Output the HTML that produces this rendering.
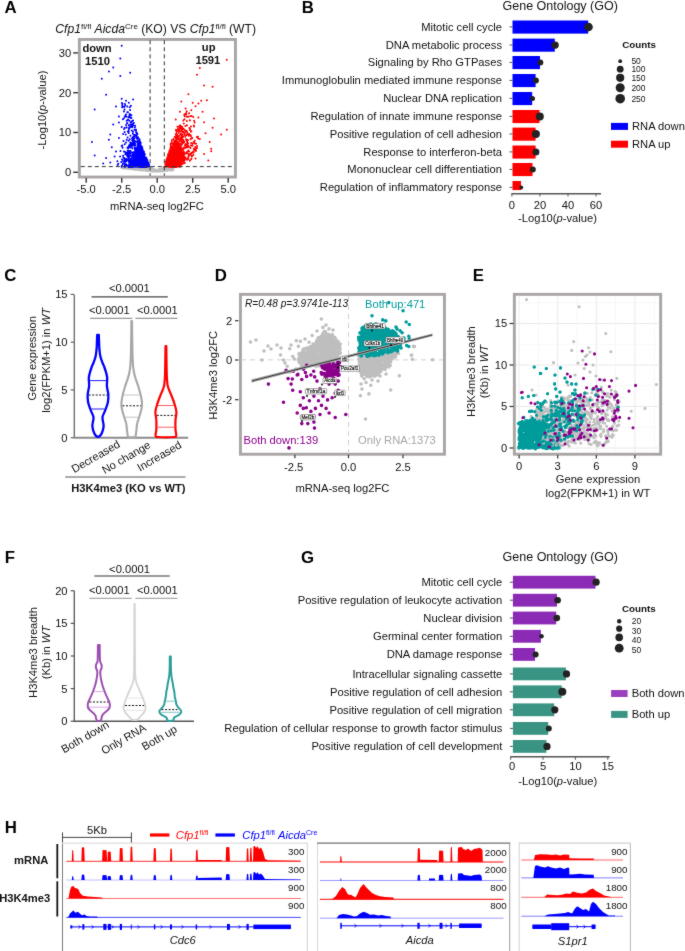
<!DOCTYPE html>
<html><head><meta charset="utf-8"><style>
html,body{margin:0;padding:0;background:#fff;}
svg{display:block;}
text{font-family:"Liberation Sans",sans-serif;}
</style></head><body>
<svg width="685" height="951" viewBox="0 0 685 951">
<defs><filter id="soft" x="0" y="0" width="685" height="951" filterUnits="userSpaceOnUse" color-interpolation-filters="sRGB"><feConvolveMatrix order="3" kernelMatrix="1 2 1 2 28 2 1 2 1" divisor="40" edgeMode="duplicate"/></filter></defs>
<g filter="url(#soft)"><rect x="0" y="0" width="685" height="951" fill="#fff"/>
<text x="4.4" y="12.6" font-size="16.8" font-weight="bold" fill="#000" >A</text>
<text x="301.7" y="12.6" font-size="16.8" font-weight="bold" fill="#000" >B</text>
<text x="4.2" y="280.5" font-size="16.8" font-weight="bold" fill="#000" >C</text>
<text x="214.7" y="280.5" font-size="16.8" font-weight="bold" fill="#000" >D</text>
<text x="472.7" y="280.5" font-size="16.8" font-weight="bold" fill="#000" >E</text>
<text x="4.7" y="562.6" font-size="16.8" font-weight="bold" fill="#000" >F</text>
<text x="300.9" y="562.5" font-size="16.8" font-weight="bold" fill="#000" >G</text>
<text x="4.7" y="833.0" font-size="16.8" font-weight="bold" fill="#000" >H</text>
<text x="55.3" y="33.3" font-size="12.15" fill="#111"><tspan font-style="italic">Cfp1</tspan><tspan font-size="8" dy="-4">fl/fl</tspan><tspan dy="4"> </tspan><tspan font-style="italic">Aicda</tspan><tspan font-size="8" dy="-4">Cre</tspan><tspan dy="4"> (KO) VS </tspan><tspan font-style="italic">Cfp1</tspan><tspan font-size="8" dy="-4">fl/fl</tspan><tspan dy="4"> (WT)</tspan></text>
<rect x="79.35" y="39.45" width="156.1" height="137.6" fill="#fff" stroke="#aaa5a5" stroke-width="2.9"/>
<path d="M151.2 169.5h0M131.4 167.3h0M171.7 168.0h0M173.1 168.9h0M165.2 170.3h0M160.2 169.6h0M170.3 167.8h0M167.3 170.0h0M162.5 169.8h0M137.9 169.0h0M163.1 168.2h0M165.5 168.5h0M130.5 168.9h0M151.1 170.6h0M139.1 169.9h0M129.7 167.8h0M133.3 167.6h0M138.8 167.6h0M137.4 169.2h0M142.2 170.5h0M144.3 169.4h0M122.4 167.4h0M141.1 170.4h0M171.5 169.8h0M134.8 169.7h0M126.9 167.7h0M151.9 169.7h0M134.5 168.9h0M172.0 169.3h0M173.0 167.6h0M128.2 167.5h0M122.8 167.6h0M163.7 168.6h0M150.2 167.9h0M129.7 168.1h0M135.5 168.8h0M131.6 167.8h0M151.4 168.5h0M154.3 170.0h0M169.5 167.9h0M151.1 170.2h0M169.8 169.4h0M127.0 168.3h0M158.3 169.6h0M155.2 170.0h0M170.3 168.0h0M144.8 169.1h0M161.1 170.6h0M127.4 167.9h0M163.6 170.4h0M157.1 170.1h0M128.3 168.8h0M147.3 169.8h0M170.9 167.2h0M144.8 167.9h0M154.4 171.3h0M172.1 169.9h0M125.6 168.0h0M122.6 167.8h0M143.1 167.4h0M143.1 167.7h0M162.1 169.5h0M134.0 168.8h0M147.2 169.5h0M155.2 170.5h0M138.4 168.3h0M173.4 169.7h0M139.1 170.1h0M126.6 168.7h0M143.6 167.8h0M157.9 169.7h0M165.1 168.9h0M151.8 171.5h0M141.6 169.6h0M153.9 171.5h0M149.8 169.8h0M147.2 169.5h0M127.0 167.7h0M163.2 169.1h0M127.7 167.9h0M166.8 167.3h0M161.0 171.5h0M167.2 168.5h0M136.0 167.4h0M164.5 167.6h0M134.5 168.3h0M141.3 169.5h0M161.2 169.6h0M138.9 168.6h0M169.8 168.7h0M169.0 168.8h0M173.1 170.3h0M145.5 168.8h0M159.4 169.1h0M154.0 170.3h0M154.6 170.3h0M158.2 169.6h0M122.4 168.0h0M167.1 170.8h0M162.7 171.4h0M155.3 169.7h0M134.0 168.6h0M133.4 167.9h0M149.1 168.8h0M138.6 168.4h0M171.2 168.0h0M171.0 169.8h0M148.4 169.6h0M139.6 167.8h0M130.8 168.1h0M161.8 168.3h0M122.7 168.1h0M147.3 167.4h0M130.2 167.5h0M142.3 168.7h0M169.8 170.5h0M138.8 169.7h0M128.6 168.5h0M158.0 170.6h0M128.0 167.6h0M148.0 170.6h0M164.2 167.9h0M132.9 167.3h0M163.7 170.5h0M121.8 167.4h0M164.5 170.9h0M161.4 169.0h0M154.5 169.4h0M172.7 169.4h0M164.9 167.5h0M138.0 168.1h0M157.2 170.2h0M151.1 170.4h0M134.7 168.4h0M128.7 167.5h0M167.8 170.1h0M157.8 170.4h0M128.0 167.6h0M161.4 170.6h0M126.8 168.4h0M161.7 170.0h0M164.0 170.7h0M127.2 168.3h0M167.3 170.4h0M125.5 167.6h0M126.4 167.7h0M126.0 168.4h0M156.1 169.8h0M142.9 169.1h0M123.3 168.1h0M134.2 167.7h0M158.7 169.9h0M149.3 168.4h0M128.3 168.3h0M136.9 169.2h0M160.0 171.2h0M138.6 169.3h0M166.5 168.6h0M146.6 169.5h0M169.5 167.4h0M145.0 168.8h0M166.4 170.1h0M135.1 169.5h0M147.7 168.1h0M129.8 168.3h0M173.0 168.9h0M141.5 167.7h0M167.9 169.5h0M128.1 167.9h0M160.1 169.0h0M155.9 171.2h0M148.4 170.0h0M144.8 169.1h0M169.0 167.5h0M169.7 169.1h0M171.7 170.1h0M169.4 168.5h0M166.9 169.5h0M173.1 170.3h0M165.6 167.9h0M141.1 167.8h0M132.8 167.8h0M146.0 169.4h0M131.9 167.6h0M159.6 171.6h0M172.4 169.8h0M141.1 169.1h0M151.6 168.1h0M170.7 168.5h0M140.6 170.0h0M125.3 167.9h0M151.9 169.9h0M172.6 169.1h0M139.9 169.0h0M130.6 167.3h0M152.3 169.6h0M143.8 169.8h0M138.0 168.7h0M144.8 167.3h0M150.9 170.6h0M124.5 168.4h0M139.6 167.9h0M167.8 170.1h0M162.1 170.0h0M149.6 169.1h0M123.9 168.5h0M156.3 170.3h0M141.4 167.5h0M164.2 170.1h0M125.2 167.9h0M155.6 171.3h0M124.0 167.9h0M123.5 167.5h0M154.1 170.9h0M144.8 169.9h0M131.3 169.0h0M164.0 169.5h0M158.8 171.0h0M163.5 169.0h0M155.6 170.9h0M150.8 170.7h0M172.2 168.3h0M149.3 168.7h0M126.9 168.3h0M133.7 167.6h0M122.4 167.9h0M166.7 168.0h0M159.0 171.1h0M133.7 167.9h0M137.2 168.0h0M139.8 167.9h0M151.4 168.3h0M172.8 169.2h0M172.8 170.4h0M167.2 170.9h0M150.0 169.7h0M161.6 170.5h0M132.5 167.7h0M150.2 168.2h0M147.1 170.9h0M161.7 170.9h0M146.2 170.9h0M135.1 168.1h0M161.3 169.5h0M144.7 168.2h0M156.4 171.5h0M149.4 168.8h0M159.5 171.3h0M137.8 169.1h0M126.7 168.3h0M159.5 170.2h0M130.7 167.8h0M127.8 167.6h0M129.4 168.9h0M134.7 168.4h0M135.7 167.5h0M170.3 169.7h0M160.6 169.6h0M150.8 170.4h0M170.9 167.4h0M122.4 168.0h0M138.3 169.5h0M144.0 167.6h0M122.9 167.4h0M137.7 170.0h0M168.3 169.9h0M132.7 169.2h0M140.7 170.0h0M131.0 168.8h0M151.7 169.8h0M137.5 168.5h0M161.8 169.1h0M139.5 167.5h0M162.7 169.4h0M146.3 169.7h0M128.7 167.4h0M153.2 171.4h0M169.7 167.6h0M123.4 167.6h0M134.0 168.3h0M164.9 169.8h0M147.5 168.5h0M131.7 168.0h0M143.7 167.3h0M131.4 167.8h0M123.8 168.2h0M127.8 168.7h0M149.1 170.5h0M162.9 171.1h0M154.0 169.1h0M128.3 168.6h0M161.3 170.1h0M170.0 169.5h0M142.3 167.3h0M139.5 167.3h0M167.9 170.2h0M150.0 167.4h0M127.8 167.5h0M161.8 169.0h0M152.8 171.3h0M171.4 170.2h0M162.3 168.9h0M138.2 168.1h0M143.0 168.0h0M123.9 167.3h0M141.6 167.8h0M146.1 167.9h0M137.3 168.5h0M123.0 167.8h0M125.8 167.4h0M156.8 171.1h0M172.2 167.4h0M171.3 170.3h0M158.2 170.2h0M153.1 171.6h0M169.6 169.2h0M152.5 168.7h0M136.0 169.8h0M169.6 169.8h0M123.8 168.4h0M173.3 168.0h0M132.6 169.1h0M168.2 168.5h0M151.9 171.1h0M143.1 167.4h0M121.9 167.9h0M124.7 167.2h0M127.1 167.3h0M165.3 168.3h0M123.9 167.6h0M147.3 169.2h0M129.2 168.1h0M163.3 170.9h0M167.1 169.4h0M135.5 169.2h0M145.5 168.5h0M151.2 168.0h0M148.2 169.1h0M173.0 169.7h0M122.6 168.0h0M137.9 169.7h0M143.4 170.5h0M169.4 169.1h0M167.2 168.4h0M159.5 169.7h0M137.3 168.0h0M132.4 168.2h0M152.6 168.9h0M130.4 168.5h0M164.4 168.0h0M172.4 170.1h0M132.6 169.2h0M159.2 169.8h0M155.3 169.8h0M148.4 168.9h0M169.4 168.5h0M155.7 170.4h0M147.3 168.1h0M151.4 171.0h0M143.8 169.2h0M144.1 168.7h0M140.4 169.1h0M143.8 169.4h0M172.1 170.2h0M122.6 167.5h0M142.2 169.0h0M152.4 170.3h0M134.1 169.5h0M167.0 167.4h0M136.5 168.6h0M138.5 169.9h0M168.0 167.8h0M134.2 168.9h0M157.9 170.1h0M146.0 169.5h0M133.8 167.7h0M166.5 167.8h0M127.6 167.9h0M172.8 168.1h0M145.5 170.3h0M124.8 167.6h0M125.3 167.5h0M156.2 170.8h0M167.9 167.5h0M153.7 171.4h0M152.2 170.0h0M134.6 167.4h0M159.5 171.5h0M133.6 168.7h0M151.4 170.2h0M144.5 167.9h0M131.1 167.8h0M138.8 167.4h0M171.0 169.5h0M153.1 171.3h0M143.0 168.5h0M154.8 170.9h0M123.5 168.3h0M150.7 170.7h0M137.6 168.3h0M168.4 169.0h0M134.9 168.2h0M136.0 167.8h0M129.8 168.7h0M144.4 167.5h0M130.3 168.8h0M128.5 168.7h0M138.9 169.0h0M161.1 170.4h0M146.3 169.5h0M161.8 168.4h0M143.8 167.5h0M134.7 167.3h0M148.9 168.5h0M141.5 169.6h0M128.7 167.4h0M140.3 168.1h0M145.6 168.9h0M132.4 169.1h0M139.1 168.2h0M149.9 171.3h0M158.5 170.8h0M125.3 168.3h0M132.7 167.6h0M150.2 170.0h0M134.6 169.0h0M136.2 168.9h0M162.7 168.6h0M157.9 169.9h0M155.6 171.6h0M124.0 168.3h0M135.1 168.4h0M164.3 168.9h0M144.0 169.8h0M172.6 168.0h0M139.4 170.1h0M172.6 169.6h0M165.6 170.7h0M155.5 171.0h0M167.8 169.9h0M126.9 168.5h0M163.5 167.5h0M155.0 170.0h0M136.3 169.1h0M126.2 167.2h0M123.9 167.7h0M139.8 169.7h0M144.3 167.4h0M134.5 169.3h0M154.3 169.8h0M148.2 170.4h0M167.0 170.6h0M130.7 168.8h0M148.3 169.3h0M150.4 168.4h0M168.0 169.2h0M123.9 167.4h0M122.7 168.0h0M129.1 168.0h0M162.2 171.1h0M137.0 167.6h0M157.4 171.8h0M157.3 170.3h0M142.9 170.1h0M155.9 171.1h0M128.6 168.8h0M142.6 170.1h0M141.7 168.7h0M150.3 169.7h0M163.2 171.1h0M138.8 167.4h0M166.5 167.5h0M161.4 169.8h0M162.5 169.4h0M127.8 168.5h0M126.7 167.4h0M138.4 168.9h0M149.6 170.9h0M158.3 170.0h0M163.0 168.1h0M138.1 169.7h0M161.2 169.4h0M141.0 169.3h0M129.7 167.5h0M145.6 167.9h0M139.3 169.2h0M148.3 168.2h0M167.5 169.7h0M157.6 171.1h0M166.4 168.1h0M150.5 169.9h0M135.9 167.5h0M163.2 170.3h0M126.1 168.5h0M171.7 170.4h0M163.7 169.3h0M150.4 169.2h0M143.0 168.7h0M126.4 167.3h0M127.0 168.7h0M156.6 170.5h0M163.5 168.7h0M169.9 170.6h0M122.3 168.1h0M162.1 171.0h0M149.2 168.1h0M129.8 168.1h0M168.4 168.1h0M142.3 168.9h0M136.1 167.3h0M162.3 169.1h0M137.5 168.0h0M146.9 168.0h0M140.6 167.6h0M157.2 171.1h0M150.9 168.2h0M149.1 167.4h0M122.1 167.3h0M158.7 170.7h0M165.7 170.6h0M139.2 168.1h0M164.4 169.8h0M173.2 168.3h0M124.0 168.4h0M125.7 167.9h0M138.4 169.3h0M144.9 170.5h0M168.8 167.8h0M150.7 169.6h0M137.7 168.3h0M139.7 167.3h0M171.3 168.1h0M164.5 171.0h0M128.1 168.4h0M128.2 168.3h0M172.8 167.7h0M171.4 169.8h0M133.2 169.5h0M135.9 169.7h0M149.1 170.0h0M156.6 170.7h0M152.7 170.6h0M159.8 169.8h0M158.7 170.7h0M145.7 169.8h0M123.8 167.9h0M153.6 171.1h0M166.3 167.7h0M165.9 167.9h0M147.0 170.3h0M135.8 167.9h0M172.7 170.1h0M122.0 167.9h0M139.8 168.4h0M127.5 167.5h0M139.2 167.5h0M138.8 169.2h0M130.8 167.3h0M152.3 168.6h0M125.0 167.9h0M159.7 169.0h0M170.2 170.3h0M141.0 167.2h0M149.4 167.4h0M134.8 169.7h0M170.7 169.7h0M150.8 170.0h0M151.6 168.0h0M170.8 167.6h0M135.0 167.7h0M122.7 167.9h0M170.6 169.8h0M140.7 168.5h0M134.0 167.9h0M155.5 171.7h0M169.4 170.5h0M157.8 171.2h0M129.1 169.0h0M173.4 167.8h0M145.5 168.0h0M172.0 167.5h0M149.3 170.1h0M148.6 167.3h0M159.5 169.9h0M165.4 169.6h0M150.7 168.0h0M132.0 167.5h0M123.0 167.8h0M151.5 170.9h0M169.5 169.2h0M131.3 168.5h0M152.4 170.1h0M121.9 168.2h0M158.7 171.6h0M134.9 167.7h0M166.4 167.7h0M130.7 169.3h0M160.8 169.8h0M140.6 170.3h0M144.1 169.9h0M152.2 168.0h0M132.6 169.3h0M157.7 171.8h0M133.3 168.5h0M172.8 169.4h0M138.1 168.7h0M130.1 168.4h0M158.0 171.2h0M163.0 170.8h0M127.0 167.8h0M145.2 167.5h0M127.1 167.6h0M156.4 171.1h0M128.4 167.9h0M161.0 170.1h0M146.2 168.4h0M153.3 170.3h0M131.3 168.4h0M150.2 167.6h0M173.3 168.6h0M138.7 169.5h0M154.4 169.6h0M134.5 168.0h0M173.5 169.1h0M170.4 169.2h0M155.5 169.6h0M132.2 168.7h0M172.7 170.2h0M137.6 168.7h0M160.3 169.8h0M169.9 168.4h0M121.8 168.2h0M123.6 168.0h0M123.1 167.8h0M154.5 171.2h0M166.1 169.5h0M171.5 169.4h0M153.8 170.0h0M135.3 167.8h0M121.9 168.1h0M138.3 167.5h0M147.6 170.9h0M137.2 168.3h0M163.6 171.0h0M162.1 170.2h0M148.9 169.5h0M144.4 167.2h0M169.3 167.5h0M159.8 169.8h0M129.0 169.0h0" stroke="#bdbdbd" stroke-width="2.0" stroke-linecap="round"/>
<path d="M143.3 158.6h0M141.6 150.0h0M136.2 153.0h0M138.0 165.6h0M139.9 166.1h0M147.3 165.3h0M140.1 152.0h0M143.7 163.9h0M145.0 157.3h0M135.0 152.0h0M128.2 166.5h0M132.5 163.4h0M145.9 163.3h0M138.7 149.0h0M135.0 162.4h0M132.0 157.6h0M142.9 152.7h0M144.8 165.6h0M133.7 158.7h0M133.5 158.9h0M138.5 155.2h0M141.1 161.7h0M134.5 160.7h0M142.3 154.7h0M131.1 160.0h0M129.9 166.6h0M138.5 151.8h0M137.4 163.1h0M134.5 166.1h0M137.9 160.9h0M133.2 163.9h0M137.7 159.1h0M133.3 156.1h0M147.2 162.9h0M136.9 153.3h0M133.5 165.5h0M146.2 157.9h0M132.0 162.4h0M136.1 151.0h0M139.4 166.5h0M145.7 162.7h0M132.0 165.6h0M143.1 163.7h0M140.8 151.1h0M139.0 165.0h0M142.7 155.3h0M145.1 162.4h0M137.7 159.8h0M140.7 150.3h0M130.4 166.0h0M143.0 162.5h0M136.6 161.0h0M137.9 151.7h0M140.5 167.0h0M133.4 157.4h0M142.6 165.9h0M136.3 154.4h0M141.8 149.4h0M144.0 164.5h0M144.2 163.8h0M136.9 156.8h0M134.6 164.4h0M147.9 165.5h0M144.2 161.6h0M145.3 158.2h0M146.7 167.1h0M140.8 164.5h0M130.0 166.5h0M140.3 151.0h0M139.6 160.5h0M143.5 157.6h0M148.4 163.2h0M134.2 154.9h0M146.9 164.9h0M140.5 158.1h0M137.7 145.4h0M128.3 166.5h0M141.2 153.2h0M143.8 152.9h0M144.7 154.7h0M141.8 163.5h0M139.0 160.3h0M130.8 162.7h0M140.2 154.8h0M141.6 158.5h0M147.8 162.2h0M144.1 163.3h0M142.3 162.4h0M136.0 161.2h0M145.7 157.8h0M143.5 166.4h0M131.6 160.3h0M137.1 166.0h0M149.2 165.5h0M135.2 165.9h0M142.6 161.3h0M143.4 162.0h0M143.9 157.3h0M136.6 162.9h0M141.9 158.0h0M134.2 164.9h0M144.2 164.8h0M135.6 160.6h0M130.3 162.4h0M138.6 149.6h0M136.1 166.4h0M142.6 151.4h0M138.6 148.1h0M145.3 163.8h0M144.7 164.6h0M129.8 163.3h0M142.1 166.6h0M134.0 157.9h0M148.4 163.7h0M141.8 166.4h0M143.6 154.7h0M141.2 152.3h0M130.3 162.6h0M140.8 160.5h0M134.2 160.8h0M137.9 160.3h0M138.9 144.3h0M136.0 157.8h0M143.5 156.2h0M142.1 151.9h0M134.2 154.0h0M144.2 153.4h0M141.3 155.6h0M131.9 167.0h0M137.5 162.6h0M137.1 159.9h0M134.9 158.6h0M140.5 155.4h0M136.3 164.3h0M141.2 160.6h0M136.5 161.1h0M140.0 155.6h0M136.5 164.8h0M134.8 156.9h0M138.0 154.3h0M133.2 155.2h0M143.3 153.4h0M144.1 159.2h0M132.7 165.6h0M144.2 155.6h0M138.2 145.1h0M138.8 163.9h0M143.9 165.2h0M134.1 165.2h0M145.5 161.5h0M132.2 163.1h0M139.9 149.8h0M148.1 164.0h0M140.8 146.6h0M134.8 156.7h0M146.2 166.9h0M138.6 162.9h0M137.0 153.6h0M140.8 162.0h0M142.1 148.2h0M134.3 152.6h0M142.4 166.7h0M135.1 157.2h0M139.9 142.5h0M147.2 161.6h0M143.0 164.4h0M132.0 166.1h0M144.3 160.0h0M142.0 151.9h0M131.4 162.4h0M139.3 144.8h0M138.8 155.8h0M147.9 164.8h0M133.8 158.9h0M139.0 142.8h0M141.8 157.5h0M129.8 164.9h0M129.8 165.4h0M137.6 155.2h0M143.7 155.4h0M144.3 160.1h0M139.1 153.3h0M145.3 164.3h0M145.0 165.8h0M139.9 158.9h0M131.4 160.8h0M140.8 154.0h0M146.0 158.0h0M147.1 160.5h0M137.1 160.1h0M137.3 162.1h0M129.1 165.4h0M135.3 162.4h0M141.0 153.9h0M134.5 156.8h0M146.4 158.9h0M139.4 149.9h0M138.7 159.4h0M138.0 156.5h0M146.6 165.7h0M132.5 165.3h0M143.7 160.4h0M130.1 164.9h0M141.3 163.7h0M141.6 159.7h0M136.6 159.4h0M138.3 163.0h0M141.5 147.8h0M139.5 166.4h0M141.4 147.3h0M138.7 159.0h0M141.4 167.1h0M133.7 154.7h0M136.5 161.8h0M144.0 167.0h0M140.1 164.8h0M149.2 166.0h0M141.6 159.1h0M135.0 156.2h0M139.7 160.6h0M144.4 159.7h0M138.6 156.9h0M130.6 166.7h0M139.1 159.9h0M130.7 166.0h0M140.5 164.3h0M143.0 160.1h0M136.7 163.5h0M141.1 154.1h0M144.1 162.0h0M143.3 156.2h0M139.8 158.8h0M147.0 161.1h0M140.5 163.6h0M130.0 164.4h0M137.0 155.5h0M138.9 157.3h0M144.9 154.3h0M142.3 161.8h0M134.3 154.1h0M141.7 149.8h0M136.6 147.8h0M143.3 165.2h0M137.8 148.0h0M146.8 160.3h0M136.2 154.2h0M137.4 153.4h0M138.9 161.0h0M141.6 150.2h0M142.8 163.3h0M131.6 160.4h0M143.9 152.2h0M143.4 165.5h0M139.7 158.5h0M136.4 149.4h0M134.1 153.6h0M142.5 154.9h0M130.8 164.3h0M148.4 166.6h0M139.5 166.7h0M147.5 162.4h0M139.3 155.3h0M140.6 146.4h0M134.7 161.6h0M136.7 163.4h0M129.9 165.9h0M137.0 162.4h0M142.2 164.2h0M139.7 146.9h0M144.4 154.4h0M138.9 167.0h0M138.5 155.3h0M140.8 163.4h0M139.3 149.2h0M133.0 167.1h0M138.6 145.1h0M142.8 165.2h0M132.9 164.5h0M137.3 157.3h0M140.8 167.1h0M136.6 157.7h0M146.1 159.9h0M130.1 164.5h0M141.1 148.4h0M141.4 160.6h0M140.4 153.7h0M142.5 150.7h0M144.6 164.1h0M144.3 157.4h0M139.2 165.6h0M141.4 148.2h0M134.8 160.1h0M139.4 160.6h0M146.0 159.6h0M129.5 165.2h0M137.3 154.7h0M136.8 148.7h0M133.0 166.5h0M136.4 149.9h0M135.3 152.5h0M144.7 162.7h0M139.6 146.3h0M139.9 154.1h0M149.0 164.7h0M142.2 155.3h0M146.0 162.1h0M144.4 158.1h0M141.7 160.8h0M143.0 155.8h0M134.1 160.6h0M133.8 156.3h0M138.5 157.2h0M143.1 165.5h0M129.9 166.3h0M136.5 154.1h0M130.8 163.5h0M141.6 160.0h0M135.8 156.6h0M146.2 165.9h0M140.4 144.2h0M133.6 166.3h0M137.0 164.4h0M143.9 151.7h0M142.0 151.1h0M145.0 162.5h0M132.7 166.4h0M145.4 164.3h0M137.9 154.6h0M143.2 165.6h0M141.1 157.9h0M134.2 152.9h0M131.9 166.1h0M140.2 147.0h0M136.4 150.2h0M143.0 163.8h0M139.4 157.6h0M147.3 164.2h0M135.6 154.6h0M140.9 156.9h0M143.5 151.3h0M136.5 159.2h0M141.6 166.0h0M137.0 164.1h0M142.0 161.0h0M143.0 166.1h0M146.4 159.1h0M137.4 153.9h0M139.8 156.1h0M144.9 158.4h0M146.9 161.2h0M137.0 158.2h0M138.4 149.2h0M142.0 161.8h0M140.1 153.9h0M134.1 166.3h0M130.7 162.4h0M130.5 161.3h0M141.6 148.6h0M140.6 154.1h0M138.3 161.3h0M145.4 158.3h0M139.6 163.3h0M141.2 146.5h0M147.4 163.4h0M140.5 165.5h0M146.4 164.5h0M147.2 160.1h0M134.1 165.3h0M140.1 145.7h0M141.5 147.5h0M132.5 158.3h0M138.6 157.3h0M148.3 162.7h0M139.2 159.8h0M129.7 166.0h0M131.7 166.2h0M139.3 150.2h0M135.3 162.5h0M138.8 165.8h0M141.7 150.6h0M139.8 162.1h0M140.0 143.6h0M139.6 151.6h0M141.1 147.0h0M148.3 166.2h0M132.4 165.0h0M145.1 160.5h0M140.4 158.2h0M141.0 166.0h0M131.1 160.2h0M140.5 158.8h0M132.9 167.0h0M140.9 164.9h0M139.6 142.3h0M136.8 161.0h0M148.6 166.0h0M140.3 157.0h0M134.4 155.8h0M130.8 165.2h0M142.1 161.9h0M143.1 162.5h0M136.3 151.2h0M138.5 158.7h0M140.1 146.6h0M130.9 161.9h0M146.0 160.6h0M137.2 166.2h0M142.6 149.4h0M148.6 164.1h0M145.4 160.2h0M137.8 164.6h0M134.5 159.5h0M138.2 161.0h0M138.7 157.2h0M144.0 160.5h0M140.4 149.7h0M132.4 162.9h0M135.7 152.2h0M137.8 147.7h0M141.9 160.6h0M138.6 144.9h0M136.6 151.9h0M143.6 151.3h0M139.5 153.8h0M140.2 162.1h0M129.6 166.9h0M140.5 153.3h0M146.5 162.9h0M143.0 166.1h0M144.5 164.0h0M140.3 166.4h0M135.1 165.3h0M136.2 163.6h0M137.3 147.7h0M129.2 165.7h0M137.2 156.5h0M139.4 161.4h0M144.0 163.4h0M133.8 160.4h0M138.6 150.0h0M142.5 166.8h0M138.8 149.3h0M142.2 158.9h0M137.7 161.7h0M147.1 165.5h0M133.4 156.7h0M141.3 150.3h0M132.6 162.8h0M139.4 156.4h0M141.8 148.9h0M133.9 158.9h0M136.9 157.7h0M148.6 163.6h0M141.8 157.6h0M137.8 148.0h0M129.6 167.0h0M140.0 152.0h0M141.2 151.5h0M141.6 155.0h0M137.4 166.7h0M144.3 157.7h0M135.0 164.8h0M134.7 157.4h0M142.1 163.3h0M143.4 154.5h0M137.8 164.3h0M147.3 162.0h0M145.1 161.9h0M148.9 165.6h0M143.8 154.4h0M135.4 165.2h0M140.5 164.6h0M137.8 145.5h0M130.2 161.5h0M140.4 151.5h0M129.7 162.6h0M138.7 161.4h0M135.9 153.5h0M143.2 163.9h0M144.9 159.9h0M136.9 166.0h0M141.3 147.2h0M138.6 145.1h0M135.7 156.6h0M136.6 150.7h0M134.5 151.9h0M136.3 152.0h0M135.4 155.4h0M135.8 166.5h0M139.6 154.3h0M142.6 160.9h0M141.2 155.1h0M142.7 154.7h0M139.0 163.8h0M139.1 164.7h0M143.8 153.7h0M141.5 150.4h0M142.2 160.1h0M143.5 153.7h0M136.2 153.9h0M130.0 165.8h0M148.5 163.4h0M143.1 160.1h0M141.2 145.9h0M143.8 153.8h0M130.2 164.9h0M146.3 161.6h0M141.4 165.4h0M138.5 147.3h0M132.5 164.4h0M138.3 145.7h0M143.0 154.1h0M141.9 161.7h0M137.5 153.8h0M145.6 166.2h0M139.8 145.1h0M144.4 158.7h0M130.5 162.7h0M136.8 164.1h0M135.2 150.4h0M138.7 163.8h0M143.0 156.1h0M140.5 143.6h0M132.4 157.4h0M131.3 161.8h0M140.4 166.9h0M138.0 150.3h0M141.4 155.5h0M141.2 147.6h0M131.2 162.4h0M145.9 157.6h0M138.1 156.2h0M146.8 158.9h0M146.4 166.2h0M133.2 157.0h0M142.6 154.3h0M143.5 163.7h0M142.7 150.0h0M142.0 167.1h0M140.9 164.3h0M134.5 161.2h0M139.3 151.7h0M134.2 157.2h0M139.6 144.4h0M144.1 160.7h0M134.6 164.6h0M143.8 163.7h0M139.9 156.6h0M135.3 166.8h0M136.2 152.4h0M133.7 157.8h0M143.4 165.5h0M140.0 147.4h0M137.6 166.0h0M140.4 156.5h0M131.8 165.6h0M137.5 166.8h0M130.0 165.6h0M134.2 161.9h0M136.8 154.2h0M137.6 145.8h0M140.0 159.0h0M129.4 165.9h0M141.4 161.4h0M130.8 167.0h0M135.3 160.4h0M134.9 160.3h0M145.3 161.2h0M146.8 161.0h0M137.4 149.7h0M143.4 159.1h0M136.6 148.4h0M134.4 152.6h0M137.0 161.6h0M132.7 160.2h0M131.9 166.2h0M140.5 144.0h0M142.0 160.3h0M146.2 160.4h0M132.1 160.5h0M133.6 164.0h0M140.0 147.1h0M139.2 157.4h0M146.1 158.3h0M140.9 153.2h0M143.7 159.2h0M137.9 152.3h0M137.1 152.1h0M133.7 161.6h0M128.6 165.1h0M148.0 163.3h0M139.1 143.7h0M143.3 158.1h0M148.9 166.4h0M138.6 159.1h0M140.9 159.2h0M136.0 165.4h0M139.3 150.4h0M145.7 162.4h0M129.7 165.4h0M147.9 164.9h0M144.3 164.3h0M148.1 164.2h0M144.2 163.1h0M142.3 157.5h0M136.9 150.5h0M146.8 164.5h0M137.5 147.2h0M137.1 158.7h0M144.0 166.6h0M130.9 159.7h0M138.9 157.5h0M138.4 166.2h0M139.9 163.2h0M140.4 166.3h0M139.0 152.3h0M136.5 150.0h0M139.5 153.0h0M139.0 144.5h0M137.6 145.6h0M145.5 167.1h0M147.1 160.9h0M138.9 167.0h0M140.1 153.8h0M136.9 162.3h0M139.4 150.0h0M141.1 147.7h0M142.2 159.7h0M135.5 159.2h0M134.5 164.2h0M131.3 165.0h0M142.1 159.2h0M135.4 150.6h0M136.9 156.6h0M138.8 143.7h0M140.2 143.8h0M142.0 161.7h0M137.7 164.5h0M140.9 150.8h0M137.2 161.0h0M139.6 154.8h0M139.5 160.6h0M139.0 158.0h0M129.3 163.0h0M140.7 158.3h0M138.3 162.7h0M138.2 161.2h0M138.3 163.8h0M131.6 164.1h0M141.2 162.1h0M141.2 155.7h0M143.3 161.2h0M136.8 157.6h0M137.9 147.0h0M139.8 154.5h0M141.7 166.2h0M136.2 132.5h0M137.2 163.2h0M143.8 166.5h0M129.5 156.8h0M128.3 159.6h0M142.4 163.0h0M143.6 152.1h0M135.3 143.9h0M130.9 155.3h0M128.9 152.9h0M130.1 161.7h0M133.9 144.1h0M131.8 163.6h0M136.6 150.7h0M137.3 150.9h0M142.6 156.4h0M137.9 158.4h0M138.5 161.4h0M128.7 153.3h0M126.9 155.0h0M136.2 163.3h0M138.5 158.7h0M133.7 142.8h0M130.5 150.8h0M127.1 152.5h0M143.4 154.6h0M128.0 160.1h0M128.7 158.6h0M142.1 147.4h0M133.4 165.7h0M124.5 160.9h0M134.9 164.8h0M131.5 163.2h0M135.2 149.4h0M132.4 148.3h0M133.4 160.5h0M140.2 144.4h0M126.7 159.0h0M134.4 143.7h0M137.2 133.2h0M143.4 153.4h0M134.3 156.5h0M137.4 166.6h0M132.9 144.8h0M137.2 153.5h0M124.8 158.5h0M135.1 164.8h0M133.1 137.0h0M138.2 152.0h0M125.1 162.1h0M136.5 159.8h0M129.5 146.6h0M138.0 137.2h0M126.0 153.5h0M142.0 160.1h0M134.7 149.1h0M138.6 146.0h0M128.5 160.7h0M126.1 161.4h0M137.2 152.6h0M138.5 150.7h0M128.5 167.0h0M138.8 156.3h0M131.5 155.5h0M131.2 145.1h0M126.2 154.0h0M144.7 164.4h0M124.6 164.9h0M142.3 163.5h0M123.3 161.7h0M140.7 142.7h0M121.6 166.7h0M133.3 141.8h0M144.4 163.2h0M132.5 137.5h0M140.6 153.8h0M142.5 163.4h0M135.0 135.0h0M138.0 152.0h0M142.2 154.3h0M142.3 158.9h0M126.6 159.5h0M135.7 149.0h0M138.6 145.5h0M134.3 145.7h0M142.6 158.1h0M141.4 148.1h0M139.2 149.1h0M128.3 148.2h0M139.5 149.3h0M124.9 166.9h0M129.5 146.6h0M140.6 154.2h0M132.3 152.7h0M122.0 165.6h0M134.1 153.1h0M131.5 166.0h0M143.5 154.9h0M140.0 141.3h0M128.4 147.4h0M136.3 132.5h0M134.9 156.2h0M136.6 141.6h0M130.7 153.0h0M136.5 148.8h0M134.1 159.0h0M127.6 150.8h0M126.6 160.4h0M129.9 160.5h0M134.8 147.7h0M142.3 148.1h0M139.0 153.8h0M135.9 154.4h0M128.4 155.6h0M138.5 153.0h0M128.0 165.6h0M134.9 162.7h0M140.4 165.2h0M144.3 166.9h0M137.3 164.1h0M139.0 153.9h0M137.2 163.6h0M133.5 152.3h0M133.8 155.4h0M134.1 140.8h0M129.2 154.3h0M136.2 137.7h0M146.4 160.1h0M144.3 158.4h0M126.4 153.8h0M141.2 160.3h0M134.4 145.4h0M133.2 155.5h0M132.7 154.8h0M143.0 153.3h0M132.4 165.0h0M146.0 165.6h0M134.7 159.8h0M132.4 164.0h0M138.4 166.6h0M142.4 151.4h0M134.2 166.4h0M141.2 151.2h0M134.6 142.2h0M147.5 161.3h0M129.6 166.9h0M136.6 133.2h0M122.9 163.7h0M147.7 162.1h0M132.7 139.4h0M134.1 138.8h0M126.3 165.2h0M141.7 156.1h0M137.2 139.0h0M136.2 152.8h0M140.4 146.3h0M138.4 138.3h0M139.6 139.4h0M130.5 166.6h0M136.1 135.6h0M132.2 140.5h0M134.1 134.9h0M141.4 148.4h0M127.7 152.9h0M132.5 145.5h0M124.3 161.5h0M130.5 142.5h0M127.5 152.8h0M135.0 143.4h0M142.9 165.0h0M133.3 145.2h0M136.0 130.9h0M140.7 155.7h0M127.3 154.3h0M144.7 166.3h0M132.4 143.9h0M138.6 145.1h0M131.9 143.1h0M141.3 151.8h0M126.0 159.7h0M142.2 167.1h0M129.6 144.8h0M144.1 160.0h0M124.7 165.5h0M143.5 159.9h0M133.8 145.0h0M142.2 161.4h0M143.0 155.0h0M142.6 153.7h0M137.7 149.9h0M124.9 159.4h0M126.3 164.5h0M134.9 151.9h0M137.3 149.2h0M132.1 138.4h0M131.0 159.1h0M124.8 163.7h0M124.0 158.3h0M141.1 150.9h0M134.2 162.7h0M130.4 146.9h0M141.7 159.8h0M126.6 160.2h0M128.1 153.1h0M129.0 151.6h0M146.7 161.4h0M131.4 167.0h0M129.7 163.0h0M134.3 136.7h0M131.3 144.1h0M142.1 147.1h0M136.1 129.8h0M132.9 162.0h0M134.2 145.2h0M125.3 154.2h0M138.1 164.0h0M141.9 156.5h0M140.7 152.3h0M137.3 155.4h0M143.0 162.2h0M135.1 141.2h0M135.8 135.4h0M129.7 113.9h0M124.6 132.1h0M130.9 115.6h0M125.0 152.1h0M138.9 146.1h0M122.6 147.8h0M134.1 140.9h0M145.1 165.1h0M141.2 154.2h0M131.3 152.2h0M141.5 161.4h0M131.4 118.1h0M133.8 154.6h0M139.9 146.5h0M140.7 163.9h0M140.2 152.8h0M126.4 127.5h0M132.2 143.2h0M134.5 161.0h0M138.1 152.1h0M133.3 139.0h0M137.8 153.2h0M134.9 127.5h0M128.8 125.2h0M117.6 165.0h0M131.7 121.5h0M140.4 159.3h0M130.3 158.9h0M129.6 114.3h0M132.3 157.9h0M128.6 140.7h0M127.5 156.8h0M131.8 130.4h0M140.7 154.2h0M128.0 150.4h0M128.6 117.1h0M129.4 151.5h0M135.3 158.0h0M123.5 157.7h0M128.6 157.3h0M132.3 127.2h0M131.4 115.3h0M118.3 163.8h0M129.1 128.0h0M129.8 139.2h0M135.8 152.0h0M135.6 129.9h0M143.6 167.0h0M135.7 161.4h0M130.1 114.7h0M120.5 151.1h0M130.1 109.9h0M123.2 155.8h0M143.6 158.9h0M129.1 157.3h0M130.0 156.3h0M121.2 162.0h0M132.8 133.7h0M120.1 156.6h0M128.9 125.5h0M142.0 162.5h0M124.7 144.2h0M135.4 151.1h0M131.1 144.5h0M130.5 156.1h0M140.7 155.3h0M124.0 151.5h0M132.9 124.9h0M123.1 156.0h0M139.3 157.9h0M137.7 138.3h0M128.8 161.9h0M122.0 159.6h0M128.1 119.5h0M135.2 145.6h0M122.3 145.4h0M130.3 166.9h0M123.5 141.0h0M122.6 160.1h0M139.0 156.4h0M126.6 127.4h0M128.8 130.9h0M131.9 126.0h0M125.3 105.6h0M126.7 139.7h0M122.3 105.3h0M133.2 125.6h0M122.6 106.5h0M131.5 124.6h0M127.3 106.5h0M129.8 107.2h0M133.5 141.8h0M124.6 128.0h0M138.1 145.4h0M129.4 120.7h0M129.6 145.6h0M126.5 116.7h0M130.4 147.5h0M137.7 144.3h0M137.9 141.1h0M126.7 120.8h0M130.3 124.8h0M122.1 107.3h0M137.8 142.9h0M132.5 144.8h0M132.0 121.4h0M127.8 131.6h0M124.1 129.0h0M127.0 122.9h0M124.2 106.9h0M127.5 120.1h0M127.4 112.3h0M133.0 131.7h0M125.7 134.6h0M130.9 126.8h0M133.9 123.1h0M127.9 112.2h0M126.1 125.1h0M129.3 128.6h0M132.8 124.1h0M127.4 147.8h0M127.6 137.5h0M124.9 103.9h0M122.9 119.2h0M130.4 135.8h0M123.9 111.4h0M124.8 116.8h0M128.7 132.9h0M134.0 141.3h0M136.4 136.2h0M137.3 134.5h0M131.6 146.6h0M133.1 120.6h0M137.3 142.3h0M130.7 122.5h0M129.5 127.2h0M129.3 116.0h0M137.3 141.2h0M131.6 121.9h0M125.4 115.2h0M124.6 128.1h0M138.5 140.7h0M130.2 144.1h0M121.9 102.9h0M132.9 124.4h0M132.4 148.3h0M132.0 125.4h0M128.8 129.1h0M128.7 145.9h0M135.1 125.7h0M123.7 118.5h0M129.7 127.5h0M121.7 45.7h0M120.3 58.5h0M113.2 67.6h0M108.9 71.6h0M120.3 76.0h0M130.2 72.8h0M101.8 78.8h0M106.1 94.7h0M94.7 109.4h0M91.9 142.1h0M94.7 155.6h0M126.0 100.7h0M116.0 106.6h0M128.8 102.7h0M121.7 98.7h0M133.1 99.5h0M110.3 134.5h0M113.2 124.5h0M118.9 116.6h0M122.4 103.8h0M124.5 109.4h0M130.9 105.8h0M126.0 114.6h0M130.2 117.8h0M118.9 122.6h0M121.7 126.9h0M127.4 123.3h0M108.9 139.7h0M111.8 147.2h0M116.0 151.6h0M106.1 158.0h0M103.2 163.5h0M118.9 138.1h0M123.1 134.1h0M128.8 130.9h0M131.6 125.3h0M134.5 129.7h0M126.0 142.5h0M121.7 146.0h0M114.6 156.4h0M110.3 162.4h0M117.4 161.2h0" stroke="#0000ff" stroke-width="2.0" stroke-linecap="round"/>
<path d="M176.1 163.7h0M173.4 156.4h0M175.2 161.9h0M174.9 141.6h0M182.7 158.2h0M174.8 152.9h0M177.3 155.8h0M171.6 166.9h0M172.8 161.0h0M170.6 158.3h0M181.6 155.3h0M178.1 144.1h0M174.6 154.3h0M169.8 157.0h0M175.2 167.0h0M176.1 150.3h0M175.1 162.1h0M176.9 161.6h0M180.2 147.7h0M179.0 148.6h0M166.3 164.4h0M176.3 148.5h0M173.6 149.5h0M165.4 164.0h0M176.3 166.0h0M173.4 156.2h0M170.8 164.2h0M181.1 147.2h0M176.7 166.0h0M174.5 165.7h0M179.1 144.8h0M170.7 163.6h0M174.3 161.2h0M175.9 141.8h0M175.3 149.5h0M166.8 162.1h0M178.0 148.3h0M167.5 158.7h0M173.4 162.4h0M171.6 159.2h0M172.1 165.9h0M168.6 165.7h0M174.7 145.0h0M178.8 145.9h0M182.8 155.3h0M176.8 144.6h0M174.9 154.0h0M169.9 160.6h0M172.2 157.3h0M176.0 147.4h0M167.9 162.9h0M170.9 157.5h0M171.7 152.8h0M166.9 159.0h0M170.1 150.0h0M183.0 160.7h0M178.0 148.5h0M172.8 157.4h0M178.7 145.6h0M181.7 148.6h0M177.2 143.7h0M166.7 164.6h0M179.4 158.9h0M170.5 149.4h0M177.4 143.6h0M181.6 154.8h0M179.1 145.8h0M173.3 158.1h0M181.5 160.7h0M181.9 155.9h0M166.6 161.1h0M168.6 164.7h0M178.6 149.8h0M179.7 162.2h0M183.5 158.3h0M179.5 162.3h0M177.2 151.4h0M173.1 153.1h0M178.8 161.6h0M169.7 154.1h0M175.5 145.6h0M172.8 144.2h0M178.9 157.7h0M174.9 151.2h0M170.5 163.8h0M171.2 161.8h0M175.6 160.3h0M167.8 157.6h0M176.6 151.7h0M180.1 162.3h0M168.4 158.6h0M171.0 151.9h0M184.7 160.0h0M173.2 143.9h0M183.2 156.9h0M177.2 165.3h0M177.7 145.7h0M168.1 156.8h0M167.8 161.0h0M181.4 159.7h0M181.3 147.6h0M171.9 154.3h0M171.9 162.3h0M176.0 156.5h0M181.2 158.7h0M174.5 152.8h0M176.3 140.8h0M178.5 143.2h0M173.4 166.3h0M173.3 143.9h0M181.6 163.0h0M180.5 150.7h0M170.1 157.4h0M174.9 150.5h0M171.3 151.0h0M178.0 162.1h0M170.4 151.2h0M175.9 148.4h0M171.0 151.7h0M178.2 155.9h0M170.4 154.8h0M177.6 147.0h0M171.4 163.8h0M178.3 151.3h0M172.0 155.1h0M172.9 153.7h0M175.9 149.8h0M182.6 154.2h0M166.6 163.2h0M175.2 145.7h0M174.4 154.3h0M169.0 154.9h0M176.4 140.8h0M173.3 163.2h0M175.6 158.9h0M166.4 162.3h0M178.9 150.7h0M182.6 156.3h0M182.3 154.6h0M167.8 159.8h0M171.3 160.4h0M178.3 162.1h0M179.5 165.6h0M176.7 141.3h0M175.6 161.5h0M166.6 165.0h0M178.2 145.8h0M181.6 155.1h0M166.6 161.4h0M168.1 154.4h0M170.3 158.2h0M182.3 153.9h0M178.5 161.6h0M174.6 163.5h0M168.1 161.9h0M178.3 149.7h0M174.1 143.0h0M181.7 149.7h0M182.3 156.0h0M168.8 164.1h0M176.4 139.7h0M173.9 155.0h0M172.3 148.6h0M173.8 166.7h0M178.1 146.3h0M169.9 152.8h0M169.7 154.8h0M175.2 165.9h0M175.8 160.6h0M182.3 160.7h0M177.3 156.7h0M171.8 146.5h0M180.7 163.5h0M183.6 158.0h0M170.6 160.3h0M179.5 153.1h0M177.4 148.5h0M175.6 150.1h0M171.0 166.8h0M174.2 149.0h0M173.6 151.2h0M176.0 147.1h0M179.3 154.3h0M183.3 155.2h0M176.3 166.8h0M171.7 160.7h0M173.1 163.4h0M178.8 144.7h0M176.7 163.2h0M177.6 144.1h0M179.4 166.1h0M176.7 140.7h0M181.0 163.6h0M168.2 153.9h0M182.3 156.8h0M171.0 159.9h0M177.7 150.1h0M178.3 148.1h0M171.2 152.6h0M176.6 145.8h0M183.4 154.6h0M176.9 159.2h0M181.1 150.6h0M175.4 155.3h0M175.7 157.3h0M176.7 148.0h0M179.6 145.9h0M178.9 160.3h0M180.3 147.3h0M173.6 146.4h0M175.1 165.4h0M174.1 157.3h0M180.2 148.9h0M175.7 143.7h0M179.5 164.9h0M177.4 148.3h0M180.8 151.7h0M171.0 164.4h0M166.5 159.5h0M172.6 163.2h0M172.7 164.8h0M183.8 156.4h0M169.7 150.9h0M179.9 156.9h0M170.4 167.0h0M168.8 154.8h0M167.5 163.2h0M179.8 162.0h0M174.3 164.0h0M167.6 158.0h0M176.6 151.5h0M176.2 163.8h0M168.6 163.8h0M171.7 160.8h0M166.6 166.4h0M167.4 159.6h0M171.3 164.8h0M179.0 163.7h0M169.1 161.2h0M174.7 145.1h0M164.7 166.9h0M170.8 163.6h0M168.0 158.1h0M167.3 159.6h0M174.6 141.7h0M171.6 152.7h0M168.7 166.2h0M182.5 159.4h0M172.7 154.4h0M178.5 157.2h0M175.5 154.2h0M178.5 166.6h0M182.3 159.0h0M172.5 147.6h0M172.9 166.4h0M172.3 149.5h0M176.8 165.0h0M169.5 156.0h0M181.7 160.9h0M178.6 147.8h0M177.6 154.2h0M170.8 166.3h0M181.9 153.1h0M176.5 167.0h0M169.1 156.5h0M179.6 149.3h0M179.0 149.7h0M175.1 156.0h0M178.2 147.7h0M177.2 154.0h0M168.9 156.0h0M169.8 164.5h0M174.0 159.1h0M175.0 152.1h0M175.1 153.6h0M167.8 162.0h0M173.8 156.8h0M181.3 164.1h0M172.2 162.3h0M180.8 153.4h0M172.4 167.0h0M178.6 151.3h0M174.1 161.3h0M178.3 149.0h0M175.0 145.3h0M171.9 148.2h0M168.4 154.8h0M179.1 146.3h0M177.4 163.1h0M180.6 156.2h0M173.4 149.0h0M179.0 146.9h0M172.7 157.0h0M181.0 148.6h0M172.2 155.1h0M184.3 158.9h0M172.0 157.5h0M179.9 149.3h0M175.1 152.7h0M182.9 160.2h0M173.8 151.7h0M181.6 150.4h0M174.1 164.0h0M173.4 152.5h0M174.8 162.1h0M178.1 159.7h0M178.3 154.3h0M180.1 160.5h0M165.9 161.9h0M179.8 154.6h0M178.9 152.3h0M172.9 155.2h0M171.2 153.3h0M164.4 166.8h0M182.0 154.4h0M174.8 150.5h0M182.1 161.5h0M175.4 149.2h0M173.9 152.5h0M176.3 149.0h0M183.2 154.4h0M175.3 150.2h0M175.9 147.7h0M169.9 161.3h0M170.3 158.8h0M180.8 155.4h0M173.7 165.3h0M173.5 163.6h0M176.6 143.6h0M183.3 154.5h0M180.8 152.7h0M178.2 157.8h0M172.8 157.4h0M169.6 164.4h0M178.4 142.9h0M176.3 147.6h0M175.8 142.9h0M172.1 156.8h0M168.9 154.1h0M179.3 150.8h0M179.8 152.7h0M174.3 163.2h0M176.6 154.0h0M169.9 164.1h0M176.6 166.2h0M171.4 165.5h0M171.2 151.4h0M169.4 159.7h0M168.0 161.0h0M175.8 141.2h0M175.7 161.1h0M176.6 151.7h0M171.6 149.2h0M178.0 143.2h0M167.8 165.5h0M171.1 162.6h0M182.3 152.2h0M174.5 153.8h0M174.7 149.0h0M169.2 163.4h0M174.6 164.0h0M174.4 161.1h0M176.0 158.2h0M169.0 160.0h0M175.0 146.8h0M176.2 145.2h0M176.6 160.9h0M169.4 155.6h0M177.0 158.3h0M181.1 148.3h0M181.0 151.7h0M169.3 159.5h0M178.3 142.8h0M171.1 166.4h0M174.2 152.7h0M180.3 164.5h0M179.8 156.7h0M168.4 156.4h0M181.7 161.0h0M184.2 157.7h0M182.9 159.8h0M181.4 161.5h0M176.5 150.9h0M181.3 160.9h0M184.2 161.0h0M169.5 162.5h0M173.7 145.3h0M174.4 164.5h0M178.4 158.8h0M172.4 160.9h0M180.6 158.0h0M177.7 162.4h0M171.3 155.5h0M181.5 161.2h0M181.0 150.5h0M176.8 151.6h0M171.6 162.7h0M177.1 146.8h0M178.7 151.1h0M177.9 161.6h0M168.9 164.0h0M176.9 164.1h0M172.4 152.8h0M167.9 165.6h0M173.7 161.7h0M182.1 153.2h0M172.1 165.1h0M182.7 157.6h0M173.4 165.9h0M171.7 157.4h0M177.3 149.2h0M175.1 157.9h0M183.0 152.7h0M171.8 166.4h0M178.4 154.4h0M173.5 160.0h0M182.6 159.4h0M176.2 139.8h0M172.4 159.9h0M177.5 146.5h0M180.0 146.8h0M175.5 150.5h0M180.9 157.9h0M172.1 166.1h0M178.9 158.3h0M176.1 162.1h0M180.6 148.4h0M170.4 149.4h0M170.9 151.0h0M172.4 149.5h0M168.5 164.5h0M173.6 162.5h0M177.4 160.8h0M179.9 151.9h0M175.8 157.7h0M179.8 146.4h0M171.8 164.8h0M175.2 146.7h0M177.3 145.9h0M181.3 154.7h0M171.6 165.4h0M179.8 157.9h0M172.8 161.6h0M177.6 166.2h0M177.4 158.3h0M180.2 149.8h0M183.7 159.7h0M171.3 149.7h0M180.9 148.5h0M168.1 163.4h0M175.2 153.4h0M178.1 164.3h0M174.6 162.9h0M178.1 155.0h0M172.6 154.9h0M169.9 162.7h0M180.5 162.5h0M167.4 157.7h0M179.8 152.8h0M179.6 162.0h0M177.7 163.6h0M167.0 158.6h0M178.8 156.0h0M176.7 162.1h0M178.2 166.4h0M180.8 148.8h0M181.6 147.8h0M175.7 161.6h0M177.3 148.2h0M171.1 154.8h0M168.8 161.2h0M168.6 162.5h0M181.0 153.9h0M177.3 159.2h0M176.3 149.9h0M174.8 155.3h0M169.0 163.3h0M174.1 142.3h0M173.6 158.0h0M178.9 151.5h0M172.6 146.6h0M168.3 159.6h0M174.9 151.0h0M168.4 158.6h0M175.8 158.6h0M184.3 159.9h0M179.2 159.1h0M179.2 156.5h0M167.7 156.6h0M171.6 164.2h0M180.9 151.5h0M167.5 160.7h0M174.0 166.9h0M183.1 161.2h0M174.1 162.0h0M175.9 153.0h0M178.9 165.6h0M179.4 149.5h0M181.0 162.6h0M168.7 155.2h0M181.4 161.0h0M182.6 153.8h0M177.2 163.8h0M174.3 156.8h0M173.7 155.2h0M177.4 158.7h0M174.0 149.9h0M178.2 158.9h0M169.2 157.1h0M178.5 152.0h0M167.2 164.5h0M176.6 140.3h0M169.2 166.7h0M180.5 162.1h0M177.4 159.7h0M169.3 165.1h0M168.8 157.7h0M183.5 156.8h0M184.3 158.8h0M168.1 161.6h0M166.5 161.0h0M175.7 162.0h0M174.6 156.2h0M176.5 161.4h0M175.5 146.8h0M181.4 161.7h0M177.7 144.4h0M179.3 162.8h0M171.9 147.1h0M176.8 166.5h0M178.6 155.6h0M175.0 151.5h0M172.7 156.0h0M177.7 164.7h0M179.4 161.3h0M178.3 162.8h0M173.2 163.6h0M168.0 165.5h0M173.4 158.7h0M171.5 147.8h0M183.5 160.3h0M179.8 146.3h0M171.1 160.5h0M180.3 164.0h0M180.7 153.7h0M166.5 162.1h0M170.8 156.4h0M171.9 153.9h0M175.2 157.1h0M175.4 165.3h0M172.7 164.7h0M178.5 166.2h0M170.2 164.4h0M178.4 158.3h0M179.7 160.1h0M176.5 157.3h0M176.6 158.4h0M184.3 158.2h0M169.9 160.5h0M170.5 150.2h0M178.5 151.2h0M181.9 161.5h0M178.1 146.4h0M177.9 155.3h0M177.9 143.6h0M177.7 154.8h0M167.0 166.1h0M171.8 159.2h0M167.1 161.1h0M175.1 141.7h0M169.4 161.3h0M170.2 149.4h0M172.2 148.9h0M177.5 152.0h0M178.0 162.4h0M173.8 158.9h0M174.2 143.5h0M171.7 151.9h0M179.6 154.6h0M173.6 147.6h0M168.5 157.5h0M177.7 153.2h0M179.5 153.9h0M169.1 152.8h0M176.8 157.1h0M167.3 161.5h0M183.8 159.7h0M182.0 149.0h0M169.0 155.6h0M168.2 159.9h0M176.3 165.4h0M172.6 157.9h0M169.1 152.1h0M174.8 165.6h0M174.4 166.9h0M177.1 144.7h0M169.0 166.0h0M170.9 150.1h0M171.4 157.6h0M167.6 162.2h0M169.6 151.5h0M175.9 158.9h0M166.8 166.0h0M175.1 155.1h0M176.4 151.4h0M172.7 163.9h0M177.9 163.1h0M165.4 164.7h0M172.9 153.6h0M181.8 161.6h0M177.8 153.2h0M177.9 155.3h0M180.8 164.2h0M165.9 164.2h0M176.0 143.7h0M178.6 145.8h0M175.1 157.9h0M177.2 152.0h0M178.1 161.4h0M178.3 158.8h0M177.6 143.6h0M184.0 161.0h0M172.7 166.0h0M179.4 148.8h0M178.0 160.4h0M172.7 150.5h0M171.6 158.7h0M173.3 143.5h0M178.2 143.1h0M171.9 166.1h0M180.1 162.4h0M177.5 156.7h0M178.8 166.2h0M168.3 160.4h0M181.2 155.7h0M181.8 163.5h0M176.4 144.2h0M179.2 146.3h0M167.9 158.4h0M169.8 158.8h0M166.7 165.3h0M171.2 153.4h0M170.9 150.4h0M174.2 145.9h0M177.1 158.4h0M169.7 161.2h0M179.3 148.3h0M174.4 143.9h0M183.4 154.5h0M178.6 149.5h0M179.1 145.0h0M180.7 161.5h0M168.2 158.8h0M180.9 161.1h0M178.0 154.7h0M176.3 141.6h0M177.4 145.4h0M169.6 150.6h0M175.3 159.2h0M177.5 158.3h0M177.0 164.3h0M177.9 145.9h0M180.2 162.2h0M179.0 165.9h0M180.7 147.3h0M170.8 159.1h0M174.9 142.8h0M173.8 144.1h0M175.0 148.9h0M179.0 153.6h0M174.3 145.7h0M178.1 144.8h0M170.9 152.1h0M179.0 160.5h0M172.0 151.3h0M177.0 141.5h0M173.7 156.7h0M177.1 147.1h0M180.2 151.0h0M166.2 166.1h0M167.9 160.4h0M173.1 148.2h0M169.6 159.7h0M174.0 165.9h0M176.7 146.7h0M173.9 159.0h0M168.3 165.9h0M166.5 161.8h0M169.6 151.9h0M167.9 159.8h0M172.9 162.0h0M182.1 154.9h0M176.8 164.2h0M181.8 161.9h0M172.0 148.6h0M169.0 164.5h0M172.8 156.7h0M182.6 160.1h0M169.3 164.8h0M179.3 160.1h0M186.7 139.5h0M182.7 137.5h0M192.3 137.9h0M187.4 151.6h0M165.9 161.3h0M183.0 142.9h0M175.9 157.4h0M180.0 140.5h0M174.9 150.7h0M194.8 143.5h0M174.9 161.5h0M184.3 159.5h0M182.0 144.1h0M178.5 161.8h0M187.0 131.8h0M176.6 138.7h0M168.6 163.3h0M179.0 154.5h0M178.9 126.7h0M182.1 159.1h0M191.2 138.4h0M171.9 155.8h0M179.1 139.5h0M175.5 155.2h0M170.7 146.9h0M181.4 152.3h0M169.2 165.2h0M195.3 147.1h0M176.6 163.7h0M181.4 162.6h0M181.7 164.1h0M183.4 129.0h0M185.8 158.4h0M178.7 149.4h0M178.6 145.4h0M180.3 126.7h0M188.7 155.9h0M181.9 130.4h0M184.8 162.9h0M171.2 148.6h0M188.9 155.9h0M188.6 154.2h0M173.6 159.9h0M191.5 152.8h0M175.8 156.7h0M185.4 136.1h0M175.1 145.0h0M179.3 165.9h0M180.9 164.7h0M180.4 131.4h0M178.0 138.3h0M178.8 138.2h0M187.8 140.0h0M169.5 161.1h0M193.3 155.0h0M176.4 150.6h0M179.0 135.8h0M183.2 152.1h0M184.4 152.7h0M175.9 164.7h0M183.0 140.5h0M180.6 144.6h0M176.7 162.5h0M176.2 146.3h0M196.0 151.0h0M180.6 137.4h0M177.5 149.7h0M176.9 139.8h0M176.7 163.2h0M182.7 134.8h0M175.6 159.2h0M169.8 153.3h0M189.3 154.7h0M183.1 163.6h0M167.4 163.8h0M179.1 131.2h0M189.8 160.8h0M177.4 126.7h0M188.4 150.6h0M170.5 149.7h0M176.6 166.2h0M179.1 140.0h0M176.3 155.4h0M179.3 157.8h0M183.9 142.7h0M194.3 149.3h0M175.8 140.2h0M195.5 147.5h0M177.4 153.3h0M191.1 145.5h0M178.4 152.4h0M183.7 155.0h0M178.2 165.3h0M185.3 136.7h0M177.1 134.5h0M191.2 159.2h0M175.1 156.3h0M173.2 149.8h0M169.7 160.8h0M181.0 134.8h0M169.4 156.5h0M183.8 163.0h0M184.3 141.6h0M194.0 142.2h0M189.1 134.0h0M189.2 151.5h0M186.6 134.9h0M176.9 163.6h0M178.8 148.0h0M191.9 156.4h0M179.8 161.0h0M178.0 164.9h0M180.4 127.8h0M186.0 139.3h0M172.8 158.9h0M167.3 160.5h0M180.1 143.5h0M188.8 155.1h0M176.0 164.1h0M170.6 144.8h0M175.8 129.9h0M196.0 143.7h0M195.2 149.9h0M185.8 146.3h0M193.4 142.3h0M167.7 163.3h0M191.8 153.0h0M180.1 159.2h0M169.8 153.0h0M183.2 140.6h0M180.3 144.5h0M173.4 138.9h0M183.2 156.5h0M184.4 129.8h0M183.0 136.5h0M185.8 147.6h0M176.6 164.9h0M185.9 146.8h0M193.7 152.4h0M176.6 149.5h0M174.5 165.8h0M172.6 165.9h0M183.2 131.7h0M181.6 127.8h0M192.8 152.4h0M178.5 162.8h0M184.4 159.3h0M170.4 159.7h0M167.8 164.1h0M173.4 161.8h0M181.9 137.0h0M168.1 155.8h0M176.7 152.1h0M189.0 147.1h0M176.5 162.7h0M184.4 158.2h0M183.9 147.5h0M178.4 146.8h0M178.7 133.1h0M177.5 137.5h0M187.1 159.8h0M179.7 145.0h0M195.8 149.5h0M178.7 136.3h0M181.8 164.3h0M174.7 137.0h0M178.9 129.9h0M193.2 151.4h0M169.6 150.4h0M189.6 154.5h0M181.7 130.0h0M187.1 141.9h0M171.9 140.3h0M175.7 134.4h0M187.2 132.5h0M178.0 153.2h0M179.0 129.5h0M180.9 131.2h0M187.1 144.6h0M180.4 128.8h0M180.8 128.2h0M187.7 153.6h0M184.2 154.8h0M176.2 153.6h0M176.8 154.3h0M173.7 166.2h0M193.8 150.9h0M169.6 161.4h0M177.3 152.5h0M176.4 161.5h0M193.8 148.8h0M196.6 147.8h0M171.0 145.7h0M180.8 137.6h0M177.0 145.3h0M184.3 132.5h0M173.8 145.0h0M181.5 141.2h0M182.4 134.8h0M190.5 153.9h0M190.9 145.6h0M172.8 163.8h0M181.7 139.3h0M174.2 140.5h0M188.5 159.0h0M180.7 155.1h0M171.6 142.7h0M176.5 136.2h0M176.6 156.2h0M172.3 157.5h0M186.6 152.7h0M185.9 153.5h0M197.1 145.9h0M191.4 155.4h0M180.9 139.0h0M173.5 144.3h0M179.3 141.3h0M175.0 166.0h0M173.9 163.7h0M178.9 131.1h0M190.6 139.3h0M168.4 162.8h0M179.3 140.3h0M184.6 133.9h0M177.0 156.5h0M175.6 152.8h0M185.6 130.9h0M185.1 135.6h0M171.1 160.7h0M184.3 148.2h0M175.4 151.3h0M184.8 145.3h0M174.9 141.1h0M176.7 162.8h0M168.3 166.5h0M172.5 160.7h0M172.6 148.7h0M191.4 158.7h0M173.5 157.1h0M180.6 166.5h0M172.1 150.4h0M183.0 139.8h0M173.2 156.1h0M179.3 166.8h0M176.9 141.8h0M181.6 135.4h0M188.2 145.6h0M181.7 144.6h0M177.0 160.9h0M171.4 161.7h0M176.5 137.5h0M185.3 147.7h0M182.4 137.2h0M175.5 160.2h0M175.8 141.2h0M178.0 129.8h0M186.9 152.2h0M179.5 140.6h0M172.2 157.8h0M179.9 159.6h0M177.1 155.2h0M187.3 144.7h0M180.4 131.4h0M170.2 151.3h0M187.9 134.1h0M185.2 130.2h0M181.7 136.5h0M183.1 128.5h0M180.8 150.0h0M187.4 146.9h0M185.3 157.3h0M183.8 132.5h0M179.4 159.6h0M183.6 156.1h0M176.7 142.5h0M189.1 134.5h0M192.5 145.8h0M179.3 159.6h0M187.8 146.3h0M173.8 163.6h0M167.4 163.8h0M183.1 149.8h0M188.1 143.2h0M191.1 142.9h0M171.0 165.2h0M173.9 155.8h0M188.0 140.2h0M181.7 144.9h0M176.5 131.9h0M176.1 155.2h0M186.7 140.7h0M182.2 129.4h0M195.6 143.6h0M181.6 157.6h0M171.0 154.8h0M176.3 158.8h0M186.0 144.1h0M177.1 148.3h0M171.7 142.0h0M173.0 159.6h0M183.1 149.4h0M190.8 135.6h0M187.4 158.9h0M179.2 152.6h0M181.7 129.2h0M171.8 161.2h0M177.5 129.2h0M170.5 148.3h0M170.8 143.7h0M182.6 142.1h0M181.5 159.9h0M190.5 148.0h0M182.6 132.3h0M190.9 136.2h0M183.8 151.4h0M177.0 143.9h0M183.1 155.2h0M167.7 159.9h0M181.0 133.7h0M174.5 143.1h0M177.0 157.7h0M188.1 157.3h0M178.3 164.1h0M177.7 136.5h0M166.8 164.8h0M181.8 142.2h0M179.2 156.8h0M192.6 143.8h0M194.7 140.7h0M186.8 147.5h0M185.4 126.1h0M180.2 125.5h0M183.1 136.4h0M189.4 128.0h0M194.6 122.5h0M191.4 131.3h0M179.2 128.4h0M190.1 128.9h0M182.1 126.8h0M190.4 116.3h0M193.3 117.0h0M187.4 134.0h0M177.0 131.4h0M175.9 138.3h0M183.8 123.6h0M186.9 116.8h0M184.7 114.3h0M189.8 134.8h0M183.7 132.2h0M184.9 132.4h0M186.8 121.0h0M196.9 137.0h0M180.0 125.6h0M181.5 126.5h0M181.5 130.8h0M186.7 111.3h0M194.1 120.7h0M188.7 135.8h0M191.0 126.5h0M191.6 116.0h0M186.2 112.9h0M184.8 116.2h0M188.4 116.7h0M180.9 128.4h0M176.3 133.7h0M186.2 114.4h0M186.4 131.0h0M183.3 120.6h0M197.9 136.8h0M198.1 138.5h0M180.4 134.2h0M189.0 113.5h0M193.8 125.5h0M176.2 135.8h0M189.1 113.2h0M185.4 130.8h0M189.9 129.9h0M184.5 119.3h0M191.0 131.7h0M189.9 120.2h0M226.8 59.7h0M199.8 68.0h0M197.0 74.8h0M204.1 85.5h0M212.6 86.7h0M188.4 94.3h0M221.1 134.5h0M226.8 129.7h0M211.2 148.8h0M211.2 151.2h0M192.7 102.7h0M201.2 100.7h0M206.9 100.3h0M198.4 103.4h0M195.5 106.2h0M185.6 108.6h0M181.3 101.5h0M202.6 111.8h0M214.0 118.6h0M212.6 127.7h0M191.3 110.2h0M198.4 117.4h0M204.1 122.2h0M194.1 126.5h0M205.5 133.3h0M209.7 142.1h0M199.8 138.9h0M197.0 148.0h0M204.1 154.0h0M208.3 160.4h0M195.5 158.4h0M179.9 111.8h0M175.7 119.4h0M184.2 115.0h0M189.9 120.6h0M187.0 125.3h0" stroke="#ff0000" stroke-width="2.0" stroke-linecap="round"/>
<line x1="150.1" y1="40.3" x2="150.1" y2="175.8" stroke="#333" stroke-width="1" stroke-dasharray="4 3"/>
<line x1="164.3" y1="40.3" x2="164.3" y2="175.8" stroke="#333" stroke-width="1" stroke-dasharray="4 3"/>
<line x1="80.8" y1="166.6" x2="233.3" y2="166.6" stroke="#333" stroke-width="1" stroke-dasharray="4 3"/>
<text x="82.4" y="52.0" font-size="11.2" font-weight="bold" fill="#111" >down</text>
<text x="85.0" y="65.2" font-size="11.2" font-weight="bold" fill="#111" >1510</text>
<text x="215.5" y="50.5" font-size="11.2" text-anchor="end" font-weight="bold" fill="#111" >up</text>
<text x="220.3" y="64.2" font-size="11.2" text-anchor="end" font-weight="bold" fill="#111" >1591</text>
<line x1="73.2" y1="172.3" x2="77.9" y2="172.3" stroke="#333" stroke-width="1.4" />
<text x="71.2" y="176.2" font-size="11.2" text-anchor="end" fill="#111" >0</text>
<line x1="73.2" y1="132.5" x2="77.9" y2="132.5" stroke="#333" stroke-width="1.4" />
<text x="71.2" y="136.4" font-size="11.2" text-anchor="end" fill="#111" >10</text>
<line x1="73.2" y1="92.7" x2="77.9" y2="92.7" stroke="#333" stroke-width="1.4" />
<text x="71.2" y="96.6" font-size="11.2" text-anchor="end" fill="#111" >20</text>
<line x1="73.2" y1="52.9" x2="77.9" y2="52.9" stroke="#333" stroke-width="1.4" />
<text x="71.2" y="56.8" font-size="11.2" text-anchor="end" fill="#111" >30</text>
<line x1="86.2" y1="178.1" x2="86.2" y2="182.7" stroke="#333" stroke-width="1.4" />
<text x="86.2" y="192.8" font-size="11.2" text-anchor="middle" fill="#111" >-5.0</text>
<line x1="121.7" y1="178.1" x2="121.7" y2="182.7" stroke="#333" stroke-width="1.4" />
<text x="121.7" y="192.8" font-size="11.2" text-anchor="middle" fill="#111" >-2.5</text>
<line x1="157.2" y1="178.1" x2="157.2" y2="182.7" stroke="#333" stroke-width="1.4" />
<text x="157.2" y="192.8" font-size="11.2" text-anchor="middle" fill="#111" >0.0</text>
<line x1="192.7" y1="178.1" x2="192.7" y2="182.7" stroke="#333" stroke-width="1.4" />
<text x="192.7" y="192.8" font-size="11.2" text-anchor="middle" fill="#111" >2.5</text>
<line x1="228.2" y1="178.1" x2="228.2" y2="182.7" stroke="#333" stroke-width="1.4" />
<text x="228.2" y="192.8" font-size="11.2" text-anchor="middle" fill="#111" >5.0</text>
<text x="157.0" y="209.5" font-size="11.2" text-anchor="middle" fill="#111" >mRNA-seq log2FC</text>
<text x="0" y="0" font-size="11.2" text-anchor="middle" transform="translate(46.3 110) rotate(-90)" fill="#111">-Log10(<tspan font-style="italic">p</tspan>-value)</text>
<text x="502.5" y="10.2" font-size="12.5" fill="#111" >Gene Ontology (GO)</text>
<rect x="512.5" y="20.5" width="75.7" height="13.1" fill="#0000ff" />
<circle cx="588.5" cy="27.0" r="4.3" fill="#222"/>
<line x1="509.5" y1="26.9" x2="512.5" y2="26.9" stroke="#555" stroke-width="1" />
<text x="502.0" y="30.8" font-size="11.2" text-anchor="end" fill="#111" >Mitotic cell cycle</text>
<rect x="512.5" y="38.6" width="42.3" height="13.1" fill="#0000ff" />
<circle cx="555.1" cy="45.1" r="3.7" fill="#222"/>
<line x1="509.5" y1="45.0" x2="512.5" y2="45.0" stroke="#555" stroke-width="1" />
<text x="502.0" y="48.9" font-size="11.2" text-anchor="end" fill="#111" >DNA metabolic process</text>
<rect x="512.5" y="56.0" width="27.5" height="13.1" fill="#0000ff" />
<circle cx="540.3" cy="62.5" r="3" fill="#222"/>
<line x1="509.5" y1="62.4" x2="512.5" y2="62.4" stroke="#555" stroke-width="1" />
<text x="502.0" y="66.3" font-size="11.2" text-anchor="end" fill="#111" >Signaling by Rho GTPases</text>
<rect x="512.5" y="74.0" width="23.1" height="13.1" fill="#0000ff" />
<circle cx="535.9" cy="80.5" r="3" fill="#222"/>
<line x1="509.5" y1="80.4" x2="512.5" y2="80.4" stroke="#555" stroke-width="1" />
<text x="502.0" y="84.3" font-size="11.2" text-anchor="end" fill="#111" >Immunoglobulin mediated immune response</text>
<rect x="512.5" y="92.0" width="19.7" height="13.1" fill="#0000ff" />
<circle cx="532.5" cy="98.5" r="2.5" fill="#222"/>
<line x1="509.5" y1="98.4" x2="512.5" y2="98.4" stroke="#555" stroke-width="1" />
<text x="502.0" y="102.3" font-size="11.2" text-anchor="end" fill="#111" >Nuclear DNA replication</text>
<rect x="512.5" y="110.0" width="27.0" height="13.1" fill="#ff0000" />
<circle cx="539.8" cy="116.5" r="4" fill="#222"/>
<line x1="509.5" y1="116.4" x2="512.5" y2="116.4" stroke="#555" stroke-width="1" />
<text x="502.0" y="120.3" font-size="11.2" text-anchor="end" fill="#111" >Regulation of innate immune response</text>
<rect x="512.5" y="127.6" width="23.1" height="13.1" fill="#ff0000" />
<circle cx="535.9" cy="134.1" r="4" fill="#222"/>
<line x1="509.5" y1="134.0" x2="512.5" y2="134.0" stroke="#555" stroke-width="1" />
<text x="502.0" y="137.9" font-size="11.2" text-anchor="end" fill="#111" >Positive regulation of cell adhesion</text>
<rect x="512.5" y="145.5" width="23.1" height="13.1" fill="#ff0000" />
<circle cx="535.9" cy="152.0" r="3.5" fill="#222"/>
<line x1="509.5" y1="151.9" x2="512.5" y2="151.9" stroke="#555" stroke-width="1" />
<text x="502.0" y="155.8" font-size="11.2" text-anchor="end" fill="#111" >Response to interferon-beta</text>
<rect x="512.5" y="163.0" width="20.0" height="13.1" fill="#ff0000" />
<circle cx="532.8" cy="169.5" r="3" fill="#222"/>
<line x1="509.5" y1="169.4" x2="512.5" y2="169.4" stroke="#555" stroke-width="1" />
<text x="502.0" y="173.3" font-size="11.2" text-anchor="end" fill="#111" >Mononuclear cell differentiation</text>
<rect x="512.5" y="181.0" width="8.5" height="9.1" fill="#ff0000" />
<circle cx="521.3" cy="187.5" r="1.9" fill="#222"/>
<line x1="509.5" y1="187.4" x2="512.5" y2="187.4" stroke="#555" stroke-width="1" />
<text x="502.0" y="191.3" font-size="11.2" text-anchor="end" fill="#111" >Regulation of inflammatory response</text>
<line x1="511.4" y1="193.8" x2="601.0" y2="193.8" stroke="#555" stroke-width="1.5" />
<line x1="511.9" y1="193.6" x2="511.9" y2="196.5" stroke="#555" stroke-width="1" />
<text x="511.9" y="208.5" font-size="11.2" text-anchor="middle" fill="#111" >0</text>
<line x1="539.9" y1="193.6" x2="539.9" y2="196.5" stroke="#555" stroke-width="1" />
<text x="539.9" y="208.5" font-size="11.2" text-anchor="middle" fill="#111" >20</text>
<line x1="568.0" y1="193.6" x2="568.0" y2="196.5" stroke="#555" stroke-width="1" />
<text x="568.0" y="208.5" font-size="11.2" text-anchor="middle" fill="#111" >40</text>
<line x1="596.0" y1="193.6" x2="596.0" y2="196.5" stroke="#555" stroke-width="1" />
<text x="596.0" y="208.5" font-size="11.2" text-anchor="middle" fill="#111" >60</text>
<text x="557.5" y="222" font-size="11.2" text-anchor="middle" fill="#111">-Log10(<tspan font-style="italic">p</tspan>-value)</text>
<text x="622.3" y="48.0" font-size="9.8" font-weight="bold" fill="#111" >Counts</text>
<circle cx="620.2" cy="61.2" r="1.9" fill="#222"/>
<text x="631.4" y="63.5" font-size="8.5" fill="#111" >50</text>
<circle cx="620.2" cy="69.2" r="3.4" fill="#222"/>
<text x="631.4" y="71.7" font-size="8.5" fill="#111" >100</text>
<circle cx="620.2" cy="77.8" r="4.1" fill="#222"/>
<text x="631.4" y="80.6" font-size="8.5" fill="#111" >150</text>
<circle cx="620.2" cy="87.7" r="4.5" fill="#222"/>
<text x="631.4" y="90.5" font-size="8.5" fill="#111" >200</text>
<circle cx="620.2" cy="98.7" r="4.8" fill="#222"/>
<text x="631.4" y="101.7" font-size="8.5" fill="#111" >250</text>
<rect x="611.0" y="122.9" width="17.0" height="7.0" fill="#0000ff" />
<text x="632.0" y="130.0" font-size="11.2" fill="#111" >RNA down</text>
<rect x="611.0" y="140.7" width="17.0" height="7.0" fill="#ff0000" />
<text x="632.0" y="148.0" font-size="11.2" fill="#111" >RNA up</text>
<line x1="74.3" y1="294.7" x2="74.3" y2="437.7" stroke="#666" stroke-width="1.3" />
<line x1="70.7" y1="437.7" x2="74.3" y2="437.7" stroke="#666" stroke-width="1.2" />
<text x="67.6" y="441.6" font-size="11.2" text-anchor="end" fill="#111" >0</text>
<line x1="70.7" y1="389.9" x2="74.3" y2="389.9" stroke="#666" stroke-width="1.2" />
<text x="67.6" y="393.8" font-size="11.2" text-anchor="end" fill="#111" >5</text>
<line x1="70.7" y1="342.2" x2="74.3" y2="342.2" stroke="#666" stroke-width="1.2" />
<text x="67.6" y="346.1" font-size="11.2" text-anchor="end" fill="#111" >10</text>
<line x1="70.7" y1="294.4" x2="74.3" y2="294.4" stroke="#666" stroke-width="1.2" />
<text x="67.6" y="298.3" font-size="11.2" text-anchor="end" fill="#111" >15</text>
<line x1="73.6" y1="437.7" x2="188.2" y2="437.7" stroke="#8a8a8a" stroke-width="2" />
<line x1="91.5" y1="296.9" x2="167.8" y2="296.9" stroke="#444" stroke-width="1.1" />
<text x="129.3" y="292.4" font-size="11.2" text-anchor="middle" fill="#111" >&lt;0.0001</text>
<line x1="90.2" y1="318.3" x2="132.3" y2="318.3" stroke="#999" stroke-width="1.3" />
<text x="109.4" y="313.8" font-size="11.2" text-anchor="middle" fill="#111" >&lt;0.0001</text>
<line x1="135.4" y1="318.3" x2="177.5" y2="318.3" stroke="#999" stroke-width="1.3" />
<text x="157.3" y="313.8" font-size="11.2" text-anchor="middle" fill="#111" >&lt;0.0001</text>
<path d="M98.8 334.8 C98.8 335.7 98.9 338.1 99.0 340.0 C99.1 341.9 99.1 344.2 99.2 346.0 C99.3 347.8 99.4 349.1 99.6 351.0 C99.8 352.9 100.1 355.3 100.6 357.3 C101.1 359.3 102.0 361.4 102.6 363.0 C103.2 364.6 103.7 365.3 104.3 367.0 C104.9 368.7 105.7 371.1 106.2 373.0 C106.7 374.9 107.1 376.0 107.2 378.2 C107.3 380.4 106.7 383.5 106.9 386.2 C107.1 388.9 108.1 391.5 108.3 394.2 C108.5 396.9 108.4 399.6 107.9 402.3 C107.4 405.0 106.1 407.9 105.2 410.3 C104.3 412.7 103.0 414.9 102.6 416.7 C102.2 418.5 102.7 419.4 102.9 421.0 C103.1 422.6 103.8 424.4 103.6 426.4 C103.4 428.4 102.7 431.2 102.0 432.8 C101.3 434.4 100.5 435.6 99.6 436.2 C98.7 436.8 97.3 436.8 96.4 436.2 C95.5 435.6 94.7 434.4 94.0 432.8 C93.3 431.2 92.6 428.4 92.4 426.4 C92.2 424.4 92.9 422.6 93.1 421.0 C93.3 419.4 93.8 418.5 93.4 416.7 C93.0 414.9 91.7 412.7 90.8 410.3 C89.9 407.9 88.6 405.0 88.1 402.3 C87.6 399.6 87.5 396.9 87.7 394.2 C87.9 391.5 88.9 388.9 89.1 386.2 C89.3 383.5 88.7 380.4 88.8 378.2 C88.9 376.0 89.3 374.9 89.8 373.0 C90.3 371.1 91.1 368.7 91.7 367.0 C92.3 365.3 92.8 364.6 93.4 363.0 C94.0 361.4 94.9 359.3 95.4 357.3 C95.9 355.3 96.2 352.9 96.4 351.0 C96.6 349.1 96.7 347.8 96.8 346.0 C96.9 344.2 96.9 341.9 97.0 340.0 C97.1 338.1 97.2 335.7 97.2 334.8 Z" fill="none" stroke="#0000ff" stroke-width="2.3" stroke-linejoin="round"/>
<path d="M132.0 321.0 C132.0 324.2 132.1 334.3 132.2 340.0 C132.3 345.7 132.4 350.8 132.5 355.0 C132.6 359.2 132.8 362.2 133.0 365.0 C133.2 367.8 133.5 369.8 133.9 372.0 C134.3 374.2 134.7 375.6 135.5 378.2 C136.3 380.8 137.8 384.6 138.7 387.8 C139.6 391.0 140.6 394.4 141.2 397.4 C141.8 400.3 142.2 402.8 142.0 405.5 C141.8 408.2 141.1 410.6 140.3 413.5 C139.5 416.4 138.0 420.2 137.3 423.1 C136.6 426.1 136.6 429.1 136.3 431.2 C136.0 433.3 135.9 434.5 135.7 435.5 C135.5 436.5 136.1 436.8 134.9 437.0 C133.7 437.2 129.7 437.2 128.5 437.0 C127.3 436.8 127.9 436.5 127.7 435.5 C127.5 434.5 127.4 433.3 127.1 431.2 C126.8 429.1 126.8 426.1 126.1 423.1 C125.4 420.2 123.9 416.4 123.1 413.5 C122.3 410.6 121.5 408.2 121.4 405.5 C121.2 402.8 121.6 400.3 122.2 397.4 C122.7 394.4 123.7 391.0 124.7 387.8 C125.6 384.6 127.1 380.8 127.9 378.2 C128.7 375.6 129.1 374.2 129.5 372.0 C129.9 369.8 130.2 367.8 130.4 365.0 C130.6 362.2 130.8 359.2 130.9 355.0 C131.0 350.8 131.1 345.7 131.2 340.0 C131.3 334.3 131.4 324.2 131.4 321.0 Z" fill="none" stroke="#a6a6a6" stroke-width="2.1" stroke-linejoin="round"/>
<path d="M166.3 346.0 C166.3 348.3 166.4 355.2 166.5 360.0 C166.6 364.8 166.6 370.9 166.8 375.0 C167.0 379.1 167.1 382.1 167.5 384.6 C167.9 387.1 168.5 388.4 169.1 390.0 C169.7 391.6 170.0 391.9 170.9 394.2 C171.8 396.5 173.6 400.9 174.5 403.9 C175.4 406.8 176.2 409.2 176.4 411.9 C176.6 414.6 175.7 416.9 175.5 419.9 C175.3 422.8 175.4 427.1 175.5 429.6 C175.6 432.2 176.5 434.0 176.2 435.2 C175.9 436.4 177.0 436.7 173.9 437.0 C170.8 437.3 161.0 437.3 157.9 437.0 C154.8 436.7 155.9 436.4 155.6 435.2 C155.3 434.0 156.2 432.2 156.3 429.6 C156.4 427.1 156.5 422.8 156.3 419.9 C156.2 416.9 155.2 414.6 155.4 411.9 C155.6 409.2 156.4 406.8 157.3 403.9 C158.2 400.9 160.0 396.5 160.9 394.2 C161.8 391.9 162.1 391.6 162.7 390.0 C163.3 388.4 163.9 387.1 164.3 384.6 C164.7 382.1 164.8 379.1 165.0 375.0 C165.2 370.9 165.2 364.8 165.3 360.0 C165.4 355.2 165.5 348.3 165.5 346.0 Z" fill="none" stroke="#ff0000" stroke-width="2.2" stroke-linejoin="round"/>
<line x1="89.9" y1="380.6" x2="106.1" y2="380.6" stroke="#2020ff" stroke-width="1" />
<line x1="88.7" y1="395.0" x2="107.3" y2="395.0" stroke="#111" stroke-width="1" stroke-dasharray="2 1.5"/>
<line x1="91.4" y1="409.0" x2="104.6" y2="409.0" stroke="#2020ff" stroke-width="1" />
<line x1="123.8" y1="395.0" x2="139.6" y2="395.0" stroke="#c4c4c4" stroke-width="1" />
<line x1="122.5" y1="405.8" x2="140.9" y2="405.8" stroke="#111" stroke-width="1" stroke-dasharray="2 1.5"/>
<line x1="125.3" y1="417.2" x2="138.1" y2="417.2" stroke="#c4c4c4" stroke-width="1" />
<line x1="157.9" y1="405.5" x2="173.9" y2="405.5" stroke="#ff6060" stroke-width="1" />
<line x1="156.8" y1="415.4" x2="175.0" y2="415.4" stroke="#111" stroke-width="1" stroke-dasharray="2 1.5"/>
<line x1="157.3" y1="427.2" x2="174.5" y2="427.2" stroke="#ff6060" stroke-width="1" />
<text x="0" y="0" font-size="11.2" text-anchor="end" transform="translate(121 446.3) rotate(-30)" fill="#111">Decreased</text>
<text x="0" y="0" font-size="11.2" text-anchor="end" transform="translate(151.5 447.2) rotate(-30)" fill="#111">No change</text>
<text x="0" y="0" font-size="11.2" text-anchor="end" transform="translate(182.5 447.2) rotate(-30)" fill="#111">Increased</text>
<line x1="65.2" y1="477.0" x2="185.5" y2="477.0" stroke="#555" stroke-width="1.2" />
<text x="128.4" y="491.6" font-size="11.2" text-anchor="middle" font-weight="bold" fill="#111" >H3K4me3 (KO vs WT)</text>
<text x="0" y="0" font-size="11.2" text-anchor="middle" transform="translate(35.8 358.3) rotate(-90)" fill="#111">Gene expression</text>
<text x="0" y="0" font-size="11.2" text-anchor="middle" transform="translate(49.5 360.3) rotate(-90)" fill="#111">log2(FPKM+1) in <tspan font-style="italic">WT</tspan></text>
<rect x="240.45" y="294.35" width="204" height="159.9" fill="#fff" stroke="#aaa5a5" stroke-width="2.9"/>
<line x1="348.6" y1="296.0" x2="348.6" y2="452.5" stroke="#d0d0d0" stroke-width="1" stroke-dasharray="5 4"/>
<line x1="241.0" y1="359.9" x2="443.0" y2="359.9" stroke="#d0d0d0" stroke-width="1" stroke-dasharray="5 4"/>
<path d="M333.0 355.1h0M309.5 364.2h0M336.6 360.4h0M303.3 356.6h0M331.7 335.8h0M333.4 360.9h0M339.7 345.5h0M322.9 365.6h0M329.7 339.9h0M340.0 348.6h0M330.0 343.8h0M327.6 363.7h0M328.9 352.1h0M300.4 356.4h0M307.3 356.6h0M307.7 351.7h0M304.0 361.5h0M310.2 350.8h0M322.0 353.8h0M339.6 359.8h0M307.8 354.9h0M311.8 346.5h0M299.2 360.8h0M336.3 348.4h0M319.7 351.7h0M323.9 355.0h0M299.6 360.6h0M301.8 359.1h0M307.1 361.3h0M314.4 365.3h0M326.5 339.9h0M332.0 338.3h0M324.5 354.0h0M329.7 338.9h0M335.8 354.9h0M323.4 350.3h0M322.7 353.2h0M308.1 352.4h0M337.6 345.8h0M330.5 350.1h0M338.6 365.7h0M322.3 347.8h0M307.2 356.7h0M329.5 357.1h0M331.7 340.5h0M337.7 347.4h0M318.0 350.6h0M312.6 349.2h0M321.8 366.3h0M311.1 357.9h0M315.6 345.1h0M322.2 365.3h0M334.1 343.6h0M321.4 352.4h0M313.9 355.2h0M335.8 339.9h0M307.6 359.9h0M331.3 356.6h0M335.9 343.8h0M335.7 348.7h0M304.6 362.2h0M309.4 363.8h0M324.5 361.9h0M300.7 362.7h0M303.8 349.5h0M328.2 351.3h0M337.9 364.2h0M314.7 348.1h0M319.9 365.6h0M320.2 359.7h0M324.0 334.5h0M335.3 339.6h0M339.1 344.0h0M320.4 351.0h0M317.4 342.6h0M325.9 365.7h0M303.6 359.2h0M340.3 353.0h0M303.3 352.6h0M310.0 362.7h0M335.9 351.4h0M323.9 352.8h0M326.0 334.5h0M331.1 351.7h0M322.0 339.7h0M312.8 346.4h0M324.8 337.8h0M318.7 356.9h0M311.8 352.4h0M324.8 342.2h0M320.8 339.0h0M333.7 363.4h0M302.2 354.0h0M326.3 343.7h0M331.2 355.6h0M298.9 353.8h0M321.2 364.2h0M310.6 347.8h0M306.2 353.6h0M337.3 358.6h0M327.5 352.3h0M333.6 352.9h0M336.6 351.4h0M336.7 361.6h0M332.8 344.3h0M338.5 353.3h0M322.4 338.1h0M326.5 354.1h0M300.7 362.1h0M328.4 337.6h0M335.9 349.5h0M328.1 348.2h0M328.6 340.0h0M325.8 334.9h0M309.5 359.1h0M318.8 362.2h0M327.3 353.6h0M320.2 337.8h0M310.9 361.5h0M327.8 349.3h0M336.9 355.4h0M309.9 359.6h0M329.7 340.6h0M330.1 361.7h0M334.6 355.9h0M312.9 355.8h0M327.3 343.3h0M319.4 365.1h0M310.7 364.8h0M337.9 354.7h0M324.5 349.6h0M330.9 354.4h0M301.3 363.7h0M324.4 333.4h0M305.7 358.3h0M331.4 364.6h0M332.5 359.7h0M312.1 361.7h0M301.4 365.5h0M333.9 350.1h0M317.6 366.0h0M304.7 349.1h0M301.4 365.3h0M300.5 354.8h0M315.7 358.5h0M315.1 351.0h0M321.4 343.9h0M327.1 344.3h0M316.2 342.7h0M326.4 345.8h0M317.4 350.7h0M326.4 343.4h0M304.2 355.6h0M331.9 355.7h0M326.2 347.4h0M337.9 344.6h0M330.6 362.5h0M319.9 340.7h0M328.2 349.3h0M335.1 365.0h0M304.2 365.8h0M324.2 347.1h0M321.9 341.8h0M322.3 363.1h0M310.1 361.5h0M322.1 343.3h0M320.4 360.8h0M311.3 360.6h0M328.4 349.4h0M337.4 345.2h0M335.2 352.3h0M306.4 364.3h0M323.7 351.2h0M329.1 337.2h0M326.4 353.2h0M338.6 348.8h0M333.5 348.8h0M301.7 352.7h0M305.2 355.6h0M338.1 341.6h0M335.9 360.3h0M310.3 363.5h0M312.2 360.0h0M331.4 348.1h0M325.9 350.6h0M303.2 361.8h0M329.5 355.8h0M321.1 365.2h0M317.7 345.9h0M327.4 364.0h0M335.5 362.9h0M332.4 348.3h0M312.4 349.3h0M310.7 362.5h0M307.7 348.3h0M327.2 349.1h0M310.7 350.8h0M304.7 361.7h0M309.9 349.9h0M336.4 347.8h0M303.0 349.8h0M321.4 341.9h0M336.6 353.3h0M328.3 360.4h0M310.6 347.7h0M329.5 359.2h0M313.5 348.2h0M305.6 361.6h0M314.7 365.5h0M330.3 337.2h0M311.9 357.8h0M334.5 337.2h0M322.2 350.5h0M324.2 342.5h0M333.7 349.3h0M327.5 345.4h0M324.8 350.5h0M318.4 348.3h0M319.5 340.6h0M336.4 344.0h0M310.6 351.2h0M324.4 335.4h0M327.0 341.5h0M301.7 360.3h0M328.3 361.9h0M333.7 339.7h0M318.3 362.3h0M338.5 351.3h0M314.9 349.2h0M309.7 361.0h0M326.7 349.3h0M309.8 360.9h0M331.8 363.2h0M314.5 347.3h0M327.2 335.4h0M302.8 361.8h0M326.7 338.0h0M332.8 359.1h0M311.8 357.7h0M308.6 348.4h0M329.6 360.2h0M339.1 354.1h0M309.1 365.8h0M312.1 354.2h0M305.9 366.2h0M323.6 358.8h0M309.3 353.3h0M321.2 352.2h0M303.3 361.6h0M314.2 362.8h0M308.9 348.1h0M302.8 359.8h0M331.9 361.2h0M307.7 363.9h0M302.7 354.9h0M326.3 339.8h0M334.7 353.4h0M301.0 362.5h0M323.2 348.5h0M310.0 349.9h0M320.2 362.1h0M319.3 352.0h0M320.1 355.6h0M331.5 355.9h0M319.6 341.9h0M314.2 356.2h0M324.2 366.1h0M332.5 343.4h0M315.2 344.1h0M335.9 363.8h0M306.2 348.8h0M327.9 343.3h0M329.9 363.0h0M328.1 336.6h0M310.5 346.5h0M323.8 334.1h0M332.6 358.4h0M305.8 363.8h0M332.3 334.5h0M332.0 343.5h0M328.7 349.2h0M334.4 357.0h0M309.1 358.0h0M326.0 356.2h0M335.4 344.3h0M336.5 354.5h0M321.1 346.5h0M329.0 363.1h0M303.6 349.1h0M338.4 352.8h0M302.4 352.2h0M325.6 358.0h0M322.8 352.9h0M327.8 357.0h0M318.2 358.1h0M302.7 359.1h0M316.1 355.1h0M320.4 360.3h0M337.8 343.9h0M327.1 364.4h0M316.7 354.8h0M332.1 336.0h0M302.9 355.6h0M318.6 344.7h0M321.5 365.4h0M321.6 344.1h0M323.3 340.8h0M314.6 351.8h0M339.1 345.6h0M332.0 358.1h0M307.0 353.4h0M337.6 364.7h0M337.9 347.3h0M331.2 354.3h0M324.0 356.4h0M332.5 365.2h0M316.0 348.2h0M336.5 344.0h0M335.9 362.9h0M308.3 352.2h0M300.0 354.5h0M321.5 366.4h0M338.0 365.3h0M306.0 359.6h0M336.9 353.2h0M339.8 345.3h0M301.0 353.3h0M325.7 364.4h0M322.7 348.8h0M312.5 351.2h0M312.9 360.9h0M319.1 349.1h0M319.9 347.3h0M315.9 349.5h0M320.2 337.4h0M306.7 348.4h0M309.1 360.4h0M311.9 362.0h0M335.6 366.0h0M318.9 339.5h0M329.4 352.2h0M301.2 363.9h0M306.0 353.5h0M330.6 350.8h0M330.0 346.3h0M337.7 351.5h0M332.8 344.0h0M301.6 364.0h0M338.1 352.5h0M329.9 347.9h0M335.1 352.7h0M316.4 347.7h0M330.8 363.5h0M326.5 360.2h0M328.6 342.1h0M304.0 364.0h0M313.9 350.2h0M300.8 353.3h0M315.2 362.0h0M320.3 339.6h0M325.1 349.4h0M324.9 364.1h0M302.9 361.5h0M331.6 365.4h0M320.8 359.5h0M321.9 357.4h0M328.9 344.3h0M313.1 350.3h0M315.5 355.6h0M319.4 357.5h0M315.5 352.4h0M323.3 347.9h0M312.7 355.0h0M309.6 351.1h0M330.3 353.9h0M319.0 358.3h0M334.0 339.6h0M332.5 347.5h0M327.7 353.9h0M337.3 342.0h0M314.2 365.1h0M316.7 340.8h0M314.7 357.1h0M316.4 354.7h0M335.6 363.1h0M336.2 356.1h0M324.3 331.6h0M324.1 345.1h0M339.2 345.8h0M316.1 347.8h0M339.8 347.8h0M316.7 359.9h0M328.8 360.4h0M321.2 345.3h0M313.2 358.8h0M332.7 358.6h0M331.6 349.1h0M328.9 358.2h0M313.5 356.0h0M337.5 359.4h0M317.1 353.1h0M336.4 351.8h0M328.3 358.3h0M334.2 362.4h0M319.0 350.1h0M316.8 365.5h0M330.3 344.7h0M329.2 341.8h0M330.3 348.0h0M335.5 349.5h0M336.1 345.2h0M328.6 361.3h0M313.1 344.1h0M331.3 351.1h0M330.1 362.8h0M333.6 354.5h0M313.6 352.4h0M329.4 343.6h0M333.2 350.8h0M322.4 363.8h0M324.9 345.5h0M323.8 345.8h0M303.8 361.8h0M309.8 350.2h0M325.1 343.9h0M329.3 336.4h0M301.1 364.1h0M335.2 363.2h0M322.6 349.2h0M314.9 361.6h0M326.6 366.1h0M313.4 360.0h0M310.3 351.8h0M318.4 337.7h0M335.9 362.1h0M318.0 365.5h0M306.4 361.9h0M299.9 356.0h0M328.6 358.2h0M324.0 333.0h0M319.5 344.6h0M331.3 336.0h0M317.1 360.2h0M334.4 342.8h0M317.1 359.8h0M308.5 349.3h0M298.9 360.4h0M334.2 350.6h0M324.8 364.1h0M305.3 354.2h0M321.0 347.7h0M320.6 340.6h0M305.5 357.3h0M301.9 354.1h0M329.2 363.2h0M316.9 349.3h0M336.7 343.3h0M327.7 347.1h0M309.6 365.7h0M331.3 353.4h0M315.5 366.1h0M337.2 344.3h0M325.6 331.7h0M301.7 362.3h0M329.3 347.1h0M324.1 361.9h0M299.2 354.6h0M331.5 359.8h0M303.6 364.9h0M305.1 355.2h0M309.1 348.7h0M311.0 362.7h0M338.0 362.4h0M325.4 335.4h0M315.0 360.1h0M318.0 350.4h0M324.0 334.2h0M303.5 355.5h0M328.4 336.6h0M326.1 365.9h0M332.9 364.7h0M313.8 356.7h0M329.0 339.0h0M325.0 354.9h0M321.6 353.8h0M333.4 353.8h0M318.4 349.7h0M302.5 361.5h0M301.8 360.7h0M311.7 349.5h0M304.6 356.0h0M339.6 345.8h0M314.0 357.1h0M313.1 353.4h0M326.6 347.7h0M302.1 353.4h0M328.7 346.8h0M327.7 350.5h0M308.8 355.7h0M336.7 342.5h0M339.2 362.5h0M317.7 352.0h0M335.8 339.2h0M324.5 345.1h0M327.0 334.6h0M305.5 362.1h0M314.7 354.8h0M337.9 366.5h0M330.1 341.8h0M335.4 355.1h0M314.3 345.5h0M328.4 362.6h0M332.5 345.9h0M316.4 352.8h0M310.4 362.5h0M315.2 346.0h0M313.3 349.8h0M330.1 349.5h0M321.9 340.1h0M321.1 351.2h0M335.7 342.9h0M335.2 352.4h0M311.2 355.6h0M326.7 363.8h0M302.7 354.7h0M309.5 356.3h0M332.2 340.1h0M307.1 358.3h0M332.2 350.4h0M316.0 350.7h0M304.6 352.5h0M318.2 342.3h0M324.8 334.3h0M313.8 348.8h0M322.4 354.0h0M317.1 362.5h0M332.2 347.3h0M300.0 354.3h0M315.8 362.4h0M312.6 351.4h0M337.5 356.1h0M318.2 344.2h0M326.6 337.7h0M337.2 344.4h0M313.3 350.8h0M332.8 351.5h0M333.0 354.0h0M329.8 351.3h0M331.1 355.1h0M315.0 365.1h0M317.4 349.5h0M332.5 352.8h0M308.6 353.5h0M336.1 346.1h0M333.3 348.2h0M311.6 348.2h0M325.6 354.2h0M299.6 360.8h0M333.0 359.8h0M333.7 353.7h0M332.6 350.8h0M326.6 361.1h0M315.7 359.1h0M327.0 350.5h0M327.5 337.1h0M329.3 335.4h0M334.9 337.7h0M326.9 356.8h0M316.7 347.9h0M336.1 343.1h0M303.6 352.9h0M306.7 356.6h0M322.7 333.9h0M337.0 359.9h0M320.2 342.1h0M325.9 353.9h0M337.5 345.6h0M330.7 363.3h0M304.5 349.0h0M331.6 340.3h0M310.4 361.6h0M318.5 339.4h0M330.6 350.6h0M326.9 340.9h0M314.8 358.4h0M320.9 363.2h0M331.7 346.6h0M311.2 347.4h0M320.7 355.0h0M315.5 360.8h0M322.2 356.4h0M298.6 358.7h0M328.4 334.3h0M299.1 362.3h0M334.2 346.3h0M330.4 346.7h0M329.8 349.3h0M323.8 346.0h0M322.6 351.6h0M330.8 340.2h0M324.1 359.2h0M320.2 340.6h0M329.7 337.9h0M325.0 345.2h0M314.1 352.9h0M325.4 339.7h0M339.6 350.7h0M307.1 357.2h0M327.3 358.2h0M338.0 364.2h0M340.1 344.0h0M308.9 357.6h0M315.5 357.2h0M334.4 345.4h0M314.2 351.0h0M335.4 360.0h0M303.5 354.5h0M327.9 339.0h0M304.5 359.7h0M330.0 347.1h0M303.9 356.6h0M305.0 358.7h0M322.7 359.3h0M327.5 361.2h0M335.5 341.2h0M316.0 361.4h0M321.4 339.6h0M305.9 359.1h0M303.8 351.9h0M328.1 351.7h0M328.4 364.5h0M307.3 347.8h0M323.9 350.8h0M320.7 352.0h0M324.5 359.4h0M337.6 352.0h0M318.8 356.0h0M320.1 365.1h0M316.3 350.4h0M299.7 357.9h0M321.4 336.2h0M308.0 365.5h0M322.6 355.0h0M320.6 344.2h0M335.2 341.1h0M310.3 364.2h0M306.3 356.0h0M303.1 353.1h0M300.4 360.4h0M333.5 342.4h0M321.4 319.0h0M322.9 327.4h0M329.0 328.9h0M312.2 335.5h0M296.3 340.7h0M300.4 341.2h0M309.1 342.2h0M289.7 348.8h0M298.4 346.3h0M280.5 355.0h0M283.6 360.0h0M287.2 366.2h0M292.8 356.5h0M294.3 359.0h0M335.7 339.1h0M250.5 342.0h0M256.0 340.0h0M268.0 346.0h0M277.0 345.0h0M281.0 348.0h0M271.0 349.0h0M264.0 351.0h0M262.0 360.0h0M291.0 345.0h0M305.0 339.0h0M317.0 331.0h0M326.0 325.0h0M333.0 330.0h0M318.0 338.0h0M300.0 362.0h0M306.0 366.0h0M296.0 369.0h0M290.0 372.0h0M285.0 363.0h0M394.5 350.6h0M373.1 375.6h0M367.4 359.9h0M376.7 354.7h0M369.4 373.8h0M364.2 372.1h0M369.7 375.4h0M386.2 357.5h0M369.1 354.7h0M367.4 373.6h0M359.5 364.7h0M359.5 362.2h0M368.0 372.5h0M373.1 364.7h0M365.1 355.8h0M359.0 360.1h0M379.7 365.8h0M372.3 366.9h0M385.8 359.8h0M380.9 354.4h0M374.0 360.9h0M380.3 360.4h0M379.6 363.7h0M375.8 365.6h0M376.4 366.9h0M385.9 352.8h0M388.8 359.8h0M398.4 353.5h0M360.3 361.0h0M369.7 366.5h0M369.2 373.8h0M367.8 366.6h0M369.9 360.6h0M385.8 361.8h0M376.8 375.0h0M385.1 362.8h0M371.5 363.0h0M381.2 358.1h0M375.9 361.7h0M385.3 369.2h0M360.1 362.2h0M382.5 366.2h0M387.1 361.9h0M369.9 368.6h0M360.0 354.8h0M361.9 357.6h0M380.5 356.8h0M371.1 365.6h0M361.3 373.1h0M377.9 373.8h0M368.3 373.7h0M374.0 363.7h0M378.7 367.5h0M370.1 359.2h0M369.5 355.2h0M378.9 369.7h0M379.7 353.3h0M373.1 367.8h0M366.8 362.4h0M367.9 362.7h0M368.4 369.6h0M381.6 364.1h0M376.4 370.3h0M376.9 370.8h0M388.0 359.0h0M370.9 370.4h0M386.4 362.0h0M370.4 357.4h0M378.9 359.9h0M374.7 357.3h0M376.3 360.5h0M385.3 366.3h0M379.8 359.0h0M372.6 367.5h0M390.8 355.4h0M374.6 360.3h0M386.8 358.3h0M374.7 360.5h0M377.2 360.6h0M378.0 367.3h0M365.4 366.4h0M390.2 360.7h0M367.3 366.4h0M373.3 364.1h0M373.1 369.4h0M381.1 352.7h0M365.3 363.6h0M378.1 368.3h0M381.4 368.8h0M372.7 355.6h0M369.8 365.1h0M388.9 364.1h0M395.5 357.0h0M363.3 368.8h0M390.2 355.4h0M377.4 358.4h0M369.9 354.5h0M386.7 353.6h0M392.7 358.2h0M359.8 359.5h0M373.1 374.5h0M362.1 363.3h0M367.8 355.9h0M359.7 357.9h0M370.8 361.5h0M374.3 367.8h0M373.7 367.0h0M393.2 354.7h0M361.5 357.2h0M370.0 364.0h0M363.8 366.7h0M367.3 365.0h0M369.5 366.6h0M380.8 359.5h0M397.9 350.8h0M382.7 356.5h0M371.3 361.8h0M394.9 352.0h0M366.7 376.1h0M379.2 369.6h0M385.8 353.2h0M360.6 370.8h0M369.9 353.9h0M387.7 365.9h0M361.3 360.3h0M374.6 375.1h0M376.0 359.6h0M387.8 355.6h0M370.3 371.4h0M386.8 361.4h0M387.2 356.4h0M372.9 356.5h0M361.7 356.5h0M384.6 353.5h0M361.6 375.1h0M363.7 374.2h0M366.1 362.5h0M395.1 352.8h0M377.3 372.1h0M389.5 361.2h0M364.5 371.9h0M385.0 354.4h0M358.8 359.1h0M370.3 366.8h0M376.3 354.5h0M373.0 363.5h0M378.8 372.5h0M380.0 354.5h0M394.5 353.0h0M376.5 366.0h0M386.9 353.4h0M378.2 367.3h0M361.2 361.7h0M391.2 353.9h0M390.1 359.0h0M363.1 363.4h0M385.0 366.9h0M388.8 367.0h0M373.7 355.5h0M389.2 353.3h0M389.0 356.2h0M366.9 361.4h0M359.6 361.0h0M367.8 376.5h0M381.5 363.2h0M376.5 373.1h0M368.1 372.2h0M371.3 367.3h0M384.4 365.0h0M360.4 358.4h0M366.1 370.8h0M397.7 352.8h0M386.2 356.5h0M361.0 370.1h0M365.5 370.9h0M369.9 371.0h0M383.4 352.7h0M380.3 354.8h0M370.5 364.1h0M390.7 358.1h0M367.1 375.7h0M365.8 373.7h0M359.8 355.3h0M382.3 353.0h0M373.0 371.9h0M372.2 367.2h0M370.0 360.6h0M364.5 354.8h0M391.2 355.9h0M372.9 366.6h0M367.2 361.5h0M385.6 360.6h0M380.1 354.1h0M363.1 360.6h0M392.5 356.5h0M366.5 365.8h0M367.6 355.1h0M394.1 351.6h0M373.7 358.6h0M372.3 353.9h0M395.3 350.9h0M369.2 363.0h0M363.5 360.9h0M380.1 371.7h0M378.4 361.5h0M381.1 363.5h0M364.0 354.5h0M390.6 362.0h0M375.8 369.2h0M378.2 360.9h0M366.8 362.9h0M389.7 358.9h0M363.4 370.5h0M382.7 354.3h0M390.2 365.6h0M361.2 372.8h0M374.6 368.2h0M395.5 356.0h0M379.8 357.1h0M379.2 360.6h0M387.8 366.5h0M379.7 354.7h0M376.6 357.3h0M375.4 371.9h0M369.6 356.2h0M384.8 360.6h0M390.6 361.0h0M383.9 369.3h0M371.0 373.2h0M376.4 360.8h0M365.3 354.5h0M374.4 362.2h0M389.1 364.4h0M380.9 364.6h0M361.6 372.6h0M372.5 371.7h0M377.9 353.6h0M374.2 361.9h0M364.5 371.1h0M365.5 367.0h0M366.9 353.8h0M367.0 356.2h0M367.8 361.4h0M368.2 356.9h0M359.2 368.1h0M370.8 360.7h0M364.4 355.3h0M383.1 355.0h0M378.8 369.6h0M386.6 359.7h0M365.4 374.1h0M392.8 356.9h0M368.6 365.8h0M376.3 375.3h0M387.3 355.7h0M368.2 376.4h0M369.9 376.8h0M378.3 371.5h0M372.6 355.8h0M366.9 363.3h0M376.4 368.2h0M380.3 371.2h0M373.0 367.9h0M368.4 362.9h0M382.1 366.5h0M372.8 355.6h0M387.5 364.8h0M395.7 353.9h0M366.2 359.5h0M382.4 353.6h0M369.8 365.3h0M369.5 373.8h0M371.7 357.7h0M360.2 371.4h0M384.8 368.5h0M375.0 368.0h0M386.0 355.4h0M371.6 374.9h0M372.9 372.2h0M361.3 359.3h0M376.4 372.9h0M362.7 361.5h0M361.8 355.4h0M360.8 368.6h0M361.9 376.3h0M366.4 367.9h0M378.2 364.4h0M380.6 354.7h0M384.7 367.8h0M362.2 372.7h0M365.2 354.9h0M359.8 361.4h0M377.4 364.3h0M365.4 374.3h0M364.7 371.3h0M363.2 359.7h0M381.8 361.0h0M358.8 356.0h0M386.2 361.7h0M368.2 376.8h0M380.2 363.3h0M376.2 374.0h0M377.2 355.6h0M377.4 362.2h0M378.8 362.6h0M372.1 359.3h0M367.6 364.1h0M379.1 366.7h0M367.8 371.5h0M396.2 350.7h0M380.7 371.7h0M392.9 357.0h0M382.1 368.8h0M371.4 375.7h0M393.2 356.2h0M381.3 366.9h0M386.1 353.7h0M374.7 376.3h0M384.8 364.9h0M381.8 366.7h0M366.4 363.5h0M364.0 355.1h0M371.6 355.4h0M374.0 371.7h0M389.5 355.4h0M370.2 362.7h0M375.0 372.5h0M386.2 354.2h0M375.2 370.0h0M376.9 372.8h0M366.6 364.8h0M365.3 362.4h0M366.0 360.0h0M371.9 363.9h0M379.8 359.2h0M383.5 358.7h0M379.7 366.1h0M372.3 369.5h0M367.9 366.8h0M387.0 362.8h0M375.9 358.7h0M364.7 355.0h0M383.7 356.5h0M372.1 367.0h0M382.9 368.6h0M381.4 355.6h0M366.0 366.2h0M378.4 364.4h0M376.5 371.8h0M362.8 374.3h0M391.1 359.8h0M378.8 357.3h0M380.7 364.3h0M361.8 357.7h0M379.9 353.0h0M363.4 358.9h0M372.2 371.8h0M383.1 353.1h0M380.9 367.1h0M359.2 355.6h0M361.3 370.3h0M392.3 355.0h0M393.0 356.4h0M367.6 356.1h0M372.5 362.2h0M372.1 362.8h0M363.9 356.4h0M363.2 365.7h0M370.3 364.4h0M361.2 366.2h0M379.2 370.3h0M373.7 364.4h0M382.7 360.4h0M376.5 361.8h0M366.1 367.3h0M385.7 360.5h0M380.1 366.6h0M385.1 359.0h0M376.0 368.3h0M382.8 356.8h0M364.2 378.7h0M366.0 382.5h0M370.8 385.3h0M368.9 393.9h0M360.4 395.7h0M390.7 390.0h0M399.3 375.8h0M411.6 355.0h0M413.5 346.4h0M432.5 359.7h0M414.4 346.5h0M411.3 355.2h0M412.3 359.3h0M365.5 419.0h0M362.0 389.0h0M372.0 380.0h0M380.0 376.0h0M386.0 374.0h0M378.0 381.0h0M361.0 384.0h0M367.0 375.0h0" stroke="#bebebe" stroke-width="3.6" stroke-linecap="round"/>
<path d="M381.0 333.2h0M369.9 327.8h0M374.6 327.0h0M361.9 351.6h0M377.8 337.8h0M368.9 352.9h0M372.7 349.2h0M383.1 335.5h0M362.8 333.8h0M358.8 339.9h0M388.1 330.1h0M396.1 333.8h0M367.0 328.6h0M374.6 336.3h0M362.3 352.1h0M366.8 347.8h0M388.9 338.8h0M373.1 331.6h0M375.8 347.7h0M384.8 345.0h0M359.4 350.3h0M370.3 328.2h0M360.5 346.7h0M365.4 326.1h0M389.3 340.0h0M378.3 341.6h0M389.9 351.7h0M368.2 339.4h0M371.1 325.3h0M381.5 348.4h0M377.6 354.3h0M391.3 341.6h0M383.6 352.5h0M382.0 339.5h0M370.4 353.7h0M380.1 339.9h0M362.2 345.2h0M367.1 346.0h0M378.4 337.6h0M361.8 346.6h0M375.9 340.7h0M374.7 327.5h0M381.7 346.5h0M365.0 347.0h0M378.8 354.2h0M381.5 352.4h0M388.1 333.2h0M386.1 340.6h0M367.8 355.8h0M369.3 355.8h0M367.1 351.9h0M396.1 347.8h0M394.0 346.9h0M363.0 330.1h0M388.3 335.5h0M368.3 338.4h0M393.9 348.2h0M371.9 341.4h0M394.6 349.9h0M368.8 347.6h0M398.3 337.8h0M371.5 335.7h0M389.3 342.9h0M395.7 344.3h0M376.7 329.7h0M387.3 345.0h0M372.4 331.4h0M367.9 346.8h0M389.8 342.0h0M376.9 330.0h0M380.8 327.6h0M387.6 339.4h0M396.1 339.6h0M375.5 336.7h0M364.3 344.7h0M390.6 340.1h0M382.1 344.9h0M373.7 348.5h0M364.4 343.4h0M393.1 350.3h0M371.2 352.0h0M363.6 329.5h0M362.6 328.8h0M393.0 342.3h0M362.8 348.6h0M378.0 340.5h0M361.3 351.4h0M379.6 329.9h0M370.8 355.0h0M384.9 331.8h0M363.1 327.4h0M361.7 348.1h0M360.6 337.0h0M385.4 328.1h0M367.0 356.2h0M381.8 326.9h0M383.5 336.0h0M382.3 341.0h0M368.6 335.9h0M361.2 356.0h0M382.6 354.0h0M370.8 345.3h0M367.9 336.6h0M383.7 332.1h0M382.8 342.5h0M366.4 330.2h0M379.4 353.5h0M361.5 339.6h0M367.1 336.6h0M371.7 333.6h0M392.3 341.1h0M386.2 337.2h0M364.6 330.7h0M366.2 343.7h0M386.3 337.2h0M375.9 355.2h0M378.7 336.6h0M368.2 345.6h0M393.0 335.2h0M376.2 324.1h0M379.6 338.6h0M372.1 327.7h0M381.3 347.0h0M363.5 344.5h0M376.9 344.8h0M363.4 345.2h0M365.5 333.3h0M374.6 342.8h0M382.0 343.2h0M374.6 330.8h0M387.8 345.0h0M383.1 350.5h0M380.4 350.5h0M381.9 342.8h0M396.5 346.8h0M371.3 325.2h0M371.6 351.0h0M365.6 335.1h0M381.5 332.3h0M379.8 351.2h0M361.7 350.6h0M379.3 347.3h0M371.3 324.9h0M392.0 348.3h0M375.3 347.1h0M391.9 337.9h0M368.0 331.3h0M385.2 348.2h0M369.5 342.2h0M388.1 334.6h0M376.8 342.9h0M358.7 348.0h0M370.7 324.1h0M393.0 345.5h0M387.7 334.7h0M365.9 337.8h0M375.5 332.7h0M362.0 343.0h0M368.1 334.4h0M369.7 339.4h0M360.2 348.4h0M359.1 351.8h0M372.2 349.3h0M378.7 325.5h0M363.6 328.0h0M371.2 351.8h0M390.2 341.4h0M399.3 342.2h0M360.0 346.4h0M360.0 342.5h0M395.8 342.3h0M389.6 342.0h0M371.1 333.5h0M363.8 346.2h0M372.6 349.7h0M365.9 347.9h0M376.4 341.2h0M393.8 342.7h0M387.6 345.7h0M374.3 349.9h0M397.4 340.3h0M390.2 334.8h0M387.1 336.7h0M374.3 336.8h0M366.5 344.7h0M359.8 337.5h0M373.6 340.4h0M362.3 330.8h0M370.7 341.3h0M372.3 334.7h0M374.8 333.4h0M365.2 334.3h0M381.5 334.6h0M361.2 337.1h0M371.2 337.7h0M374.6 352.7h0M367.9 349.1h0M394.7 335.7h0M369.2 331.9h0M392.5 333.3h0M396.8 340.1h0M380.8 339.2h0M383.3 333.5h0M400.1 342.8h0M384.1 340.2h0M362.2 349.8h0M385.5 345.4h0M393.6 334.1h0M385.0 351.2h0M364.7 329.0h0M360.2 345.2h0M370.3 340.7h0M368.6 326.0h0M397.9 347.1h0M367.9 338.8h0M375.5 351.9h0M374.1 343.8h0M379.2 326.9h0M371.4 346.7h0M370.7 326.1h0M366.7 338.7h0M387.9 337.9h0M363.6 332.8h0M384.7 330.3h0M368.6 335.6h0M367.8 350.0h0M383.0 331.5h0M359.3 340.3h0M377.3 341.4h0M384.7 329.3h0M363.4 342.3h0M370.1 344.9h0M371.0 334.8h0M364.1 339.2h0M375.9 325.4h0M377.0 325.7h0M373.3 333.5h0M387.6 330.3h0M379.1 347.0h0M385.9 344.0h0M364.8 338.5h0M387.2 338.1h0M370.8 341.2h0M365.7 326.5h0M360.6 339.1h0M360.9 347.0h0M375.6 348.3h0M378.4 328.2h0M393.6 335.9h0M373.6 353.6h0M379.4 336.5h0M369.3 352.4h0M380.6 342.5h0M360.4 349.6h0M396.3 344.3h0M365.6 341.3h0M362.3 352.7h0M368.4 346.5h0M372.4 331.3h0M382.1 333.0h0M369.6 354.7h0M373.9 348.3h0M371.8 324.7h0M384.9 333.0h0M373.7 329.6h0M359.8 352.7h0M367.6 345.7h0M376.7 340.6h0M376.9 334.1h0M392.5 337.6h0M371.3 330.0h0M378.6 349.7h0M364.4 343.0h0M384.1 329.9h0M379.0 355.2h0M378.6 334.8h0M375.4 324.1h0M377.1 353.6h0M388.9 346.8h0M393.6 341.2h0M385.9 335.3h0M362.1 350.0h0M382.1 328.9h0M380.9 332.1h0M371.5 330.6h0M395.5 334.4h0M362.0 328.4h0M367.4 329.3h0M379.1 345.5h0M361.4 349.3h0M373.0 333.4h0M386.3 337.7h0M362.7 336.9h0M380.4 326.7h0M384.8 336.9h0M388.1 346.7h0M367.1 329.5h0M362.5 340.1h0M361.8 347.6h0M363.6 350.7h0M380.4 327.2h0M363.2 349.9h0M360.5 348.5h0M374.1 355.7h0M375.2 345.2h0M377.1 337.2h0M359.7 353.3h0M365.1 348.4h0M366.8 336.1h0M397.7 348.3h0M370.4 336.0h0M367.3 335.8h0M388.9 350.7h0M391.8 344.4h0M399.4 339.1h0M382.8 351.6h0M379.6 350.8h0M362.0 335.1h0M380.8 351.0h0M381.0 336.0h0M366.4 332.0h0M387.3 331.8h0M393.6 342.4h0M367.9 334.6h0M368.1 352.2h0M376.2 338.5h0M393.3 349.4h0M389.1 351.8h0M362.6 331.5h0M367.7 342.3h0M375.6 333.5h0M374.0 347.2h0M366.5 334.8h0M371.8 335.3h0M371.8 328.2h0M391.2 347.5h0M365.5 326.8h0M362.5 337.9h0M382.4 344.7h0M368.6 325.6h0M381.7 338.2h0M390.3 331.4h0M377.1 332.8h0M387.9 330.3h0M372.6 349.5h0M379.2 341.5h0M398.6 338.1h0M364.0 353.2h0M366.8 345.3h0M365.5 336.9h0M380.2 343.4h0M370.2 330.0h0M395.6 339.9h0M360.8 339.0h0M362.2 330.1h0M364.2 339.3h0M374.7 346.8h0M361.3 348.4h0M387.4 348.6h0M391.4 338.5h0M372.7 325.1h0M370.3 324.4h0M389.5 339.9h0M371.9 332.0h0M364.6 339.5h0M384.8 351.7h0M387.9 329.9h0M371.5 340.1h0M363.9 338.2h0M363.4 350.5h0M371.3 354.9h0M387.2 331.1h0M370.1 343.1h0M362.2 331.4h0M376.0 338.0h0M387.1 343.7h0M365.4 332.5h0M396.2 336.5h0M372.1 333.0h0M378.8 335.4h0M398.1 336.6h0M398.2 347.5h0M386.4 346.3h0M378.1 331.9h0M392.3 337.4h0M372.0 342.8h0M389.2 341.8h0M373.7 327.1h0M365.3 346.6h0M376.9 344.2h0M384.7 337.5h0M393.9 340.8h0M387.8 352.6h0M396.3 339.2h0M364.7 351.1h0M384.5 332.4h0M369.0 328.8h0M391.5 346.2h0M379.9 348.7h0M390.6 345.4h0M360.1 351.5h0M371.8 340.0h0M364.5 334.6h0M366.6 353.1h0M371.4 340.4h0M392.2 340.6h0M383.8 348.1h0M379.2 329.6h0M375.1 349.1h0M368.2 347.9h0M369.9 336.4h0M391.4 351.7h0M370.7 332.8h0M385.5 335.6h0M366.6 351.7h0M378.8 346.7h0M381.1 338.2h0M363.5 347.2h0M378.1 327.8h0M377.8 328.0h0M377.4 343.1h0M394.9 335.8h0M385.0 335.1h0M376.4 341.0h0M383.8 327.7h0M399.2 345.0h0M382.9 347.8h0M391.1 338.1h0M368.9 353.2h0M377.4 348.7h0M368.6 334.7h0M370.6 346.2h0M400.5 344.8h0M391.2 343.3h0M362.0 338.5h0M363.2 335.2h0M360.6 343.0h0M372.3 331.8h0M372.8 342.6h0M370.3 324.3h0M368.0 336.7h0M382.1 346.0h0M361.4 355.8h0M379.1 353.7h0M362.5 344.9h0M364.6 333.5h0M362.6 331.2h0M382.9 351.4h0M366.8 355.9h0M368.8 352.1h0M368.4 348.9h0M383.1 341.7h0M388.5 351.4h0M392.5 338.1h0M391.0 350.5h0M360.1 341.6h0M364.8 348.9h0M367.8 356.2h0M395.0 332.7h0M360.0 332.9h0M361.6 352.6h0M387.9 351.8h0M366.6 353.9h0M369.4 342.9h0M369.8 326.0h0M367.1 334.1h0M383.9 328.8h0M368.0 351.0h0M391.9 343.9h0M387.4 344.6h0M389.9 338.3h0M369.5 330.0h0M371.5 338.4h0M390.4 350.6h0M392.3 347.7h0M393.6 331.6h0M384.0 327.3h0M363.2 353.2h0M389.6 342.8h0M381.7 332.5h0M377.2 329.4h0M374.1 352.3h0M385.0 329.5h0M361.1 333.3h0M369.8 325.8h0M358.8 354.3h0M372.5 348.4h0M374.4 337.7h0M375.7 327.4h0M380.6 342.5h0M392.4 330.9h0M382.0 335.2h0M377.2 347.1h0M377.2 328.5h0M371.7 328.3h0M374.0 347.7h0M382.7 334.7h0M361.3 344.9h0M385.0 336.3h0M392.3 335.8h0M385.0 332.4h0M371.6 345.4h0M386.3 346.1h0M366.1 339.2h0M377.0 327.9h0M388.2 345.1h0M360.7 337.1h0M365.0 339.3h0M394.0 349.2h0M382.1 339.7h0M393.3 340.9h0M391.5 340.1h0M388.2 329.3h0M376.5 340.3h0M366.8 339.5h0M363.7 330.5h0M384.4 332.4h0M358.6 337.4h0M380.0 336.1h0M377.3 340.7h0M372.0 315.8h0M382.7 319.9h0M385.8 320.9h0M388.8 302.6h0M403.1 310.7h0M406.2 322.0h0M409.3 324.5h0M396.0 327.1h0M397.0 329.1h0M400.1 330.7h0M402.1 332.7h0M408.8 336.3h0M409.3 338.8h0M406.7 345.5h0M408.8 346.5h0M400.1 346.5h0M401.1 348.0h0M395.0 350.0h0M397.5 351.1h0M391.9 348.5h0M362.5 330.0h0M360.5 333.0h0M364.0 327.5h0M404.0 338.0h0M404.5 341.0h0" stroke="#009b9b" stroke-width="3.6" stroke-linecap="round"/>
<path d="M332.7 370.3h0M324.3 373.6h0M332.5 374.9h0M327.3 370.6h0M338.1 375.5h0M339.9 368.1h0M328.9 365.5h0M322.5 367.7h0M330.2 368.8h0M335.7 365.1h0M327.9 365.4h0M327.3 373.0h0M336.6 367.9h0M334.8 371.2h0M331.1 368.8h0M325.7 367.4h0M324.6 374.3h0M336.5 372.4h0M327.7 374.0h0M335.8 372.4h0M327.3 376.0h0M338.5 370.4h0M322.3 364.3h0M330.0 372.1h0M326.0 365.4h0M330.7 373.4h0M327.6 368.0h0M335.2 374.1h0M331.4 375.2h0M330.1 375.5h0M329.0 369.4h0M326.6 365.3h0M336.0 373.3h0M332.9 370.2h0M326.5 367.3h0M332.1 372.2h0M340.5 366.8h0M329.8 370.0h0M321.8 374.2h0M326.6 376.6h0M328.7 372.0h0M331.1 366.3h0M321.3 365.2h0M335.3 374.5h0M321.2 372.5h0M324.1 368.7h0M339.5 367.8h0M336.1 368.1h0M326.6 369.4h0M340.5 367.9h0M339.1 375.0h0M325.3 373.6h0M336.8 374.8h0M337.4 366.2h0M328.8 366.5h0M331.3 370.7h0M321.8 372.9h0M329.5 371.5h0M324.7 369.1h0M326.7 364.1h0M337.8 362.4h0M331.0 375.0h0M325.9 363.9h0M334.6 372.6h0M328.2 374.2h0M329.1 374.4h0M335.9 372.8h0M339.4 362.9h0M333.4 365.2h0M325.1 376.3h0M325.3 368.0h0M323.1 364.7h0M333.5 370.3h0M338.5 368.6h0M329.1 375.1h0M323.5 366.8h0M338.7 374.0h0M331.2 375.5h0M335.4 371.6h0M334.3 373.8h0M325.9 365.7h0M339.3 363.1h0M329.5 363.9h0M336.6 365.6h0M328.9 363.1h0M325.8 376.6h0M338.7 366.7h0M333.1 367.0h0M325.9 364.1h0M337.5 370.4h0M325.0 368.7h0M332.4 374.9h0M334.6 366.4h0M336.4 365.7h0M333.2 363.9h0M306.6 365.2h0M303.5 369.3h0M297.9 374.4h0M293.3 371.3h0M286.1 370.3h0M313.7 371.3h0M306.6 376.4h0M314.7 376.9h0M292.3 379.0h0M268.4 384.1h0M283.5 402.3h0M288.1 378.6h0M291.1 384.1h0M297.2 375.0h0M301.8 379.5h0M305.4 372.6h0M292.7 390.2h0M300.3 391.7h0M303.3 397.8h0M309.4 400.8h0M313.9 396.2h0M318.5 400.8h0M323.0 396.2h0M327.6 399.9h0M332.1 397.8h0M335.2 393.2h0M326.1 408.4h0M321.5 405.4h0M315.4 408.4h0M310.9 411.4h0M306.3 407.8h0M300.3 405.4h0M297.2 413.0h0M303.3 408.4h0M313.9 416.0h0M320.0 414.5h0M329.1 413.0h0M335.2 417.5h0M313.9 422.1h0M307.8 423.6h0M314.5 428.1h0M301.8 423.6h0M289.0 447.9h0M310.9 375.0h0M317.0 381.1h0M329.1 384.1h0M335.2 384.1h0M338.2 381.1h0M320.0 388.7h0M338.2 390.2h0M333.7 378.0h0M345.8 414.5h0" stroke="#8b008b" stroke-width="3.6" stroke-linecap="round"/>
<path d="M251.7 379.3 L432.4 333.5 L432.4 336.3 L251.7 382.7 Z" fill="#a8a8a8"/>
<line x1="251.7" y1="381.0" x2="432.4" y2="334.9" stroke="#2a2a2a" stroke-width="0.9" />
<rect x="365" y="323.4" width="20.3" height="5.4" rx="1" fill="#fff" stroke="#666" stroke-width="0.6"/>
<text x="375.1" y="327.7" font-size="5" text-anchor="middle" textLength="17.9" lengthAdjust="spacingAndGlyphs" fill="#000" stroke="#000" stroke-width="0.15">Bhlhe41</text>
<circle cx="372.0" cy="330.5" r="0.9" fill="#000"/>
<rect x="364" y="340.7" width="17.3" height="5.4" rx="1" fill="#fff" stroke="#666" stroke-width="0.6"/>
<text x="372.6" y="345.0" font-size="5" text-anchor="middle" textLength="14.9" lengthAdjust="spacingAndGlyphs" fill="#000" stroke="#000" stroke-width="0.15">Cdkn1b</text>
<circle cx="369.5" cy="348.0" r="0.9" fill="#000"/>
<rect x="385.9" y="337" width="18.5" height="6.0" rx="1" fill="#fff" stroke="#666" stroke-width="0.6"/>
<text x="395.1" y="341.9" font-size="5" text-anchor="middle" textLength="16.1" lengthAdjust="spacingAndGlyphs" fill="#000" stroke="#000" stroke-width="0.15">Bhlhe40</text>
<circle cx="391.0" cy="345.0" r="0.9" fill="#000"/>
<rect x="340.6" y="356.2" width="7.4" height="5.4" rx="1" fill="#fff" stroke="#666" stroke-width="0.6"/>
<text x="344.3" y="360.5" font-size="5" text-anchor="middle" textLength="5.0" lengthAdjust="spacingAndGlyphs" fill="#000" stroke="#000" stroke-width="0.15">Irf8</text>
<circle cx="338.0" cy="364.0" r="0.9" fill="#000"/>
<rect x="339.7" y="365.9" width="19.8" height="5.4" rx="1" fill="#fff" stroke="#666" stroke-width="0.6"/>
<text x="349.6" y="370.2" font-size="5" text-anchor="middle" textLength="17.4" lengthAdjust="spacingAndGlyphs" fill="#000" stroke="#000" stroke-width="0.15">Pou2af1</text>
<circle cx="338.0" cy="367.5" r="0.9" fill="#000"/>
<rect x="323" y="378" width="13.7" height="5.5" rx="1" fill="#fff" stroke="#666" stroke-width="0.6"/>
<text x="329.9" y="382.4" font-size="5" text-anchor="middle" textLength="11.3" lengthAdjust="spacingAndGlyphs" fill="#000" stroke="#000" stroke-width="0.15">Aicda</text>
<circle cx="322.0" cy="384.5" r="0.9" fill="#000"/>
<rect x="305.4" y="388.6" width="21.3" height="5.4" rx="1" fill="#fff" stroke="#666" stroke-width="0.6"/>
<text x="316.0" y="392.9" font-size="5" text-anchor="middle" textLength="18.9" lengthAdjust="spacingAndGlyphs" fill="#000" stroke="#000" stroke-width="0.15">Tnfrsf1a</text>
<circle cx="307.0" cy="396.0" r="0.9" fill="#000"/>
<rect x="334.6" y="390.2" width="10.6" height="5.4" rx="1" fill="#fff" stroke="#666" stroke-width="0.6"/>
<text x="339.9" y="394.5" font-size="5" text-anchor="middle" textLength="8.2" lengthAdjust="spacingAndGlyphs" fill="#000" stroke="#000" stroke-width="0.15">Ikzf3</text>
<circle cx="335.0" cy="397.0" r="0.9" fill="#000"/>
<rect x="300.3" y="414.5" width="15.1" height="5.4" rx="1" fill="#fff" stroke="#666" stroke-width="0.6"/>
<text x="307.9" y="418.8" font-size="5" text-anchor="middle" textLength="12.7" lengthAdjust="spacingAndGlyphs" fill="#000" stroke="#000" stroke-width="0.15">Mef2b</text>
<circle cx="302.0" cy="421.0" r="0.9" fill="#000"/>
<text x="245" y="306.7" font-size="10.1" font-style="italic" fill="#111">R=0.48 p=3.9741e-113</text>
<text x="365.0" y="308.2" font-size="11.2" fill="#009b9b" >Both up:471</text>
<text x="243.5" y="444.2" font-size="11.2" fill="#8b008b" >Both down:139</text>
<text x="358.0" y="444.2" font-size="11.2" fill="#a6a6a6" >Only RNA:1373</text>
<line x1="235.0" y1="320.7" x2="238.5" y2="320.7" stroke="#333" stroke-width="1.2" />
<text x="232.3" y="324.6" font-size="11.2" text-anchor="end" fill="#111" >2</text>
<line x1="235.0" y1="360.0" x2="238.5" y2="360.0" stroke="#333" stroke-width="1.2" />
<text x="232.3" y="363.9" font-size="11.2" text-anchor="end" fill="#111" >0</text>
<line x1="235.0" y1="399.7" x2="238.5" y2="399.7" stroke="#333" stroke-width="1.2" />
<text x="232.3" y="403.6" font-size="11.2" text-anchor="end" fill="#111" >-2</text>
<line x1="294.9" y1="454.8" x2="294.9" y2="458.3" stroke="#333" stroke-width="1.2" />
<text x="293.6" y="471.0" font-size="11.2" text-anchor="middle" fill="#111" >-2.5</text>
<line x1="348.5" y1="454.8" x2="348.5" y2="458.3" stroke="#333" stroke-width="1.2" />
<text x="348.5" y="471.0" font-size="11.2" text-anchor="middle" fill="#111" >0.0</text>
<line x1="403.0" y1="454.8" x2="403.0" y2="458.3" stroke="#333" stroke-width="1.2" />
<text x="403.0" y="471.0" font-size="11.2" text-anchor="middle" fill="#111" >2.5</text>
<text x="342.4" y="492.0" font-size="11.2" text-anchor="middle" fill="#111" >mRNA-seq log2FC</text>
<text x="0" y="0" font-size="11.2" text-anchor="middle" transform="translate(216.5 375.4) rotate(-90)" fill="#111">H3K4me3 log2FC</text>
<rect x="514.35" y="294.35" width="146.3" height="159.9" fill="#fff" stroke="#aaa5a5" stroke-width="2.9"/>
<line x1="538.4" y1="296.2" x2="538.4" y2="452.4" stroke="#f2f2f2" stroke-width="0.6" />
<line x1="577.0" y1="296.2" x2="577.0" y2="452.4" stroke="#f2f2f2" stroke-width="0.6" />
<line x1="615.6" y1="296.2" x2="615.6" y2="452.4" stroke="#f2f2f2" stroke-width="0.6" />
<line x1="654.2" y1="296.2" x2="654.2" y2="452.4" stroke="#f2f2f2" stroke-width="0.6" />
<line x1="519.1" y1="296.2" x2="519.1" y2="452.4" stroke="#e8e8e8" stroke-width="0.9" />
<line x1="557.7" y1="296.2" x2="557.7" y2="452.4" stroke="#e8e8e8" stroke-width="0.9" />
<line x1="596.3" y1="296.2" x2="596.3" y2="452.4" stroke="#e8e8e8" stroke-width="0.9" />
<line x1="634.9" y1="296.2" x2="634.9" y2="452.4" stroke="#e8e8e8" stroke-width="0.9" />
<line x1="516.0" y1="427.2" x2="659.5" y2="427.2" stroke="#f2f2f2" stroke-width="0.6" />
<line x1="516.0" y1="385.8" x2="659.5" y2="385.8" stroke="#f2f2f2" stroke-width="0.6" />
<line x1="516.0" y1="344.2" x2="659.5" y2="344.2" stroke="#f2f2f2" stroke-width="0.6" />
<line x1="516.0" y1="302.8" x2="659.5" y2="302.8" stroke="#f2f2f2" stroke-width="0.6" />
<line x1="516.0" y1="448.0" x2="659.5" y2="448.0" stroke="#e8e8e8" stroke-width="0.9" />
<line x1="516.0" y1="406.5" x2="659.5" y2="406.5" stroke="#e8e8e8" stroke-width="0.9" />
<line x1="516.0" y1="365.0" x2="659.5" y2="365.0" stroke="#e8e8e8" stroke-width="0.9" />
<line x1="516.0" y1="323.5" x2="659.5" y2="323.5" stroke="#e8e8e8" stroke-width="0.9" />
<path d="M584.1 434.7h0M584.9 420.0h0M590.5 407.5h0M544.9 428.1h0M556.6 407.8h0M568.2 420.0h0M584.6 393.9h0M618.5 409.7h0M595.6 441.1h0M583.8 405.8h0M584.9 416.6h0M594.8 403.6h0M534.8 427.0h0M545.4 440.2h0M554.4 444.0h0M545.2 411.7h0M599.7 422.1h0M580.1 395.4h0M611.9 405.8h0M608.1 440.9h0M595.1 412.2h0M603.5 431.8h0M572.5 420.9h0M577.6 405.7h0M584.7 436.7h0M561.6 397.1h0M595.3 394.8h0M542.6 421.5h0M589.6 424.9h0M598.4 424.0h0M553.8 412.2h0M602.8 392.6h0M574.5 410.4h0M550.4 443.7h0M595.2 395.2h0M612.6 416.7h0M602.9 422.4h0M561.3 407.5h0M560.4 441.6h0M556.3 403.5h0M569.0 400.3h0M563.2 397.9h0M572.4 414.7h0M579.0 432.9h0M618.8 425.0h0M569.1 445.9h0M564.6 403.6h0M562.4 422.5h0M571.2 437.0h0M597.0 404.8h0M538.0 432.3h0M599.0 422.3h0M597.2 444.6h0M575.8 425.2h0M597.0 445.1h0M608.2 441.4h0M587.8 435.3h0M572.8 393.3h0M602.0 405.7h0M572.5 437.6h0M547.9 411.8h0M546.8 409.0h0M556.8 438.9h0M565.7 442.4h0M536.8 419.1h0M598.7 407.9h0M540.3 434.9h0M573.1 441.3h0M596.9 392.3h0M578.2 400.9h0M595.9 436.0h0M546.5 415.3h0M543.8 418.2h0M601.6 413.6h0M605.1 413.2h0M566.2 409.3h0M617.9 406.0h0M528.4 441.7h0M556.4 404.1h0M597.4 430.0h0M602.1 391.3h0M577.8 423.6h0M569.9 422.7h0M577.8 410.5h0M595.4 413.0h0M612.6 426.3h0M594.6 434.5h0M589.3 400.0h0M605.0 443.4h0M559.5 409.9h0M613.2 395.8h0M609.0 401.9h0M564.9 398.3h0M589.3 439.6h0M556.0 412.5h0M599.9 426.1h0M551.9 433.2h0M597.7 442.6h0M572.6 393.5h0M586.7 423.3h0M606.7 426.2h0M605.6 415.8h0M582.4 419.5h0M543.3 411.0h0M591.9 392.8h0M598.1 402.5h0M553.4 438.8h0M569.5 419.3h0M571.0 414.6h0M610.0 403.6h0M580.1 431.4h0M595.8 395.3h0M606.6 396.0h0M545.4 441.0h0M564.5 399.4h0M595.3 429.6h0M551.6 418.0h0M551.3 412.0h0M545.6 415.7h0M617.1 425.9h0M596.5 442.5h0M550.5 425.6h0M605.5 435.8h0M618.0 395.0h0M593.9 421.7h0M601.1 434.1h0M585.3 417.4h0M559.9 413.4h0M547.7 437.0h0M607.5 430.1h0M540.3 413.6h0M574.2 414.2h0M561.2 404.5h0M539.0 416.0h0M616.6 430.2h0M552.4 410.8h0M576.2 426.1h0M559.6 425.9h0M549.4 411.3h0M582.2 434.0h0M612.8 426.4h0M564.2 403.5h0M539.3 445.4h0M578.0 412.7h0M611.0 429.8h0M557.8 446.1h0M586.2 423.6h0M556.9 444.2h0M600.8 401.7h0M567.0 436.5h0M557.8 407.8h0M530.1 425.2h0M555.3 440.5h0M560.3 438.2h0M612.5 434.5h0M587.4 419.4h0M545.8 411.1h0M558.8 422.1h0M602.8 419.4h0M536.2 428.2h0M538.8 445.4h0M560.0 406.1h0M616.1 392.3h0M576.8 432.8h0M600.4 428.7h0M531.0 433.9h0M578.3 417.1h0M615.3 396.3h0M589.3 433.9h0M557.9 433.5h0M609.4 396.8h0M530.0 433.8h0M536.9 433.1h0M570.8 407.8h0M551.3 445.1h0M582.9 413.8h0M579.1 434.3h0M568.1 434.1h0M568.9 441.2h0M551.4 418.6h0M540.7 413.3h0M568.8 433.7h0M545.5 418.0h0M524.6 445.1h0M583.1 407.8h0M597.6 421.1h0M569.5 415.3h0M602.9 405.1h0M614.5 399.4h0M618.8 421.0h0M596.5 427.7h0M570.5 396.4h0M561.8 445.1h0M551.6 428.1h0M594.4 428.4h0M533.6 433.4h0M587.5 393.2h0M594.0 442.6h0M604.7 423.2h0M538.7 444.5h0M606.1 441.9h0M545.0 428.1h0M591.7 436.3h0M572.3 439.6h0M549.0 413.9h0M613.8 408.3h0M600.3 435.2h0M596.9 422.8h0M529.9 431.5h0M580.2 408.4h0M585.8 397.6h0M550.8 410.5h0M591.1 444.5h0M541.4 425.5h0M616.6 410.9h0M593.8 437.7h0M608.1 407.1h0M544.9 435.8h0M569.6 401.4h0M589.2 436.2h0M606.9 394.8h0M549.4 418.5h0M606.9 438.8h0M538.8 434.5h0M586.8 436.8h0M567.7 421.9h0M607.4 420.1h0M556.7 418.1h0M557.5 409.7h0M608.9 403.3h0M560.0 406.2h0M575.5 425.7h0M567.0 426.4h0M604.2 401.1h0M554.9 421.0h0M600.9 426.1h0M573.7 394.1h0M546.5 446.1h0M544.3 434.1h0M550.3 438.6h0M554.7 424.0h0M558.1 421.5h0M615.3 394.9h0M559.1 415.8h0M600.2 409.7h0M527.8 436.0h0M573.3 441.4h0M543.2 414.3h0M590.0 416.4h0M616.8 406.7h0M545.1 442.0h0M560.8 416.6h0M548.9 426.0h0M555.9 417.3h0M529.7 439.2h0M554.4 428.2h0M604.7 400.2h0M618.7 400.5h0M614.4 423.2h0M591.0 412.0h0M599.6 442.7h0M611.2 390.1h0M576.5 404.3h0M602.5 444.8h0M583.0 399.7h0M540.3 439.9h0M567.7 404.8h0M573.3 410.2h0M608.4 419.8h0M553.3 408.8h0M607.8 393.5h0M599.1 395.9h0M594.2 419.2h0M569.9 395.8h0M571.2 430.3h0M549.0 429.7h0M612.2 411.0h0M560.2 432.1h0M567.3 423.2h0M605.8 394.0h0M581.6 409.7h0M548.9 440.9h0M532.7 434.5h0M605.4 401.3h0M588.8 414.3h0M556.6 430.6h0M617.4 411.7h0M613.1 430.8h0M601.0 436.5h0M548.5 435.6h0M588.9 434.7h0M588.0 400.2h0M590.6 427.1h0M612.1 437.2h0M557.2 431.7h0M607.0 442.0h0M580.2 429.1h0M593.0 405.6h0M570.3 417.1h0M597.7 421.8h0M568.0 397.4h0M609.0 420.6h0M566.9 416.7h0M580.3 430.1h0M561.1 436.2h0M572.1 442.2h0M589.0 443.5h0M530.2 433.4h0M592.5 405.3h0M544.1 442.8h0M567.8 399.6h0M573.6 432.0h0M609.9 397.2h0M571.0 401.3h0M558.3 418.8h0M602.4 391.6h0M545.2 443.7h0M547.5 442.4h0M615.2 429.9h0M603.8 445.1h0M611.1 404.3h0M588.6 400.3h0M549.5 418.3h0M550.6 427.7h0M607.4 414.7h0M609.4 436.2h0M528.6 444.0h0M597.6 403.7h0M603.1 402.7h0M600.0 427.9h0M571.8 425.3h0M577.2 418.1h0M565.4 439.3h0M548.3 425.7h0M561.0 426.7h0M538.8 430.3h0M543.4 436.8h0M559.6 440.2h0M559.4 418.3h0M571.5 424.7h0M583.9 425.8h0M567.1 405.6h0M534.7 430.1h0M613.2 435.3h0M601.4 387.2h0M544.3 417.2h0M603.5 429.5h0M567.7 411.7h0M546.6 423.8h0M608.3 434.6h0M592.2 399.9h0M549.4 427.3h0M602.9 410.3h0M597.9 445.7h0M567.7 444.1h0M578.8 397.7h0M598.8 421.3h0M557.0 445.9h0M603.1 399.9h0M580.7 443.1h0M544.3 436.3h0M594.0 431.0h0M559.8 415.8h0M565.0 407.0h0M554.5 415.5h0M554.6 401.9h0M550.3 408.0h0M615.2 391.5h0M586.6 405.4h0M560.4 435.0h0M587.7 399.8h0M584.7 439.8h0M575.6 407.9h0M544.2 423.4h0M532.9 428.4h0M605.8 417.9h0M573.4 433.6h0M540.5 428.9h0M544.9 429.8h0M593.0 406.1h0M618.4 410.5h0M586.0 438.8h0M595.9 389.8h0M607.9 431.7h0M538.5 424.8h0M604.3 404.0h0M563.3 435.4h0M581.0 409.9h0M599.1 443.9h0M566.7 432.9h0M567.6 441.7h0M597.8 393.5h0M579.0 423.2h0M543.0 417.0h0M536.6 417.6h0M617.4 401.4h0M610.3 408.1h0M576.9 421.5h0M602.7 419.9h0M569.5 441.2h0M575.3 443.0h0M540.3 439.1h0M550.8 400.6h0M548.0 436.6h0M559.2 413.8h0M616.1 404.7h0M607.2 410.0h0M597.2 418.2h0M579.1 427.8h0M566.1 438.2h0M603.6 431.0h0M602.3 399.5h0M590.7 435.6h0M558.5 443.1h0M534.5 420.6h0M597.3 423.1h0M597.7 402.9h0M577.0 408.8h0M577.5 421.9h0M542.8 445.1h0M594.3 435.9h0M574.6 415.5h0M524.5 443.8h0M584.4 393.1h0M597.9 416.5h0M589.0 437.2h0M574.9 428.8h0M541.7 437.3h0M559.4 401.7h0M597.1 406.2h0M526.6 299.6h0M579.1 306.8h0M605.8 333.5h0M573.7 341.6h0M588.5 347.7h0M610.9 351.7h0M571.7 350.4h0M553.5 362.6h0M578.0 363.0h0M656.4 384.5h0M645.0 408.4h0M631.2 411.2h0M619.2 402.0h0M616.8 378.4h0M585.3 356.5h0M584.2 368.5h0M590.0 352.0h0M587.0 355.0h0M583.0 360.0h0M532.0 390.0h0M536.0 395.0h0M590.0 372.0h0M596.0 376.0h0M602.0 380.0h0M575.0 375.0h0M568.0 385.0h0M593.0 365.0h0" stroke="#bebebe" stroke-width="3.1" stroke-linecap="round"/>
<path d="M520.3 429.7h0M543.4 426.0h0M519.4 430.7h0M532.1 444.8h0M520.1 442.3h0M531.9 428.3h0M523.9 427.5h0M532.7 444.7h0M526.4 437.5h0M552.5 439.9h0M528.2 422.6h0M539.2 422.7h0M552.7 442.7h0M522.7 445.8h0M521.8 425.9h0M528.6 422.0h0M532.7 443.5h0M544.7 438.3h0M529.4 434.2h0M524.0 448.0h0M531.5 447.8h0M539.3 447.3h0M537.4 442.5h0M542.1 434.5h0M545.9 426.4h0M546.2 442.8h0M522.3 441.6h0M537.0 442.9h0M533.2 422.8h0M551.3 439.7h0M526.6 447.6h0M519.9 442.3h0M541.4 427.5h0M530.4 428.8h0M544.9 441.3h0M518.7 448.1h0M529.7 434.2h0M533.1 433.7h0M541.2 430.5h0M522.4 439.7h0M532.6 440.3h0M546.7 444.7h0M527.3 428.7h0M533.6 426.3h0M534.6 431.3h0M527.1 432.2h0M525.5 428.7h0M542.0 443.7h0M519.5 447.1h0M533.0 441.1h0M534.9 429.3h0M546.3 443.5h0M550.7 441.9h0M535.0 444.4h0M520.3 440.1h0M537.1 424.6h0M521.3 428.6h0M541.4 428.3h0M538.4 427.9h0M542.2 446.9h0M520.0 427.6h0M519.0 439.4h0M524.9 423.1h0M519.8 447.3h0M544.7 433.2h0M557.9 440.5h0M526.6 429.4h0M527.6 430.7h0M534.8 446.9h0M537.2 421.3h0M521.9 447.9h0M546.9 435.6h0M528.0 440.3h0M532.7 423.9h0M527.4 430.2h0M547.7 447.3h0M530.3 420.6h0M546.2 440.8h0M552.5 447.8h0M543.1 422.3h0M528.2 446.8h0M554.3 434.9h0M555.1 437.5h0M523.7 435.9h0M528.9 429.0h0M532.5 435.2h0M540.8 438.7h0M537.4 426.1h0M553.1 431.7h0M530.9 438.9h0M525.4 422.6h0M532.7 446.5h0M526.3 443.6h0M526.7 433.6h0M522.2 423.2h0M542.0 423.8h0M544.4 446.2h0M520.6 438.6h0M521.9 429.5h0M523.5 425.7h0M543.5 429.4h0M524.5 422.8h0M523.0 428.4h0M543.5 435.0h0M522.8 436.7h0M557.0 439.0h0M526.3 424.7h0M549.9 428.3h0M548.5 429.3h0M550.0 428.2h0M541.2 428.0h0M527.8 435.7h0M525.8 436.5h0M539.2 424.6h0M527.2 445.8h0M527.2 427.9h0M524.1 427.2h0M556.8 436.6h0M532.3 430.4h0M538.2 429.2h0M534.6 447.4h0M519.2 447.6h0M559.3 447.9h0M526.3 443.8h0M550.4 439.1h0M551.8 446.0h0M528.1 430.8h0M541.6 423.5h0M553.1 449.0h0M529.7 448.2h0M542.3 438.3h0M543.7 446.9h0M547.8 442.6h0M531.3 438.1h0M537.4 428.9h0M540.8 443.4h0M519.2 431.7h0M524.8 443.4h0M539.8 422.6h0M536.9 447.3h0M523.7 448.3h0M531.9 440.8h0M534.1 419.9h0M545.7 447.3h0M530.9 432.9h0M548.2 429.3h0M521.4 434.9h0M543.7 443.2h0M541.7 422.4h0M532.6 448.0h0M527.9 437.0h0M526.6 446.2h0M525.8 436.1h0M524.5 438.3h0M525.8 420.5h0M522.0 427.7h0M550.9 434.9h0M542.6 424.1h0M558.1 442.3h0M552.2 442.2h0M533.6 445.2h0M542.2 443.0h0M532.5 432.9h0M545.8 441.2h0M535.2 423.0h0M529.2 421.1h0M524.5 439.2h0M531.8 420.6h0M534.7 428.8h0M540.3 433.7h0M537.9 424.8h0M536.1 438.5h0M553.1 445.4h0M539.8 433.6h0M539.8 432.0h0M532.4 440.0h0M535.8 427.7h0M551.2 445.5h0M519.8 439.7h0M536.2 423.1h0M531.2 424.1h0M553.3 436.2h0M536.0 430.7h0M535.3 444.5h0M539.3 426.3h0M537.5 441.4h0M545.6 430.9h0M534.1 423.7h0M549.9 445.1h0M519.8 436.2h0M530.9 427.2h0M537.5 442.0h0M551.1 432.4h0M524.7 435.2h0M544.9 433.5h0M518.3 423.5h0M539.0 439.5h0M545.2 435.7h0M534.1 426.2h0M527.4 422.1h0M536.8 446.3h0M554.6 434.7h0M531.2 447.5h0M519.2 422.9h0M541.2 431.4h0M533.0 420.9h0M558.4 445.9h0M556.8 447.4h0M520.7 431.5h0M532.6 442.9h0M543.5 433.8h0M531.6 426.2h0M538.3 445.8h0M539.4 429.0h0M554.7 446.5h0M519.5 439.3h0M528.7 440.5h0M532.0 429.4h0M519.3 429.2h0M536.9 447.7h0M550.9 437.6h0M522.5 434.3h0M539.3 422.9h0M527.8 433.2h0M548.6 437.2h0M539.5 439.4h0M531.5 431.3h0M540.0 425.5h0M520.1 436.3h0M546.7 441.7h0M530.0 437.7h0M529.3 434.9h0M555.5 448.2h0M525.2 436.4h0M531.8 439.8h0M532.6 447.3h0M520.7 443.3h0M551.8 440.1h0M551.0 434.3h0M551.7 447.8h0M538.2 422.4h0M543.0 441.2h0M541.7 437.6h0M527.4 439.5h0M549.9 435.2h0M531.9 430.7h0M533.0 425.4h0M521.6 432.7h0M524.0 426.6h0M539.6 443.2h0M531.1 435.3h0M541.2 423.6h0M547.5 441.4h0M539.2 426.4h0M524.7 437.5h0M528.2 422.5h0M549.8 429.0h0M541.4 421.5h0M541.7 423.5h0M522.4 434.5h0M548.2 436.1h0M527.7 435.0h0M526.8 435.9h0M522.0 434.0h0M532.5 446.8h0M544.0 427.3h0M551.8 448.0h0M558.6 445.4h0M548.8 430.9h0M555.1 447.0h0M546.2 448.7h0M544.2 446.5h0M541.0 429.3h0M537.3 433.1h0M538.1 440.9h0M551.5 439.4h0M522.2 429.5h0M533.7 439.6h0M549.2 427.9h0M533.9 420.5h0M522.0 436.4h0M554.4 443.9h0M542.9 445.0h0M546.3 428.0h0M540.0 428.0h0M537.5 434.7h0M543.9 424.1h0M521.9 447.0h0M545.4 429.6h0M530.5 422.2h0M530.3 438.6h0M540.0 431.8h0M526.4 427.8h0M526.7 446.6h0M525.2 423.5h0M527.4 448.0h0M532.1 428.8h0M553.8 447.1h0M536.7 423.3h0M519.8 444.4h0M544.3 433.0h0M536.7 428.7h0M554.4 442.7h0M554.2 439.1h0M532.5 437.3h0M545.6 430.2h0M530.8 435.1h0M542.0 443.9h0M554.8 448.1h0M529.2 448.3h0M535.4 449.0h0M529.4 431.7h0M536.8 447.1h0M540.3 423.2h0M530.0 423.5h0M519.5 442.9h0M520.3 423.3h0M544.8 422.6h0M541.7 427.9h0M536.4 435.6h0M526.9 439.3h0M559.2 446.4h0M527.7 429.8h0M527.3 443.3h0M547.2 424.3h0M536.5 442.5h0M539.1 422.1h0M554.0 441.4h0M540.1 421.5h0M521.8 428.7h0M549.9 438.9h0M523.9 424.0h0M519.1 430.4h0M552.3 437.2h0M535.5 431.7h0M544.0 437.6h0M550.9 436.7h0M545.4 437.1h0M522.9 446.0h0M531.7 431.2h0M550.0 440.1h0M523.5 448.5h0M556.6 441.1h0M541.4 427.1h0M542.6 437.1h0M538.3 437.4h0M558.2 438.4h0M523.9 444.5h0M520.5 432.1h0M532.8 437.3h0M527.4 420.5h0M519.9 423.3h0M520.0 445.1h0M544.8 430.3h0M549.4 434.6h0M521.4 445.6h0M549.1 431.7h0M535.7 426.6h0M558.0 439.7h0M542.8 424.1h0M546.8 434.2h0M524.3 436.1h0M531.5 441.8h0M545.5 424.2h0M534.6 433.9h0M540.0 443.3h0M530.5 438.8h0M557.5 447.1h0M544.4 442.7h0M532.2 425.5h0M522.5 437.5h0M528.0 432.2h0M522.7 439.6h0M527.7 437.5h0M545.0 431.3h0M528.8 425.3h0M525.5 431.9h0M531.0 437.7h0M524.1 429.8h0M540.3 437.3h0M541.3 438.3h0M533.6 420.5h0M535.5 437.2h0M527.2 441.4h0M532.2 435.0h0M547.9 435.2h0M529.8 441.6h0M520.9 438.7h0M540.7 442.5h0M542.2 427.3h0M531.3 440.6h0M542.2 442.0h0M539.2 441.0h0M537.6 421.4h0M520.7 429.1h0M525.9 428.8h0M528.7 427.9h0M526.4 425.6h0M538.5 447.0h0M523.9 437.2h0M548.6 426.7h0M533.1 423.8h0M539.0 431.1h0M535.9 430.8h0M532.9 434.9h0M535.5 440.1h0M521.6 423.0h0M523.6 424.4h0M554.7 445.9h0M549.2 437.8h0M521.2 437.6h0M550.2 433.7h0M528.1 424.0h0M527.9 440.5h0M536.8 438.9h0M553.5 437.3h0M541.0 421.1h0M520.9 427.9h0M530.7 431.5h0M522.9 447.8h0M550.5 442.7h0M521.6 438.4h0M519.4 439.0h0M535.0 439.9h0M549.2 429.6h0M530.4 441.5h0M530.5 438.8h0M545.8 446.9h0M524.1 425.9h0M527.6 431.7h0M522.2 435.9h0M539.2 446.6h0M532.7 437.6h0M532.4 439.6h0M535.3 422.0h0M521.3 430.6h0M519.3 443.7h0M548.7 431.2h0M524.0 428.8h0M546.1 433.6h0M534.4 420.7h0M525.3 428.1h0M535.8 423.6h0M545.1 445.7h0M550.1 434.0h0M551.8 447.2h0M530.2 420.0h0M551.0 435.2h0M546.1 427.6h0M526.3 427.2h0M534.5 434.1h0M519.0 431.9h0M519.5 434.5h0M529.9 443.1h0M538.1 426.1h0M525.0 438.9h0M545.2 438.7h0M555.6 441.7h0M522.4 425.4h0M546.1 446.5h0M534.8 434.4h0M537.8 422.8h0M549.7 444.6h0M556.5 437.6h0M528.6 444.3h0M534.9 420.0h0M521.3 438.8h0M530.5 430.9h0M540.9 444.8h0M524.1 434.3h0M533.4 439.9h0M542.0 442.0h0M532.8 423.4h0M537.2 446.1h0M548.3 429.4h0M529.6 426.3h0M522.0 446.6h0M551.2 441.4h0M548.1 436.5h0M546.2 428.6h0M519.9 424.5h0M531.2 434.2h0M556.7 444.1h0M523.4 437.8h0M544.1 439.2h0M535.4 438.4h0M522.5 441.9h0M527.0 428.7h0M551.1 440.1h0M557.8 441.0h0M538.4 429.1h0M534.9 431.6h0M530.7 421.5h0M536.6 435.9h0M537.3 440.7h0M528.0 434.8h0M533.5 420.4h0M522.4 427.6h0M531.4 430.8h0M552.3 445.1h0M547.2 443.1h0M528.8 424.2h0M524.0 436.1h0M541.7 436.9h0M537.6 445.4h0M535.9 426.1h0M535.6 430.1h0M548.8 436.3h0M530.1 420.6h0M530.4 446.0h0M529.5 442.4h0M519.4 445.1h0M552.0 434.8h0M543.9 431.0h0M532.9 423.0h0M520.1 433.7h0M549.7 446.5h0M540.2 446.6h0M525.0 441.4h0M535.7 434.5h0M532.4 434.9h0M534.6 439.2h0M553.0 445.8h0M533.2 427.4h0M524.1 428.1h0M543.5 439.4h0M544.0 437.4h0M532.0 431.0h0M526.5 432.0h0M527.0 440.2h0M542.5 447.8h0M531.4 423.2h0M521.3 427.6h0M552.5 431.0h0M557.8 446.9h0M557.9 442.2h0M531.1 424.1h0M518.8 447.4h0M539.2 427.1h0M541.7 428.6h0M536.0 446.7h0M536.4 429.8h0M531.8 436.6h0M536.1 436.7h0M528.7 430.4h0M529.2 435.2h0M531.1 440.2h0M527.2 446.8h0M541.9 431.3h0M548.0 448.3h0M543.7 446.5h0M552.1 433.3h0M546.6 444.2h0M520.5 437.0h0M539.0 441.3h0M544.2 448.0h0M551.0 430.3h0M547.0 440.3h0M545.1 429.8h0M529.0 431.5h0M543.5 425.1h0M535.1 431.4h0M525.0 428.9h0M533.7 431.9h0M531.4 447.3h0M544.1 440.6h0M543.3 435.4h0M552.7 434.7h0M530.6 431.0h0M543.4 429.5h0M521.3 439.2h0M532.2 422.1h0M527.2 439.3h0M519.0 437.5h0M541.0 431.7h0M545.2 438.4h0M557.4 448.3h0M530.0 436.0h0M552.5 435.6h0M532.6 430.9h0M540.2 445.1h0M540.9 444.8h0M536.6 430.4h0M556.3 435.3h0M521.4 430.1h0M550.8 442.1h0M544.4 443.2h0M533.1 443.7h0M544.1 432.1h0M538.1 426.9h0M530.3 429.7h0M551.2 448.5h0M533.5 437.5h0M537.1 446.7h0M539.6 428.8h0M546.1 436.3h0M537.0 422.3h0M547.9 446.3h0M520.8 425.5h0M518.7 446.7h0M529.8 423.1h0M529.2 439.9h0M544.4 428.5h0M523.6 427.7h0M545.9 443.9h0M540.6 439.2h0M525.9 446.0h0M537.6 437.0h0M521.3 434.6h0M522.7 444.4h0M530.4 428.7h0M547.9 425.9h0M555.7 434.9h0M524.2 423.8h0M542.5 446.3h0M547.6 447.2h0M534.5 422.8h0M538.1 437.3h0M555.2 444.8h0M538.9 434.3h0M536.4 419.5h0M546.3 426.1h0M527.2 434.9h0M552.8 445.0h0M538.3 441.6h0M524.5 434.0h0M521.9 435.9h0M555.2 447.2h0M535.7 438.3h0M532.9 433.2h0M543.7 428.9h0M538.3 435.4h0M548.9 430.6h0M521.1 423.9h0M519.5 431.9h0M544.1 440.7h0M527.6 441.8h0M548.1 432.9h0M523.2 430.7h0M552.8 440.2h0M532.6 437.3h0M534.5 436.8h0M530.2 435.1h0M527.0 433.5h0M543.5 446.1h0M538.4 444.1h0M521.7 440.4h0M524.7 421.9h0M530.0 434.8h0M528.2 441.7h0M581.0 415.4h0M534.4 426.8h0M540.4 434.4h0M560.8 428.4h0M560.0 416.2h0M572.4 414.3h0M569.8 416.3h0M553.0 440.6h0M543.5 440.8h0M552.0 423.5h0M554.4 415.6h0M551.0 423.7h0M570.2 428.3h0M541.0 427.5h0M551.2 418.2h0M556.5 415.9h0M550.8 425.2h0M581.6 423.3h0M566.4 419.0h0M561.1 427.0h0M584.5 414.7h0M568.4 413.5h0M578.2 408.4h0M579.3 409.6h0M538.9 425.4h0M550.4 440.8h0M568.9 420.9h0M544.8 426.8h0M539.3 437.2h0M547.8 419.5h0M566.8 424.9h0M559.1 433.3h0M556.9 441.3h0M566.1 436.3h0M564.4 439.1h0M539.3 421.1h0M582.2 421.3h0M570.6 435.7h0M548.2 425.0h0M549.3 419.3h0M552.0 420.1h0M562.1 415.5h0M565.0 413.2h0M564.1 416.1h0M582.2 405.7h0M573.7 420.7h0M576.9 427.4h0M559.6 419.9h0M577.9 419.8h0M583.2 416.4h0M577.4 416.5h0M579.2 415.6h0M558.7 435.9h0M548.8 426.2h0M560.3 424.7h0M569.5 419.5h0M542.9 425.2h0M553.0 439.8h0M576.8 425.6h0M553.1 427.9h0M581.8 420.0h0M538.2 428.2h0M579.0 414.7h0M562.0 412.5h0M546.8 416.4h0M568.1 421.4h0M543.0 420.2h0M571.4 428.0h0M559.7 417.7h0M556.1 410.2h0M548.1 431.0h0M559.9 411.2h0M576.7 430.6h0M560.8 423.8h0M555.6 413.6h0M578.5 427.1h0M565.9 426.8h0M562.0 414.7h0M543.8 425.2h0M569.8 433.5h0M559.5 424.4h0M564.4 421.8h0M570.9 410.0h0M551.4 444.5h0M573.2 420.4h0M547.1 420.6h0M538.1 434.5h0M573.8 421.2h0M569.1 423.5h0M561.6 429.2h0M572.3 407.5h0M539.4 431.0h0M541.9 427.4h0M580.9 416.2h0M540.3 426.1h0M539.6 432.6h0M551.6 413.9h0M563.7 408.4h0M574.1 430.0h0M572.6 436.0h0M568.0 436.9h0M545.3 437.5h0M574.4 410.7h0M568.6 411.9h0M575.1 429.8h0M547.1 424.9h0M547.9 426.0h0M558.4 413.5h0M583.2 405.6h0M559.5 429.5h0M581.7 418.0h0M545.7 416.9h0M570.4 421.2h0M567.1 436.4h0M536.5 432.8h0M569.8 432.5h0M578.3 426.9h0M565.3 416.7h0M564.9 426.3h0M563.2 431.3h0M558.2 414.5h0M565.4 427.6h0M564.1 411.0h0M559.3 436.4h0M564.5 410.7h0M548.7 442.6h0M553.7 427.3h0M565.0 415.2h0M553.9 430.0h0M559.5 439.4h0M576.3 405.6h0M555.5 419.8h0M580.1 417.2h0M559.9 429.5h0M532.4 429.8h0M564.6 435.4h0M543.3 441.4h0M546.2 419.6h0M542.3 425.5h0M554.4 421.9h0M548.2 415.2h0M536.5 425.3h0M569.8 434.4h0M533.9 425.8h0M569.2 415.3h0M560.0 426.0h0M553.9 422.2h0M546.2 435.6h0M546.1 434.5h0M581.1 422.1h0M563.3 431.2h0M577.9 406.5h0M543.3 416.7h0M536.0 427.6h0M577.3 412.5h0M556.6 426.6h0M552.9 414.6h0M572.1 410.6h0M561.1 440.3h0M550.8 430.7h0M556.0 436.4h0M540.2 432.7h0M539.4 422.4h0M578.1 410.4h0M551.6 416.2h0M548.9 427.7h0M573.9 420.9h0M541.5 425.4h0M540.5 431.9h0M579.0 407.4h0M556.8 396.4h0M557.1 411.9h0M540.9 406.4h0M571.6 401.2h0M572.8 400.7h0M561.2 404.1h0M551.6 406.3h0M568.6 402.7h0M539.9 409.0h0M540.5 403.7h0M557.7 407.4h0M574.0 399.5h0M560.5 408.2h0M537.6 407.0h0M551.2 410.4h0M543.7 402.3h0M537.8 402.6h0M554.8 406.1h0M541.4 410.3h0M561.4 398.9h0M555.0 402.4h0M560.0 401.4h0M551.3 402.8h0M572.7 402.9h0M542.4 404.0h0M534.9 411.7h0M574.4 394.8h0M519.9 423.4h0M575.4 393.9h0M532.4 418.1h0M545.0 401.1h0M561.9 409.9h0M531.9 411.1h0M523.8 417.4h0M557.0 402.3h0M579.6 396.5h0M556.5 410.5h0M527.7 422.2h0M520.7 422.5h0M562.2 400.5h0M572.6 393.6h0M522.1 421.6h0M563.8 402.7h0M529.6 411.4h0M536.6 415.3h0M534.2 367.0h0M540.4 373.4h0M546.3 368.5h0M560.5 367.9h0M522.2 397.7h0M528.3 396.4h0M533.8 395.5h0M554.6 383.9h0M555.7 388.9h0M547.6 393.7h0M618.1 407.3h0M592.9 389.3h0M598.0 389.3h0M571.7 383.9h0M565.0 378.0h0M560.0 392.0h0M575.0 390.0h0M580.0 398.0h0M590.0 400.0h0M596.0 395.0h0M540.7 373.5h0M567.0 382.0h0M555.0 375.0h0M576.0 384.0h0M585.0 393.0h0" stroke="#009b9b" stroke-width="3.1" stroke-linecap="round"/>
<path d="M558.8 428.4h0M585.3 411.2h0M553.6 428.8h0M588.8 404.9h0M557.1 418.0h0M578.7 398.0h0M559.9 433.4h0M593.3 429.0h0M555.1 436.4h0M592.3 412.3h0M587.2 426.5h0M558.4 414.3h0M575.9 429.4h0M565.7 431.5h0M584.1 402.9h0M581.5 398.8h0M579.6 400.1h0M552.6 416.0h0M585.4 433.3h0M585.5 420.2h0M552.1 439.5h0M590.1 397.5h0M583.7 437.6h0M563.6 405.0h0M591.4 416.3h0M567.8 424.7h0M589.9 422.0h0M569.7 435.3h0M576.7 439.2h0M572.5 403.8h0M569.3 405.0h0M587.4 425.4h0M592.7 425.2h0M556.4 419.0h0M575.6 423.0h0M565.9 421.7h0M547.0 435.9h0M558.6 425.2h0M572.6 428.3h0M550.4 428.3h0M557.7 411.2h0M550.4 425.1h0M550.1 429.7h0M559.2 432.5h0M546.7 436.4h0M572.1 406.7h0M555.1 418.5h0M577.0 402.0h0M572.5 410.3h0M557.7 440.6h0M574.1 425.8h0M556.3 424.2h0M572.1 439.3h0M584.7 413.9h0M545.5 438.8h0M551.6 421.4h0M572.6 431.7h0M592.0 413.7h0M587.6 413.8h0M569.8 402.4h0M553.8 424.7h0M588.7 403.0h0M590.2 408.6h0M579.3 432.2h0M574.8 429.3h0M576.4 401.0h0M580.6 412.0h0M547.0 439.7h0M572.5 419.7h0M564.6 435.9h0M552.5 434.6h0M562.4 411.3h0M562.8 412.8h0M583.7 413.4h0M581.4 411.2h0M578.2 435.3h0M582.0 403.4h0M585.9 421.5h0M570.7 435.1h0M567.1 427.6h0M590.8 429.0h0M562.1 408.6h0M573.1 420.4h0M574.5 433.8h0M582.6 428.4h0M576.0 436.7h0M555.2 433.2h0M560.1 428.4h0M572.5 436.7h0M581.3 437.9h0M583.9 401.9h0M570.3 401.4h0M594.9 424.5h0M579.8 422.6h0M579.4 439.5h0M590.4 429.8h0M587.5 411.9h0M580.2 401.3h0M568.9 401.3h0M580.6 422.6h0M584.5 427.8h0M566.5 418.3h0M553.4 419.3h0M592.6 430.8h0M580.6 416.4h0M576.6 412.6h0M556.2 420.6h0M588.7 427.6h0M583.6 415.0h0M576.2 436.1h0M591.2 418.6h0M556.5 418.0h0M555.1 434.0h0M590.6 412.9h0M577.6 420.9h0M556.4 409.7h0M563.7 419.2h0M562.1 422.2h0M576.7 403.0h0M581.3 437.1h0M575.7 408.9h0M563.3 406.6h0M561.5 420.5h0M558.7 435.9h0M580.9 423.4h0M569.0 414.9h0M586.9 399.1h0M549.9 433.8h0M557.4 431.4h0M574.4 431.7h0M568.1 424.5h0M574.0 438.3h0M560.5 438.0h0M559.8 423.3h0M569.6 427.2h0M568.3 405.0h0M588.0 405.2h0M573.0 419.9h0M554.2 433.1h0M561.2 440.8h0M582.4 433.7h0M557.6 408.4h0M586.8 433.5h0M551.0 438.5h0M584.4 430.7h0M563.2 417.9h0M557.7 411.0h0M586.3 401.4h0M554.5 420.6h0M575.3 438.1h0M538.6 412.7h0M551.2 404.4h0M555.9 404.9h0M540.3 410.2h0M542.6 419.0h0M544.7 417.5h0M552.5 408.1h0M546.6 402.3h0M556.3 406.1h0M540.2 408.8h0M537.4 419.0h0M536.8 417.4h0M543.1 413.8h0M531.1 416.4h0M550.1 413.5h0M545.9 409.2h0M540.9 415.9h0M542.8 406.1h0M536.8 410.6h0M536.7 409.3h0M547.0 410.9h0M555.4 408.3h0M537.0 411.1h0M540.1 419.2h0M549.8 408.2h0M544.3 407.6h0M540.6 420.0h0M538.4 412.7h0M550.4 405.4h0M550.3 411.4h0M536.5 414.3h0M557.9 400.7h0M543.7 416.8h0M540.7 416.0h0M542.2 407.0h0M543.2 411.3h0M547.6 410.7h0M539.2 420.5h0M537.4 411.7h0M542.5 411.4h0M547.2 430.5h0M557.8 430.7h0M553.2 433.4h0M558.7 430.6h0M548.0 434.1h0M547.7 439.7h0M543.6 437.4h0M561.0 438.0h0M552.0 441.6h0M560.3 445.2h0M557.1 442.1h0M559.1 432.2h0M551.2 439.6h0M543.6 439.5h0M555.8 439.4h0M556.1 441.6h0M549.0 428.0h0M543.1 439.8h0M561.6 440.4h0M556.3 445.1h0M563.0 445.5h0M554.0 438.8h0M548.1 433.7h0M561.9 440.5h0M552.5 445.1h0M550.8 431.9h0M543.6 442.9h0M557.4 437.1h0M558.3 442.2h0M553.2 442.6h0M560.5 445.4h0M559.4 442.1h0M549.9 427.0h0M550.9 427.7h0M559.4 433.5h0M562.4 441.2h0M547.1 437.3h0M557.8 435.4h0M556.2 439.7h0M551.2 425.9h0" stroke="#bebebe" stroke-width="3.1" stroke-linecap="round"/>
<path d="M581.0 415.4h0M534.4 426.8h0M540.4 434.4h0M560.8 428.4h0M560.0 416.2h0M572.4 414.3h0M569.8 416.3h0M553.0 440.6h0M543.5 440.8h0M552.0 423.5h0M554.4 415.6h0M551.0 423.7h0M570.2 428.3h0M541.0 427.5h0M551.2 418.2h0M556.5 415.9h0M550.8 425.2h0M581.6 423.3h0M566.4 419.0h0M561.1 427.0h0M584.5 414.7h0M568.4 413.5h0M578.2 408.4h0M579.3 409.6h0M538.9 425.4h0M550.4 440.8h0M568.9 420.9h0M544.8 426.8h0M539.3 437.2h0M547.8 419.5h0M566.8 424.9h0M559.1 433.3h0M556.9 441.3h0M566.1 436.3h0M564.4 439.1h0M539.3 421.1h0M582.2 421.3h0M570.6 435.7h0M548.2 425.0h0M549.3 419.3h0M552.0 420.1h0M562.1 415.5h0M565.0 413.2h0M564.1 416.1h0M582.2 405.7h0M573.7 420.7h0M576.9 427.4h0M559.6 419.9h0M577.9 419.8h0M583.2 416.4h0M577.4 416.5h0M579.2 415.6h0M558.7 435.9h0M548.8 426.2h0M560.3 424.7h0M569.5 419.5h0M542.9 425.2h0M553.0 439.8h0M576.8 425.6h0M553.1 427.9h0M581.8 420.0h0M538.2 428.2h0M579.0 414.7h0M562.0 412.5h0M546.8 416.4h0M568.1 421.4h0M543.0 420.2h0M571.4 428.0h0M559.7 417.7h0M556.1 410.2h0M548.1 431.0h0M559.9 411.2h0M576.7 430.6h0M560.8 423.8h0M555.6 413.6h0M578.5 427.1h0M565.9 426.8h0M562.0 414.7h0M543.8 425.2h0M569.8 433.5h0M559.5 424.4h0M564.4 421.8h0M570.9 410.0h0M551.4 444.5h0M573.2 420.4h0M547.1 420.6h0M538.1 434.5h0M573.8 421.2h0M569.1 423.5h0M561.6 429.2h0M572.3 407.5h0M539.4 431.0h0M541.9 427.4h0M580.9 416.2h0M540.3 426.1h0M539.6 432.6h0M551.6 413.9h0M563.7 408.4h0M574.1 430.0h0M572.6 436.0h0M568.0 436.9h0M545.3 437.5h0M574.4 410.7h0M568.6 411.9h0M575.1 429.8h0M547.1 424.9h0M547.9 426.0h0M558.4 413.5h0M583.2 405.6h0M559.5 429.5h0M581.7 418.0h0M545.7 416.9h0M570.4 421.2h0M567.1 436.4h0M536.5 432.8h0M569.8 432.5h0M578.3 426.9h0M565.3 416.7h0M564.9 426.3h0M563.2 431.3h0M558.2 414.5h0M565.4 427.6h0M564.1 411.0h0M559.3 436.4h0M564.5 410.7h0M548.7 442.6h0M553.7 427.3h0M565.0 415.2h0M553.9 430.0h0M559.5 439.4h0M576.3 405.6h0M555.5 419.8h0M580.1 417.2h0M559.9 429.5h0M532.4 429.8h0M564.6 435.4h0M543.3 441.4h0M546.2 419.6h0M542.3 425.5h0M554.4 421.9h0M548.2 415.2h0M536.5 425.3h0M569.8 434.4h0M533.9 425.8h0M569.2 415.3h0M560.0 426.0h0M553.9 422.2h0M546.2 435.6h0M546.1 434.5h0M581.1 422.1h0M563.3 431.2h0M577.9 406.5h0M543.3 416.7h0M536.0 427.6h0M577.3 412.5h0M556.6 426.6h0M552.9 414.6h0M572.1 410.6h0M561.1 440.3h0M550.8 430.7h0M556.0 436.4h0M540.2 432.7h0M539.4 422.4h0M578.1 410.4h0M551.6 416.2h0M548.9 427.7h0M573.9 420.9h0M541.5 425.4h0M540.5 431.9h0M579.0 407.4h0M556.8 396.4h0M557.1 411.9h0M540.9 406.4h0M571.6 401.2h0M572.8 400.7h0M561.2 404.1h0M551.6 406.3h0M568.6 402.7h0M539.9 409.0h0M540.5 403.7h0M557.7 407.4h0M574.0 399.5h0M560.5 408.2h0M537.6 407.0h0M551.2 410.4h0M543.7 402.3h0M537.8 402.6h0M554.8 406.1h0M541.4 410.3h0M561.4 398.9h0M555.0 402.4h0M560.0 401.4h0M551.3 402.8h0M572.7 402.9h0M542.4 404.0h0M534.9 411.7h0M574.4 394.8h0M519.9 423.4h0M575.4 393.9h0M532.4 418.1h0M545.0 401.1h0M561.9 409.9h0M531.9 411.1h0M523.8 417.4h0M557.0 402.3h0M579.6 396.5h0M556.5 410.5h0M527.7 422.2h0M520.7 422.5h0M562.2 400.5h0M572.6 393.6h0M522.1 421.6h0M563.8 402.7h0M529.6 411.4h0M536.6 415.3h0M534.2 367.0h0M540.4 373.4h0M546.3 368.5h0M560.5 367.9h0M522.2 397.7h0M528.3 396.4h0M533.8 395.5h0M554.6 383.9h0M555.7 388.9h0M547.6 393.7h0M618.1 407.3h0M592.9 389.3h0M598.0 389.3h0M571.7 383.9h0M565.0 378.0h0M560.0 392.0h0M575.0 390.0h0M580.0 398.0h0M590.0 400.0h0M596.0 395.0h0M540.7 373.5h0M567.0 382.0h0M555.0 375.0h0M576.0 384.0h0M585.0 393.0h0" stroke="#009b9b" stroke-width="3.1" stroke-linecap="round"/>
<path d="M573.5 428.5h0M580.1 395.8h0M574.3 428.9h0M602.6 417.8h0M614.3 413.2h0M580.9 417.9h0M606.7 438.0h0M607.2 404.4h0M580.8 434.7h0M583.2 400.7h0M616.3 418.1h0M611.3 394.0h0M588.1 440.1h0M614.5 397.4h0M617.8 402.5h0M592.8 404.6h0M594.5 430.8h0M586.6 387.8h0M583.0 405.5h0M596.4 430.1h0M609.8 429.0h0M568.9 432.1h0M570.9 432.1h0M598.3 396.6h0M618.1 410.0h0M597.3 400.0h0M616.7 394.9h0M579.6 436.9h0M614.9 410.9h0M584.3 436.7h0M572.4 404.9h0M569.7 404.1h0M602.9 411.0h0M611.5 428.8h0M584.6 409.0h0M569.2 415.7h0M580.4 424.9h0M602.8 403.0h0M571.0 429.8h0M577.8 395.6h0M576.1 414.5h0M590.6 435.1h0M582.0 433.0h0M596.3 386.6h0M590.3 429.5h0M613.9 420.7h0M579.6 405.8h0M579.6 429.8h0M614.6 418.8h0M588.5 425.2h0M599.4 411.4h0M593.6 388.4h0M602.6 397.2h0M619.7 417.4h0M615.7 416.3h0M570.2 420.1h0M569.4 433.8h0M578.2 438.7h0M587.6 429.9h0M581.0 437.6h0M617.7 400.9h0M575.5 398.7h0M612.5 419.6h0M574.8 429.1h0M600.4 419.5h0M569.7 430.1h0M592.3 410.9h0M597.5 409.7h0M604.5 393.8h0M604.8 402.1h0M617.4 409.2h0M616.4 396.0h0M600.7 389.5h0M603.1 418.9h0M584.0 396.8h0M580.6 394.7h0M607.5 401.1h0M598.1 390.5h0M609.4 386.5h0M568.4 407.9h0M567.8 416.9h0M557.6 440.1h0M565.7 435.0h0M557.6 437.8h0M555.5 433.5h0M556.6 419.9h0M560.7 429.7h0M554.8 433.7h0M562.0 403.4h0M563.6 413.5h0M555.7 425.9h0M564.3 434.9h0M582.2 351.0h0M594.5 353.9h0M585.9 364.2h0M635.6 385.4h0M629.0 391.1h0M629.0 418.2h0M633.0 427.7h0M522.2 392.2h0M522.9 417.8h0M603.2 445.2h0M549.1 446.9h0M567.3 374.0h0M570.4 376.6h0M583.5 378.4h0M599.7 379.5h0M604.5 380.1h0M611.5 380.6h0M521.4 392.5h0M531.0 403.0h0M535.0 403.7h0M539.0 444.7h0M549.5 447.0h0M545.0 433.0h0M551.0 440.0h0M565.0 444.0h0M574.0 440.0h0" stroke="#8b008b" stroke-width="3.1" stroke-linecap="round"/>
<line x1="509.5" y1="448.0" x2="513.5" y2="448.0" stroke="#333" stroke-width="1.2" />
<text x="507.3" y="451.9" font-size="11.2" text-anchor="end" fill="#111" >0</text>
<line x1="509.5" y1="406.5" x2="513.5" y2="406.5" stroke="#333" stroke-width="1.2" />
<text x="507.3" y="410.4" font-size="11.2" text-anchor="end" fill="#111" >5</text>
<line x1="509.5" y1="365.0" x2="513.5" y2="365.0" stroke="#333" stroke-width="1.2" />
<text x="507.3" y="368.9" font-size="11.2" text-anchor="end" fill="#111" >10</text>
<line x1="509.5" y1="323.5" x2="513.5" y2="323.5" stroke="#333" stroke-width="1.2" />
<text x="507.3" y="327.4" font-size="11.2" text-anchor="end" fill="#111" >15</text>
<line x1="519.1" y1="454.9" x2="519.1" y2="458.4" stroke="#333" stroke-width="1.2" />
<text x="519.1" y="470.3" font-size="11.2" text-anchor="middle" fill="#111" >0</text>
<line x1="557.7" y1="454.9" x2="557.7" y2="458.4" stroke="#333" stroke-width="1.2" />
<text x="557.7" y="470.3" font-size="11.2" text-anchor="middle" fill="#111" >3</text>
<line x1="596.3" y1="454.9" x2="596.3" y2="458.4" stroke="#333" stroke-width="1.2" />
<text x="596.3" y="470.3" font-size="11.2" text-anchor="middle" fill="#111" >6</text>
<line x1="634.9" y1="454.9" x2="634.9" y2="458.4" stroke="#333" stroke-width="1.2" />
<text x="634.9" y="470.3" font-size="11.2" text-anchor="middle" fill="#111" >9</text>
<text x="598.0" y="482.8" font-size="11.2" text-anchor="middle" fill="#111" >Gene expression</text>
<text x="598.0" y="496.6" font-size="11.2" text-anchor="middle" fill="#111" >log2(FPKM+1) in WT</text>
<text x="0" y="0" font-size="11.2" text-anchor="middle" transform="translate(474.5 371.6) rotate(-90)" fill="#111">H3K4me3 breadth</text>
<text x="0" y="0" font-size="11.2" text-anchor="middle" transform="translate(487.7 371.6) rotate(-90)" fill="#111">(Kb) in <tspan font-style="italic">WT</tspan></text>
<line x1="74.3" y1="590.8" x2="74.3" y2="721.2" stroke="#555" stroke-width="1.3" />
<line x1="70.7" y1="721.2" x2="74.3" y2="721.2" stroke="#555" stroke-width="1.2" />
<text x="67.6" y="725.1" font-size="11.2" text-anchor="end" fill="#111" >0</text>
<line x1="70.7" y1="688.6" x2="74.3" y2="688.6" stroke="#555" stroke-width="1.2" />
<text x="67.6" y="692.5" font-size="11.2" text-anchor="end" fill="#111" >5</text>
<line x1="70.7" y1="656.0" x2="74.3" y2="656.0" stroke="#555" stroke-width="1.2" />
<text x="67.6" y="659.9" font-size="11.2" text-anchor="end" fill="#111" >10</text>
<line x1="70.7" y1="623.4" x2="74.3" y2="623.4" stroke="#555" stroke-width="1.2" />
<text x="67.6" y="627.3" font-size="11.2" text-anchor="end" fill="#111" >15</text>
<line x1="70.7" y1="590.8" x2="74.3" y2="590.8" stroke="#555" stroke-width="1.2" />
<text x="67.6" y="594.7" font-size="11.2" text-anchor="end" fill="#111" >20</text>
<line x1="73.6" y1="721.2" x2="194.0" y2="721.2" stroke="#555" stroke-width="1.4" />
<line x1="94.3" y1="576.0" x2="169.8" y2="576.0" stroke="#333" stroke-width="1.1" />
<text x="129.5" y="573.4" font-size="11.2" text-anchor="middle" fill="#111" >&lt;0.0001</text>
<line x1="89.3" y1="598.3" x2="131.8" y2="598.3" stroke="#aaa" stroke-width="1.3" />
<text x="109.3" y="593.8" font-size="11.2" text-anchor="middle" fill="#111" >&lt;0.0001</text>
<line x1="135.4" y1="598.3" x2="177.5" y2="598.3" stroke="#aaa" stroke-width="1.3" />
<text x="157.3" y="593.8" font-size="11.2" text-anchor="middle" fill="#111" >&lt;0.0001</text>
<path d="M99.7 645.0 C99.7 646.7 99.7 652.3 99.8 655.0 C99.9 657.7 99.8 659.7 100.1 661.4 C100.4 663.1 101.3 663.9 101.6 665.0 C101.8 666.1 101.8 667.0 101.6 668.0 C101.4 669.0 100.6 669.8 100.4 671.0 C100.2 672.2 100.2 673.3 100.4 675.0 C100.6 676.7 101.0 679.0 101.4 681.0 C101.8 683.0 102.4 685.2 103.0 687.0 C103.6 688.8 104.2 690.4 104.8 692.0 C105.4 693.6 106.1 695.2 106.8 696.7 C107.5 698.2 108.3 699.8 108.8 701.0 C109.3 702.2 109.7 702.8 109.8 704.0 C109.9 705.2 109.9 706.8 109.4 708.0 C108.9 709.2 107.7 710.1 106.8 711.0 C105.9 711.9 104.6 712.7 103.8 713.5 C103.0 714.3 102.4 715.1 102.0 716.0 C101.6 716.9 101.7 718.2 101.4 719.0 C101.1 719.8 101.0 720.3 100.3 720.6 C99.6 720.9 98.0 720.9 97.3 720.6 C96.6 720.3 96.5 719.8 96.2 719.0 C95.9 718.2 96.0 716.9 95.6 716.0 C95.2 715.1 94.6 714.3 93.8 713.5 C93.0 712.7 91.7 711.9 90.8 711.0 C89.9 710.1 88.7 709.2 88.2 708.0 C87.7 706.8 87.7 705.2 87.8 704.0 C87.9 702.8 88.3 702.2 88.8 701.0 C89.3 699.8 90.1 698.2 90.8 696.7 C91.5 695.2 92.2 693.6 92.8 692.0 C93.4 690.4 94.0 688.8 94.6 687.0 C95.2 685.2 95.8 683.0 96.2 681.0 C96.6 679.0 97.0 676.7 97.2 675.0 C97.4 673.3 97.4 672.2 97.2 671.0 C97.0 669.8 96.2 669.0 96.0 668.0 C95.8 667.0 95.8 666.1 96.0 665.0 C96.2 663.9 97.2 663.1 97.5 661.4 C97.8 659.7 97.7 657.7 97.8 655.0 C97.9 652.3 97.9 646.7 97.9 645.0 Z" fill="none" stroke="#9b4fb0" stroke-width="2.0" stroke-linejoin="round"/>
<path d="M134.8 604.0 C134.8 610.0 134.8 629.0 134.9 640.0 C135.0 651.0 135.0 663.5 135.1 670.0 C135.2 676.5 135.3 676.7 135.6 679.0 C135.9 681.3 136.1 682.1 136.8 684.0 C137.5 685.9 138.8 688.5 139.6 690.3 C140.4 692.1 140.9 693.4 141.6 695.0 C142.3 696.6 143.0 698.5 143.6 700.0 C144.2 701.5 144.6 702.7 144.9 704.0 C145.2 705.3 145.8 706.5 145.6 708.0 C145.4 709.5 144.6 711.5 143.8 712.8 C143.0 714.1 141.7 715.0 140.8 716.0 C139.9 717.0 139.4 717.8 138.6 718.5 C137.8 719.2 137.0 719.8 136.1 720.0 C135.2 720.2 134.0 720.2 133.1 720.0 C132.2 719.8 131.4 719.2 130.6 718.5 C129.8 717.8 129.3 717.0 128.4 716.0 C127.5 715.0 126.2 714.1 125.4 712.8 C124.6 711.5 123.8 709.5 123.6 708.0 C123.4 706.5 124.0 705.3 124.3 704.0 C124.6 702.7 125.0 701.5 125.6 700.0 C126.1 698.5 126.9 696.6 127.6 695.0 C128.3 693.4 128.8 692.1 129.6 690.3 C130.4 688.5 131.7 685.9 132.4 684.0 C133.1 682.1 133.3 681.3 133.6 679.0 C133.9 676.7 134.0 676.5 134.1 670.0 C134.2 663.5 134.2 651.0 134.3 640.0 C134.3 629.0 134.4 610.0 134.4 604.0 Z" fill="none" stroke="#d4d4d4" stroke-width="1.8" stroke-linejoin="round"/>
<path d="M170.8 656.6 C170.8 658.5 170.8 664.9 170.9 668.0 C171.0 671.1 171.1 673.0 171.3 675.0 C171.5 677.0 171.8 678.5 172.1 680.0 C172.4 681.5 172.7 682.8 172.9 684.0 C173.1 685.2 173.1 685.7 173.3 687.0 C173.5 688.3 174.1 690.4 174.3 692.0 C174.6 693.6 174.6 695.2 174.8 696.7 C175.1 698.2 175.5 699.7 175.8 701.0 C176.1 702.3 176.0 703.5 176.5 704.7 C177.0 705.9 178.0 706.9 178.8 708.0 C179.6 709.1 181.2 710.1 181.3 711.2 C181.5 712.3 180.6 713.5 179.7 714.4 C178.8 715.3 176.8 715.9 175.8 716.5 C174.8 717.1 174.2 717.3 173.8 718.0 C173.4 718.7 174.2 720.1 173.1 720.5 C172.1 720.9 168.6 720.9 167.5 720.5 C166.4 720.1 167.2 718.7 166.8 718.0 C166.4 717.3 165.8 717.1 164.8 716.5 C163.8 715.9 161.8 715.3 160.9 714.4 C160.0 713.5 159.2 712.3 159.3 711.2 C159.5 710.1 161.0 709.1 161.8 708.0 C162.6 706.9 163.6 705.9 164.1 704.7 C164.6 703.5 164.5 702.3 164.8 701.0 C165.1 699.7 165.6 698.2 165.8 696.7 C166.1 695.2 166.1 693.6 166.3 692.0 C166.6 690.4 167.1 688.3 167.3 687.0 C167.5 685.7 167.5 685.2 167.7 684.0 C167.9 682.8 168.2 681.5 168.5 680.0 C168.8 678.5 169.1 677.0 169.3 675.0 C169.5 673.0 169.6 671.1 169.7 668.0 C169.8 664.9 169.8 658.5 169.8 656.6 Z" fill="none" stroke="#2a9d9a" stroke-width="2.0" stroke-linejoin="round"/>
<line x1="93.9" y1="691.6" x2="103.7" y2="691.6" stroke="#d9a8e8" stroke-width="1" />
<line x1="89.5" y1="702.0" x2="108.1" y2="702.0" stroke="#111" stroke-width="1" stroke-dasharray="2 1.5"/>
<line x1="89.1" y1="707.2" x2="108.5" y2="707.2" stroke="#d9a8e8" stroke-width="1" />
<line x1="127.4" y1="698.0" x2="141.8" y2="698.0" stroke="#e4e4e4" stroke-width="1" />
<line x1="125.0" y1="705.5" x2="144.2" y2="705.5" stroke="#111" stroke-width="1" stroke-dasharray="2 1.5"/>
<line x1="125.5" y1="710.4" x2="143.7" y2="710.4" stroke="#e4e4e4" stroke-width="1" />
<line x1="165.8" y1="701.2" x2="174.8" y2="701.2" stroke="#7cc8c5" stroke-width="1" />
<line x1="161.6" y1="709.6" x2="179.1" y2="709.6" stroke="#111" stroke-width="1" stroke-dasharray="2 1.5"/>
<line x1="160.8" y1="712.3" x2="179.8" y2="712.3" stroke="#7cc8c5" stroke-width="1" />
<text x="0" y="0" font-size="11.2" text-anchor="end" transform="translate(109.8 727) rotate(-30)" fill="#111">Both down</text>
<text x="0" y="0" font-size="11.2" text-anchor="end" transform="translate(147 730) rotate(-30)" fill="#111">Only RNA</text>
<text x="0" y="0" font-size="11.2" text-anchor="end" transform="translate(178 731.5) rotate(-30)" fill="#111">Both up</text>
<text x="0" y="0" font-size="11.2" text-anchor="middle" transform="translate(36.5 652.5) rotate(-90)" fill="#111">H3K4me3 breadth</text>
<text x="0" y="0" font-size="11.2" text-anchor="middle" transform="translate(50.3 652.5) rotate(-90)" fill="#111">(Kb) in <tspan font-style="italic">WT</tspan></text>
<text x="502.6" y="561.0" font-size="12.5" fill="#111" >Gene Ontology (GO)</text>
<rect x="512.9" y="575.8" width="82.6" height="12.8" fill="#8b2ab5" />
<circle cx="596.1" cy="582.2" r="3.6" fill="#222"/>
<line x1="509.9" y1="582.2" x2="512.9" y2="582.2" stroke="#555" stroke-width="1" />
<text x="502.3" y="586.1" font-size="11.2" text-anchor="end" fill="#111" >Mitotic cell cycle</text>
<rect x="512.9" y="593.8" width="44.1" height="12.8" fill="#8b2ab5" />
<circle cx="557.6" cy="600.2" r="3.3" fill="#222"/>
<line x1="509.9" y1="600.2" x2="512.9" y2="600.2" stroke="#555" stroke-width="1" />
<text x="502.3" y="604.1" font-size="11.2" text-anchor="end" fill="#111" >Positive regulation of leukocyte activation</text>
<rect x="512.9" y="611.6" width="43.3" height="12.8" fill="#8b2ab5" />
<circle cx="556.8" cy="618.0" r="3.3" fill="#222"/>
<line x1="509.9" y1="618.0" x2="512.9" y2="618.0" stroke="#555" stroke-width="1" />
<text x="502.3" y="621.9" font-size="11.2" text-anchor="end" fill="#111" >Nuclear division</text>
<rect x="512.9" y="629.9" width="28.0" height="12.8" fill="#8b2ab5" />
<circle cx="541.5" cy="636.3" r="2.3" fill="#222"/>
<line x1="509.9" y1="636.3" x2="512.9" y2="636.3" stroke="#555" stroke-width="1" />
<text x="502.3" y="640.2" font-size="11.2" text-anchor="end" fill="#111" >Germinal center formation</text>
<rect x="512.9" y="648.0" width="22.1" height="12.8" fill="#8b2ab5" />
<circle cx="535.6" cy="654.4" r="3" fill="#222"/>
<line x1="509.9" y1="654.4" x2="512.9" y2="654.4" stroke="#555" stroke-width="1" />
<text x="502.3" y="658.3" font-size="11.2" text-anchor="end" fill="#111" >DNA damage response</text>
<rect x="512.9" y="667.5" width="53.0" height="12.8" fill="#3a9484" />
<circle cx="566.5" cy="673.9" r="3.6" fill="#222"/>
<line x1="509.9" y1="673.9" x2="512.9" y2="673.9" stroke="#555" stroke-width="1" />
<text x="502.3" y="677.8" font-size="11.2" text-anchor="end" fill="#111" >Intracellular signaling cassette</text>
<rect x="512.9" y="685.4" width="48.8" height="12.8" fill="#3a9484" />
<circle cx="562.3" cy="691.8" r="4" fill="#222"/>
<line x1="509.9" y1="691.8" x2="512.9" y2="691.8" stroke="#555" stroke-width="1" />
<text x="502.3" y="695.7" font-size="11.2" text-anchor="end" fill="#111" >Positive regulation of cell adhesion</text>
<rect x="512.9" y="703.4" width="41.3" height="12.8" fill="#3a9484" />
<circle cx="554.8" cy="709.8" r="3.6" fill="#222"/>
<line x1="509.9" y1="709.8" x2="512.9" y2="709.8" stroke="#555" stroke-width="1" />
<text x="502.3" y="713.7" font-size="11.2" text-anchor="end" fill="#111" >Positive regulation of cell migration</text>
<rect x="512.9" y="722.0" width="35.3" height="12.8" fill="#3a9484" />
<circle cx="548.8" cy="728.4" r="3" fill="#222"/>
<line x1="509.9" y1="728.4" x2="512.9" y2="728.4" stroke="#555" stroke-width="1" />
<text x="502.3" y="732.3" font-size="11.2" text-anchor="end" fill="#111" >Regulation of cellular response to growth factor stimulus</text>
<rect x="512.9" y="740.0" width="33.5" height="12.8" fill="#3a9484" />
<circle cx="547.0" cy="746.4" r="3.6" fill="#222"/>
<line x1="509.9" y1="746.4" x2="512.9" y2="746.4" stroke="#555" stroke-width="1" />
<text x="502.3" y="750.3" font-size="11.2" text-anchor="end" fill="#111" >Positive regulation of cell development</text>
<line x1="510.3" y1="756.7" x2="609.8" y2="756.7" stroke="#555" stroke-width="1.4" />
<line x1="510.7" y1="756.7" x2="510.7" y2="759.8" stroke="#555" stroke-width="1" />
<text x="512.2" y="770.1" font-size="11.2" text-anchor="middle" fill="#111" >0</text>
<line x1="543.0" y1="756.7" x2="543.0" y2="759.8" stroke="#555" stroke-width="1" />
<text x="543.0" y="770.1" font-size="11.2" text-anchor="middle" fill="#111" >5</text>
<line x1="575.4" y1="756.7" x2="575.4" y2="759.8" stroke="#555" stroke-width="1" />
<text x="575.4" y="770.1" font-size="11.2" text-anchor="middle" fill="#111" >10</text>
<line x1="607.8" y1="756.7" x2="607.8" y2="759.8" stroke="#555" stroke-width="1" />
<text x="607.8" y="770.1" font-size="11.2" text-anchor="middle" fill="#111" >15</text>
<text x="557.8" y="785.1" font-size="11.2" text-anchor="middle" fill="#111">-Log10(<tspan font-style="italic">p</tspan>-value)</text>
<text x="622.0" y="612.0" font-size="9.8" font-weight="bold" fill="#111" >Counts</text>
<circle cx="619.2" cy="621.2" r="2.2" fill="#222"/>
<text x="631.7" y="623.6" font-size="8.5" fill="#111" >20</text>
<circle cx="619.2" cy="628.7" r="3.1" fill="#222"/>
<text x="631.7" y="633.5" font-size="8.5" fill="#111" >30</text>
<circle cx="619.2" cy="637.4" r="3.8" fill="#222"/>
<text x="631.7" y="642.5" font-size="8.5" fill="#111" >40</text>
<circle cx="619.2" cy="648.2" r="4.4" fill="#222"/>
<text x="631.7" y="653.3" font-size="8.5" fill="#111" >50</text>
<rect x="611.1" y="690.0" width="16.5" height="7.0" fill="#9a3fc0" />
<text x="631.7" y="696.5" font-size="11.2" fill="#111" >Both down</text>
<rect x="611.1" y="710.9" width="16.5" height="7.0" fill="#3a9484" />
<text x="631.7" y="717.5" font-size="11.2" fill="#111" >Both up</text>
<text x="5.0" y="833.8" font-size="1" fill="#111" ></text>
<line x1="62.5" y1="837.4" x2="131.4" y2="837.4" stroke="#444" stroke-width="1" />
<line x1="62.5" y1="832.4" x2="62.5" y2="843.0" stroke="#444" stroke-width="1" />
<line x1="131.4" y1="832.4" x2="131.4" y2="843.0" stroke="#444" stroke-width="1" />
<text x="97.0" y="834.2" font-size="11.2" text-anchor="middle" fill="#111" >5Kb</text>
<line x1="150.0" y1="835.0" x2="169.4" y2="835.0" stroke="#ff0000" stroke-width="3.2" />
<text x="175.8" y="838.6" font-size="11.2" fill="#ff0000"><tspan font-style="italic">Cfp1</tspan><tspan font-size="7" dy="-3.5">fl/fl</tspan></text>
<line x1="215.4" y1="835.0" x2="234.9" y2="835.0" stroke="#0000ff" stroke-width="3.2" />
<text x="242.3" y="838.6" font-size="11.2" fill="#0000ff"><tspan font-style="italic">Cfp1</tspan><tspan font-size="7" dy="-3.5">fl/fl</tspan><tspan dy="3.5"> </tspan><tspan font-style="italic">Aicda</tspan><tspan font-size="7" dy="-3.5">Cre</tspan></text>
<line x1="57.3" y1="844.0" x2="57.3" y2="878.3" stroke="#111" stroke-width="1.8" />
<line x1="57.3" y1="881.3" x2="57.3" y2="916.5" stroke="#111" stroke-width="1.8" />
<text x="48.3" y="864.4" font-size="11.2" text-anchor="end" font-weight="bold" fill="#111" >mRNA</text>
<text x="50.2" y="901.7" font-size="11.2" text-anchor="end" font-weight="bold" fill="#111" >H3K4me3</text>
<line x1="62.5" y1="843.2" x2="62.5" y2="960.0" stroke="#7a7a7a" stroke-width="1" />
<line x1="307.3" y1="843.2" x2="307.3" y2="960.0" stroke="#d0d0d0" stroke-width="1" />
<line x1="62.0" y1="843.2" x2="307.8" y2="843.2" stroke="#dedede" stroke-width="1.2" />
<line x1="317.5" y1="843.2" x2="317.5" y2="960.0" stroke="#d8d8d8" stroke-width="1" />
<line x1="509.7" y1="843.2" x2="509.7" y2="960.0" stroke="#9a9a9a" stroke-width="1" />
<line x1="317.0" y1="843.2" x2="510.2" y2="843.2" stroke="#707070" stroke-width="1.2" />
<line x1="519.2" y1="843.2" x2="519.2" y2="960.0" stroke="#d0d0d0" stroke-width="1" />
<line x1="630.4" y1="843.2" x2="630.4" y2="960.0" stroke="#b8b8b8" stroke-width="1" />
<line x1="518.7" y1="843.2" x2="630.9" y2="843.2" stroke="#d0d0d0" stroke-width="1.2" />
<line x1="66.3" y1="861.3" x2="300.9" y2="861.3" stroke="#ff3030" stroke-width="1" />
<path d="M71.8 861.3 L72.2 850.7 L72.7 849.9 L73.2 850.2 L73.7 861.3 Z M81.4 861.3 L81.8 848.0 L82.3 847.2 L84.2 847.5 L84.7 861.3 Z M102.1 861.3 L102.5 850.7 L103.0 849.9 L106.6 850.2 L107.1 861.3 Z M107.4 861.3 L107.8 852.2 L108.3 851.4 L110.7 851.7 L111.2 861.3 Z M119.4 861.3 L119.8 848.8 L120.3 848.0 L122.5 848.3 L123.0 861.3 Z M130.2 861.3 L130.6 847.4 L131.1 846.6 L132.2 846.9 L132.7 861.3 Z M153.4 861.3 L153.8 848.8 L154.3 848.0 L155.7 848.3 L156.2 861.3 Z M170.0 861.3 L170.4 849.3 L170.9 848.5 L171.8 848.8 L172.3 861.3 Z M195.7 861.3 L196.1 850.5 L196.6 849.7 L197.5 850.0 L198.0 861.3 Z M225.7 861.3 L226.1 847.7 L226.6 846.9 L229.4 847.2 L229.9 861.3 Z M246.5 861.3 L246.9 849.1 L247.4 848.3 L248.2 848.6 L248.7 861.3 Z M249.8 861.3 L250.2 848.5 L250.7 847.7 L251.5 848.0 L252.0 861.3 Z M198.0 861.3 L198.0 860.1 L221.5 859.9 L222.0 861.3 Z M253.0 861.3 L253.4 846.5 L255.0 846.0 L256.0 848.0 L257.5 846.2 L259.0 849.0 L261.0 847.5 L263.1 852.0 L265.0 859.0 L268.0 860.3 L285.0 860.6 L300.6 860.8 L300.6 861.3 Z " fill="#ff0000"/>
<line x1="66.3" y1="880.0" x2="300.9" y2="880.0" stroke="#c0c0ff" stroke-width="1" />
<path d="M71.8 880.0 L72.2 876.8 L72.7 876.0 L73.2 876.3 L73.7 880.0 Z M81.4 880.0 L81.8 875.3 L82.3 874.5 L84.2 874.8 L84.7 880.0 Z M102.1 880.0 L102.5 875.8 L103.0 875.0 L106.6 875.3 L107.1 880.0 Z M107.4 880.0 L107.8 876.8 L108.3 876.0 L110.7 876.3 L111.2 880.0 Z M119.4 880.0 L119.8 875.8 L120.3 875.0 L122.5 875.3 L123.0 880.0 Z M130.2 880.0 L130.6 875.6 L131.1 874.8 L132.2 875.1 L132.7 880.0 Z M153.4 880.0 L153.8 875.8 L154.3 875.0 L155.7 875.3 L156.2 880.0 Z M170.0 880.0 L170.4 875.6 L170.9 874.8 L171.8 875.1 L172.3 880.0 Z M195.7 880.0 L196.1 876.3 L196.6 875.5 L197.5 875.8 L198.0 880.0 Z M225.7 880.0 L226.1 874.8 L226.6 874.0 L229.4 874.3 L229.9 880.0 Z M246.5 880.0 L246.9 874.6 L247.4 873.8 L248.2 874.1 L248.7 880.0 Z M249.8 880.0 L250.2 874.3 L250.7 873.5 L251.5 873.8 L252.0 880.0 Z M198.0 880.0 L198.0 878.0 L221.5 877.6 L222.0 880.0 Z M253.0 880.0 L253.4 872.5 L255.0 872.0 L256.0 874.0 L257.5 872.2 L259.0 874.5 L261.0 873.5 L263.1 876.0 L265.0 879.0 L300.6 879.5 L300.6 880.0 Z " fill="#0000ff"/>
<line x1="66.3" y1="898.5" x2="300.9" y2="898.5" stroke="#ff7070" stroke-width="1" />
<path d="M68.5 898.5 L70.0 890.0 L71.5 886.5 L73.3 885.9 L75.0 888.0 L77.0 888.4 L78.5 889.5 L80.0 893.0 L82.8 895.8 L88.0 896.5 L95.0 897.0 L101.7 897.5 L103.0 898.5 Z " fill="#ff0000"/>
<line x1="66.3" y1="917.4" x2="300.9" y2="917.4" stroke="#4848ff" stroke-width="1" />
<path d="M68.0 917.4 L70.0 913.5 L73.3 910.6 L75.5 912.8 L78.0 911.8 L80.0 913.8 L82.0 915.2 L84.7 914.6 L86.5 916.0 L90.0 916.5 L97.0 916.6 L98.0 917.4 Z " fill="#0000ff"/>
<line x1="70.4" y1="926.9" x2="290.9" y2="926.9" stroke="#0000ff" stroke-width="1" />
<rect x="70.4" y="925.3" width="1.9" height="3.2" fill="#0000ff" />
<rect x="82.4" y="924.1" width="1.9" height="5.5" fill="#0000ff" />
<rect x="103.3" y="923.9" width="3.2" height="6.0" fill="#0000ff" />
<rect x="107.8" y="923.9" width="3.1" height="6.0" fill="#0000ff" />
<rect x="119.8" y="923.9" width="2.2" height="6.0" fill="#0000ff" />
<rect x="130.8" y="924.4" width="0.9" height="5.0" fill="#0000ff" />
<rect x="153.9" y="924.4" width="1.4" height="5.0" fill="#0000ff" />
<rect x="170.0" y="924.4" width="2.0" height="5.0" fill="#0000ff" />
<rect x="195.7" y="924.4" width="1.4" height="5.0" fill="#0000ff" />
<rect x="227.0" y="923.9" width="2.9" height="6.0" fill="#0000ff" />
<rect x="246.5" y="923.9" width="2.2" height="6.0" fill="#0000ff" />
<rect x="253.4" y="924.6" width="37.5" height="4.5" fill="#0000ff" />
<path d="M78.5 925.3 L80.5 926.9 L78.5 928.5 M91.5 925.3 L93.5 926.9 L91.5 928.5 M111.5 925.3 L113.5 926.9 L111.5 928.5 M137.5 925.3 L139.5 926.9 L137.5 928.5 M160.5 925.3 L162.5 926.9 L160.5 928.5 M181.5 925.3 L183.5 926.9 L181.5 928.5 M209.5 925.3 L211.5 926.9 L209.5 928.5 M238.5 925.3 L240.5 926.9 L238.5 928.5 " fill="none" stroke="#0000ff" stroke-width="0.8"/>
<text x="182.7" y="944.2" font-size="11.2" font-style="italic" text-anchor="middle" fill="#111">Cdc6</text>
<text x="304.4" y="855.2" font-size="9.8" text-anchor="end" fill="#111" >300</text>
<text x="304.4" y="872.9" font-size="9.8" text-anchor="end" fill="#111" >300</text>
<text x="304.4" y="890.9" font-size="9.8" text-anchor="end" fill="#111" >900</text>
<text x="304.4" y="909.4" font-size="9.8" text-anchor="end" fill="#111" >900</text>
<line x1="319.9" y1="862.0" x2="503.5" y2="862.0" stroke="#ff0000" stroke-width="1" />
<path d="M340.0 862.0 L340.4 856.5 L340.9 855.7 L341.3 856.0 L341.8 862.0 Z M417.4 862.0 L417.8 848.9 L418.3 848.1 L419.8 848.4 L420.3 862.0 Z M438.7 862.0 L439.1 851.2 L439.6 850.4 L443.1 850.7 L443.6 862.0 Z M450.4 862.0 L450.8 847.8 L451.3 847.0 L451.9 847.3 L452.4 862.0 Z M420.3 862.0 L420.3 859.8 L437.2 860.0 L437.2 862.0 Z M457.7 862.0 L458.0 847.5 L462.0 847.0 L463.0 849.0 L466.0 850.0 L468.0 848.5 L471.0 851.0 L474.0 849.0 L477.0 848.5 L480.0 847.8 L482.5 850.0 L482.8 862.0 Z " fill="#ff0000"/>
<line x1="319.9" y1="880.5" x2="503.5" y2="880.5" stroke="#9a9aff" stroke-width="1" />
<path d="M340.3 880.5 L340.7 878.4 L341.2 877.6 L341.0 877.9 L341.5 880.5 Z M417.4 880.5 L417.8 875.5 L418.3 874.7 L419.8 875.0 L420.3 880.5 Z M438.7 880.5 L439.1 875.5 L439.6 874.7 L443.1 875.0 L443.6 880.5 Z M450.4 880.5 L450.8 874.6 L451.3 873.8 L451.9 874.1 L452.4 880.5 Z M457.7 880.5 L458.0 873.5 L462.0 873.2 L464.0 875.0 L468.0 875.5 L471.0 876.0 L474.0 875.0 L477.0 874.8 L480.0 874.5 L481.5 876.0 L482.0 880.5 Z M429.0 880.5 L429.0 878.6 L435.0 878.5 L435.0 880.5 Z " fill="#0000ff"/>
<line x1="319.9" y1="899.3" x2="503.5" y2="899.3" stroke="#ff0000" stroke-width="1" />
<path d="M332.0 899.3 L336.0 896.0 L339.0 891.0 L342.3 887.0 L345.0 889.0 L347.0 893.0 L349.0 895.0 L351.0 894.8 L353.0 896.0 L355.5 897.5 L357.0 895.0 L360.0 888.0 L363.6 884.0 L366.0 887.0 L369.0 890.0 L372.0 893.0 L376.0 895.0 L380.0 896.2 L385.0 897.0 L393.4 897.5 L394.0 899.3 Z " fill="#ff0000"/>
<line x1="319.9" y1="918.2" x2="503.5" y2="918.2" stroke="#9a9aff" stroke-width="1" />
<path d="M336.5 918.2 L339.0 915.0 L343.0 914.0 L347.0 914.5 L351.0 915.5 L354.0 916.5 L357.0 916.0 L360.0 913.5 L363.6 911.8 L367.0 913.0 L370.0 914.8 L374.0 914.5 L378.0 915.6 L382.0 915.0 L386.0 916.0 L390.5 916.6 L391.0 918.2 Z " fill="#0000ff"/>
<line x1="340.3" y1="925.8" x2="481.6" y2="925.8" stroke="#0000ff" stroke-width="1" />
<rect x="340.3" y="922.8" width="1.5" height="6.0" fill="#0000ff" />
<rect x="417.4" y="922.8" width="2.3" height="6.0" fill="#0000ff" />
<rect x="439.6" y="922.8" width="2.9" height="6.0" fill="#0000ff" />
<rect x="450.4" y="922.8" width="1.4" height="6.0" fill="#0000ff" />
<rect x="459.1" y="923.5" width="22.5" height="4.5" fill="#0000ff" />
<path d="M354.5 924.2 L356.5 925.8 L354.5 927.4 M379.5 924.2 L381.5 925.8 L379.5 927.4 M401.5 924.2 L403.5 925.8 L401.5 927.4 M428.5 924.2 L430.5 925.8 L428.5 927.4 M445.5 924.2 L447.5 925.8 L445.5 927.4 " fill="none" stroke="#0000ff" stroke-width="0.8"/>
<text x="419.7" y="944" font-size="11.2" font-style="italic" text-anchor="middle" fill="#111">Aicda</text>
<text x="506.6" y="855.7" font-size="9.8" text-anchor="end" fill="#111" >2000</text>
<text x="506.6" y="873.0" font-size="9.8" text-anchor="end" fill="#111" >2000</text>
<text x="506.6" y="890.7" font-size="9.8" text-anchor="end" fill="#111" >800</text>
<text x="506.6" y="909.1" font-size="9.8" text-anchor="end" fill="#111" >800</text>
<line x1="521.3" y1="860.0" x2="623.0" y2="860.0" stroke="#ff6666" stroke-width="1" />
<path d="M533.9 860.0 L535.0 855.0 L540.0 854.2 L548.0 854.5 L552.0 855.0 L556.0 854.5 L560.0 855.5 L564.0 854.6 L569.2 854.8 L569.4 858.2 L580.0 858.5 L593.7 858.5 L594.0 860.0 Z " fill="#ff0000"/>
<line x1="521.3" y1="877.9" x2="623.0" y2="877.9" stroke="#8080ff" stroke-width="1" />
<path d="M533.3 877.9 L535.0 866.0 L537.0 865.3 L540.0 866.5 L545.0 867.5 L548.0 866.2 L552.0 867.8 L556.0 868.5 L560.0 867.5 L564.0 869.0 L568.0 867.5 L569.2 868.0 L569.4 874.5 L575.0 874.2 L580.0 873.8 L585.0 874.5 L593.7 874.8 L594.0 877.9 Z " fill="#0000ff"/>
<line x1="521.3" y1="897.3" x2="623.0" y2="897.3" stroke="#ff6666" stroke-width="1" />
<path d="M544.4 897.3 L547.0 894.5 L552.0 895.0 L558.0 895.3 L563.0 894.6 L566.0 893.6 L570.0 894.0 L573.0 891.5 L577.0 892.8 L582.0 893.5 L586.0 892.6 L590.0 889.5 L593.0 888.4 L596.0 891.0 L600.0 893.0 L604.2 895.5 L610.0 896.8 L612.0 897.3 Z " fill="#ff0000"/>
<line x1="521.3" y1="916.2" x2="623.0" y2="916.2" stroke="#8080ff" stroke-width="1" />
<path d="M544.4 916.2 L548.0 914.5 L555.0 914.0 L560.0 913.6 L565.0 913.0 L568.0 912.0 L572.0 913.5 L575.0 908.5 L577.3 906.3 L580.0 908.0 L583.0 910.0 L586.0 909.0 L589.0 911.5 L591.0 904.0 L593.0 901.8 L596.0 904.0 L599.0 908.0 L603.0 912.0 L608.7 915.5 L615.0 915.6 L615.0 916.2 Z " fill="#0000ff"/>
<line x1="532.4" y1="926.7" x2="595.5" y2="926.7" stroke="#0000ff" stroke-width="1" />
<rect x="532.4" y="924.5" width="18.8" height="4.5" fill="#0000ff" />
<rect x="551.2" y="923.2" width="18.0" height="7.0" fill="#0000ff" />
<rect x="591.6" y="924.5" width="3.9" height="4.5" fill="#0000ff" />
<path d="M576.5 925.1 L578.5 926.7 L576.5 928.3 M583.5 925.1 L585.5 926.7 L583.5 928.3 " fill="none" stroke="#0000ff" stroke-width="0.8"/>
<text x="572.8" y="944.6" font-size="11.2" font-style="italic" text-anchor="middle" fill="#111">S1pr1</text>
<text x="627.5" y="855.0" font-size="9.8" text-anchor="end" fill="#111" >900</text>
<text x="627.5" y="872.5" font-size="9.8" text-anchor="end" fill="#111" >900</text>
<text x="627.5" y="890.6" font-size="9.8" text-anchor="end" fill="#111" >1800</text>
<text x="627.5" y="909.0" font-size="9.8" text-anchor="end" fill="#111" >1800</text>
</g></svg></body></html>
